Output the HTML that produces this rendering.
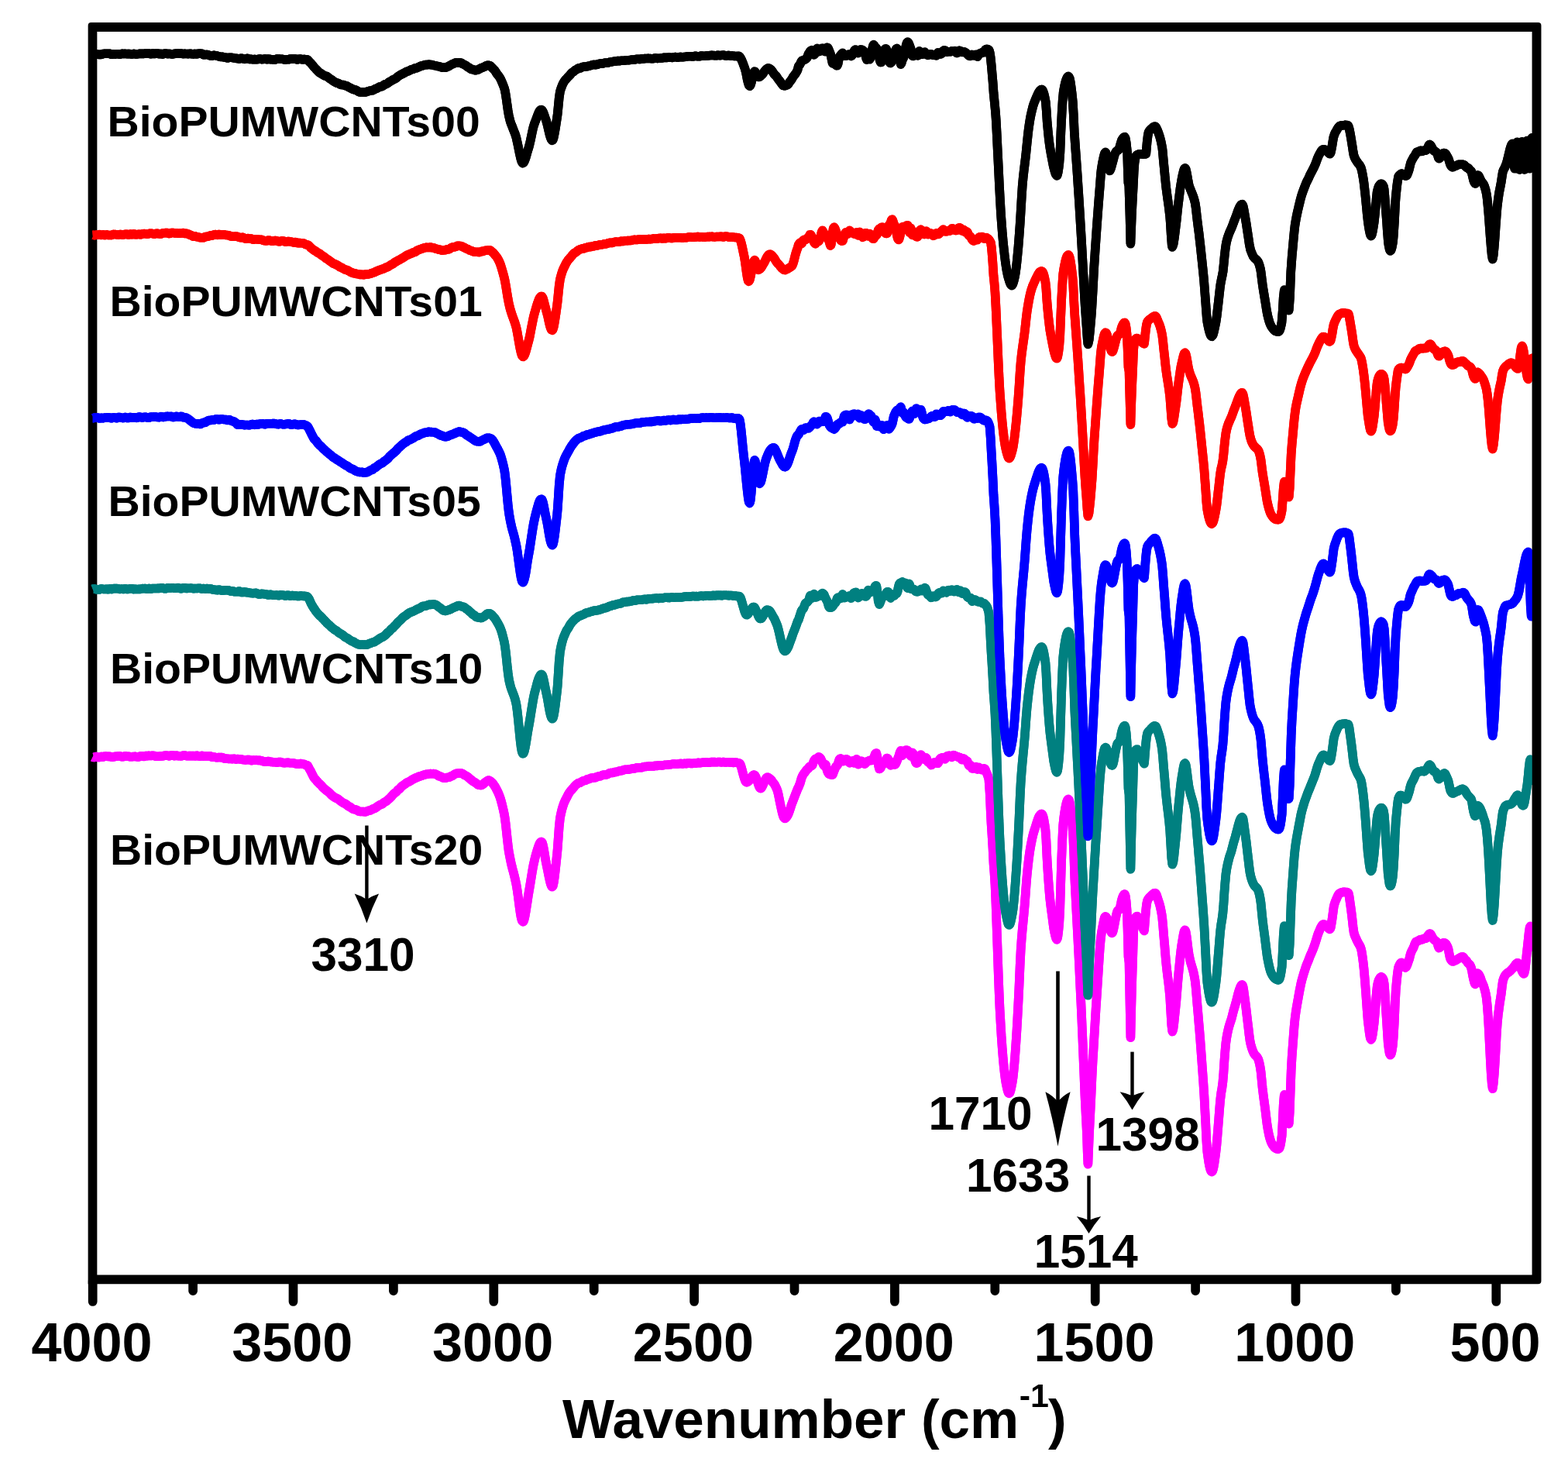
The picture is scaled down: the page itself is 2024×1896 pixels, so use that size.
<!DOCTYPE html>
<html lang="en"><head><meta charset="utf-8"><title>FTIR spectra of BioPU/MWCNTs</title>
<style>html,body{margin:0;padding:0;background:#fff}body{width:2024px;height:1896px;overflow:hidden}svg{display:block}text{font-family:"Liberation Sans",Arial,Helvetica,sans-serif;font-weight:700;fill:#000}</style></head><body>
<svg width="2024" height="1896" viewBox="0 0 2024 1896">
<rect width="2024" height="1896" fill="#fff"/>
<path fill-rule="evenodd" fill="#000" d="M117.65,28.95 H1985.45 Q1989.45,28.95 1989.45,32.95 V1653.25 Q1989.45,1657.25 1985.45,1657.25 H113.65 V32.95 Q113.65,28.95 117.65,28.95 Z M125.35,40.65 V1645.55 H1977.75 V40.65 Z"/>
<path d="M119.7,1652.9 V1680.0M249.1,1652.9 V1666.2M378.5,1652.9 V1680.0M507.9,1652.9 V1666.2M637.3,1652.9 V1680.0M766.7,1652.9 V1666.2M896.1,1652.9 V1680.0M1025.5,1652.9 V1666.2M1154.9,1652.9 V1680.0M1284.3,1652.9 V1666.2M1413.7,1652.9 V1680.0M1543.1,1652.9 V1666.2M1672.5,1652.9 V1680.0M1801.9,1652.9 V1666.2M1931.3,1652.9 V1680.0" fill="none" stroke="#000" stroke-width="11.7" stroke-linecap="round"/>
<clipPath id="plot"><rect x="113" y="30" width="1871" height="1625"/></clipPath>
<defs>
<path id="c-mag" d="M119.7,977.0L120.7,977.5L121.7,977.4L122.7,977.0L123.7,976.6L124.7,976.6L125.7,977.1L126.7,977.5L127.7,977.4L128.7,977.4L129.7,976.9L130.7,976.4L131.7,976.6L132.7,977.0L133.7,976.8L134.7,976.3L135.7,976.1L136.7,976.1L137.7,976.2L138.7,976.3L139.7,976.4L140.7,976.3L141.7,976.2L142.7,976.5L143.7,977.0L144.7,977.1L145.7,977.1L146.7,976.9L147.7,976.6L148.7,976.3L149.7,976.3L150.7,976.2L151.7,976.1L152.7,976.0L153.7,975.9L154.7,975.9L155.7,976.2L156.7,976.6L157.7,976.8L158.7,976.7L159.7,976.6L160.7,976.1L161.7,975.8L162.7,976.0L163.7,976.3L164.7,976.2L165.7,976.2L166.7,976.4L167.7,976.7L168.7,976.8L169.7,976.7L170.7,976.7L171.7,976.6L172.7,976.5L173.7,976.4L174.7,976.4L175.7,976.6L176.7,976.8L177.7,976.9L178.7,976.9L179.7,976.6L180.7,976.2L181.7,975.8L182.7,975.7L183.7,975.7L184.7,976.1L185.7,976.5L186.7,976.1L187.7,975.5L188.7,975.5L189.7,975.6L190.7,975.6L191.7,975.4L192.7,975.4L193.7,975.5L194.7,975.5L195.7,975.4L196.7,975.2L197.7,975.3L198.7,975.4L199.7,975.7L200.7,976.1L201.7,976.3L202.7,976.3L203.7,976.3L204.7,976.2L205.7,976.2L206.7,976.0L207.7,975.8L208.7,975.8L209.7,975.9L210.7,975.7L211.7,975.4L212.7,975.2L213.7,975.1L214.7,975.1L215.7,975.2L216.7,975.4L217.7,975.6L218.7,975.9L219.7,975.4L220.7,974.9L221.7,974.8L222.7,974.7L223.7,975.0L224.7,975.5L225.7,975.7L226.7,975.3L227.7,975.0L228.7,975.3L229.7,975.7L230.7,975.7L231.7,975.7L232.7,975.8L233.7,975.9L234.7,975.7L235.7,975.3L236.7,975.0L237.7,975.0L238.7,975.0L239.7,975.3L240.7,975.7L241.7,975.7L242.7,975.7L243.7,975.6L244.7,975.6L245.7,975.6L246.4,975.6L247.7,975.7L248.7,975.6L249.7,975.6L250.7,975.7L251.7,975.9L252.7,975.6L253.7,975.2L254.7,975.3L255.7,975.7L256.7,976.0L257.7,976.1L258.7,976.1L259.7,975.7L260.7,975.4L261.7,975.7L262.7,976.1L263.7,976.0L264.7,975.8L265.7,975.8L266.7,976.0L267.7,976.0L268.7,975.9L269.7,975.8L270.7,975.8L271.7,976.0L272.7,976.6L273.7,977.2L274.7,977.1L275.7,976.9L276.7,977.1L277.7,977.4L278.7,977.6L279.7,977.8L280.7,977.8L281.7,977.6L282.7,977.5L283.7,977.6L284.7,977.6L285.7,977.6L286.7,977.6L287.7,978.0L288.7,978.6L289.7,978.9L290.7,979.0L291.7,979.1L292.7,979.2L293.7,979.2L294.7,979.4L295.7,979.5L296.7,979.5L297.7,979.5L298.7,979.6L299.7,979.7L300.7,979.6L301.9,979.2L302.7,979.2L303.7,979.7L304.7,980.1L305.7,979.9L306.7,979.6L307.7,979.7L308.7,979.8L309.7,979.9L310.7,979.9L311.7,980.0L312.7,980.3L313.7,980.6L314.7,980.7L315.7,980.8L316.7,980.9L317.7,980.9L318.7,980.7L319.7,980.5L320.7,980.5L321.7,980.5L322.7,980.8L323.7,981.3L324.7,981.6L325.7,981.3L326.7,981.0L327.7,981.1L328.7,981.3L329.7,981.2L330.7,981.1L331.7,981.2L332.7,981.4L333.7,981.4L334.7,981.4L335.7,981.4L336.7,981.6L337.7,981.9L338.7,982.3L339.7,982.6L340.7,982.9L341.7,983.1L342.7,983.1L343.7,983.0L344.7,982.8L345.7,982.6L346.7,982.5L347.7,982.9L348.7,983.3L349.7,983.4L350.7,983.4L351.7,983.6L352.4,983.7L353.7,983.8L354.7,983.7L355.7,983.8L356.7,984.1L357.7,984.2L358.7,983.9L359.7,983.6L360.7,983.5L361.7,983.5L362.7,983.7L363.7,984.0L364.7,984.3L365.7,984.6L366.7,984.7L367.7,984.7L368.7,984.6L369.7,984.4L370.7,984.3L371.7,984.4L372.7,984.4L373.7,984.6L374.7,984.8L375.7,984.8L376.7,984.7L377.7,984.7L378.7,984.9L379.7,985.1L380.7,985.5L381.7,985.8L382.7,985.9L383.7,985.9L384.7,986.0L385.7,986.1L386.7,985.8L387.7,985.5L388.7,985.5L389.7,986.0L390.7,986.3L391.7,986.3L392.7,986.3L393.7,986.9L394.7,987.5L395.3,987.5L396.7,987.7L397.7,989.1L398.7,991.2L399.7,993.0L400.7,994.6L401.7,996.6L402.7,998.7L403.7,1000.7L404.7,1002.7L405.4,1003.8L406.7,1005.4L407.7,1006.4L408.7,1007.6L409.7,1008.9L410.7,1010.0L411.7,1011.0L412.7,1011.9L413.7,1012.8L414.7,1013.7L415.7,1015.0L416.7,1016.2L417.7,1017.1L418.7,1018.0L419.7,1018.9L420.7,1019.8L421.7,1020.6L422.7,1021.3L423.7,1022.0L424.7,1022.9L425.7,1023.7L426.7,1024.9L427.7,1026.0L428.7,1026.8L429.7,1027.6L430.7,1028.3L431.7,1029.0L432.7,1029.6L433.7,1030.0L434.7,1030.4L435.7,1030.9L436.7,1031.5L437.7,1032.4L438.7,1033.3L439.7,1034.0L440.7,1034.8L441.7,1035.4L442.7,1036.1L443.7,1036.6L444.7,1037.0L445.7,1037.4L446.7,1038.1L447.7,1038.9L448.7,1039.7L449.7,1040.6L450.7,1041.0L451.7,1041.2L452.7,1042.0L453.7,1042.9L454.7,1043.6L455.7,1044.2L456.7,1044.6L457.7,1044.7L458.7,1044.8L459.7,1045.2L460.7,1045.5L461.7,1046.2L462.7,1046.9L463.7,1047.2L464.7,1047.4L465.7,1047.5L466.7,1047.5L467.7,1047.5L468.7,1047.6L469.8,1047.6L470.7,1047.8L471.7,1047.9L472.7,1047.5L473.7,1047.1L474.7,1046.7L475.7,1046.3L476.7,1046.0L477.7,1045.9L478.7,1045.6L479.7,1045.0L480.7,1044.4L481.7,1044.1L482.7,1043.7L483.7,1043.3L484.7,1042.8L485.7,1042.1L486.7,1041.3L487.7,1040.6L488.7,1039.9L489.7,1039.3L490.7,1038.7L491.2,1038.4L492.7,1037.9L493.7,1037.7L494.7,1036.7L495.7,1035.7L496.7,1035.1L497.7,1034.7L498.7,1034.1L499.7,1033.2L500.7,1032.3L501.7,1031.5L502.7,1030.6L503.7,1029.7L504.7,1028.7L505.7,1027.5L506.7,1026.3L507.7,1025.2L508.7,1024.2L509.7,1023.4L510.7,1022.8L511.7,1022.0L512.7,1020.7L513.7,1019.5L514.7,1018.8L515.7,1018.2L516.7,1017.0L517.7,1015.8L518.7,1014.9L519.7,1014.1L520.7,1013.4L521.7,1012.8L522.7,1012.1L523.7,1011.2L524.7,1010.3L525.7,1009.9L526.7,1009.5L527.7,1009.0L529.1,1008.4L529.7,1007.9L530.7,1007.2L531.7,1006.5L532.7,1006.0L533.7,1005.5L534.7,1005.0L535.7,1004.4L536.7,1004.1L537.7,1003.7L538.7,1003.2L539.7,1002.6L540.7,1002.3L541.7,1002.1L542.7,1001.8L543.7,1001.5L544.7,1001.1L545.7,1000.7L546.7,1000.3L547.7,1000.0L548.7,999.8L549.7,999.5L550.7,999.3L551.7,999.2L552.7,999.1L553.7,998.9L554.7,998.7L555.7,998.6L556.8,998.7L557.7,998.8L558.7,998.7L559.7,998.6L560.7,998.8L561.7,999.1L562.7,999.4L563.7,999.9L564.7,1000.4L565.7,1001.2L566.7,1001.7L567.7,1001.9L568.7,1002.1L569.7,1002.8L570.7,1003.4L571.7,1003.8L572.7,1004.1L573.7,1004.2L574.7,1004.1L575.2,1004.1L576.7,1003.7L577.7,1003.4L578.7,1003.3L579.7,1003.2L580.7,1002.6L581.7,1002.0L582.7,1001.7L583.7,1001.5L584.7,1000.8L585.7,1000.0L586.7,999.4L587.7,998.9L588.7,998.5L589.7,998.3L590.7,998.1L591.7,998.0L592.9,997.9L593.7,997.8L594.7,997.8L595.7,998.1L596.7,998.5L597.7,999.0L598.7,999.7L599.7,1000.4L600.7,1000.9L601.7,1001.4L602.7,1002.0L603.7,1002.6L604.7,1003.5L605.7,1004.4L606.7,1005.3L607.7,1006.1L608.7,1006.9L609.7,1007.7L610.7,1008.5L611.7,1009.1L612.7,1009.6L613.7,1010.3L614.7,1011.0L615.7,1011.8L616.7,1012.6L617.7,1013.0L618.7,1013.2L619.7,1013.4L620.7,1013.5L621.7,1013.3L622.7,1012.8L623.7,1012.1L624.7,1011.1L625.7,1010.1L626.7,1009.4L627.7,1008.9L628.7,1008.1L629.7,1007.4L630.8,1007.1L631.7,1007.4L632.7,1008.0L633.7,1008.7L634.7,1009.6L635.7,1010.6L636.7,1011.9L637.7,1013.3L638.7,1014.8L639.7,1016.5L640.7,1018.3L642.1,1021.1L642.7,1022.3L643.7,1024.6L644.7,1027.1L645.7,1029.9L646.7,1033.2L647.7,1036.9L648.7,1041.0L649.7,1045.3L651.0,1051.2L651.7,1055.6L652.7,1063.3L653.7,1072.4L654.7,1081.8L655.7,1090.7L656.7,1098.4L657.3,1101.8L658.7,1108.9L659.7,1113.7L660.7,1118.1L661.7,1121.9L662.7,1125.6L663.7,1129.4L664.7,1133.6L666.1,1140.0L666.7,1143.1L667.7,1149.4L668.7,1156.5L669.7,1164.0L670.7,1171.7L671.7,1178.8L672.7,1184.4L673.7,1188.1L674.9,1189.9L675.7,1189.3L676.7,1186.5L677.7,1182.1L678.7,1176.5L679.7,1170.2L680.7,1163.8L681.7,1157.1L682.5,1152.2L683.7,1145.3L684.7,1139.2L685.7,1133.0L686.7,1126.8L687.7,1121.0L688.7,1115.7L690.1,1109.6L690.7,1107.1L691.7,1103.2L692.7,1099.8L693.7,1096.6L694.7,1093.5L695.7,1090.7L696.7,1088.5L697.7,1087.0L698.9,1086.3L699.7,1087.0L700.7,1090.1L701.7,1094.8L702.7,1100.5L703.7,1106.7L704.7,1112.4L705.2,1114.9L706.7,1122.0L707.7,1127.1L708.7,1132.0L709.7,1136.6L710.7,1140.6L711.7,1143.4L712.8,1144.8L713.7,1143.6L714.7,1139.3L715.7,1132.6L716.7,1124.4L717.7,1115.2L719.1,1102.0L719.7,1095.5L720.7,1081.7L721.7,1067.6L722.9,1056.2L723.7,1052.0L724.7,1047.4L725.7,1043.6L726.7,1040.3L727.7,1037.4L728.7,1034.9L729.7,1032.8L730.7,1030.9L731.7,1029.0L732.7,1026.9L733.7,1025.0L734.7,1023.4L735.7,1021.9L736.7,1020.7L737.7,1019.7L738.7,1018.5L739.7,1017.3L740.7,1016.1L741.7,1014.8L742.7,1013.7L743.7,1012.8L744.7,1012.1L745.7,1011.3L746.9,1010.6L747.7,1010.4L748.7,1010.2L749.7,1009.6L750.7,1009.0L751.7,1008.4L752.7,1008.0L753.7,1007.6L754.7,1007.4L755.7,1007.2L756.7,1006.6L757.7,1006.0L758.7,1005.8L759.7,1005.7L760.7,1005.3L761.7,1004.8L762.7,1004.4L763.7,1004.1L764.7,1003.9L765.7,1003.9L766.7,1003.9L767.7,1003.7L768.7,1003.5L769.7,1003.1L770.7,1002.6L771.7,1002.3L772.7,1002.0L773.7,1001.8L774.7,1001.7L775.7,1001.5L777.2,1000.7L777.7,1000.4L778.7,1000.2L779.7,1000.0L780.7,1000.0L781.7,1000.0L782.7,999.8L783.7,999.6L784.7,999.1L785.7,998.5L786.7,997.9L787.7,997.6L788.7,997.4L789.7,997.5L790.7,997.5L791.7,997.2L792.7,996.7L793.7,996.5L794.7,996.5L795.7,996.3L796.7,996.0L797.7,995.7L798.7,995.3L799.7,995.0L800.7,994.9L801.7,994.8L802.7,994.6L803.7,994.3L804.7,993.9L805.7,993.5L806.7,993.2L807.7,993.2L808.7,993.2L809.7,993.2L810.7,993.2L811.7,993.0L812.7,992.8L813.7,992.6L815.0,992.3L815.7,992.2L816.7,992.1L817.7,991.9L818.7,991.9L819.7,991.7L820.7,991.3L821.7,990.9L822.7,990.9L823.7,990.8L824.7,990.8L825.7,990.8L826.7,990.8L827.7,990.7L828.7,990.5L829.7,990.1L830.7,989.8L831.7,989.6L832.7,989.5L833.7,989.4L834.7,989.3L835.7,989.2L836.7,989.2L837.7,989.0L838.7,988.8L839.7,988.7L840.7,988.9L841.7,989.0L842.7,989.0L843.7,988.9L844.7,988.6L845.7,988.2L846.7,988.3L847.7,988.5L848.7,988.3L849.7,988.0L850.7,987.8L851.7,987.8L852.7,987.8L853.7,987.9L854.7,987.9L855.7,987.8L856.7,987.6L857.7,987.4L858.7,987.2L859.7,987.2L860.7,987.2L861.7,987.1L862.7,986.9L863.7,986.8L864.7,986.8L865.7,986.8L866.7,986.5L867.7,986.2L868.7,986.1L869.7,986.0L870.7,986.0L871.7,986.2L872.7,986.3L873.7,986.2L874.7,986.1L875.7,985.9L876.7,985.8L878.1,985.5L878.7,985.4L879.7,985.7L880.7,986.0L881.7,985.8L882.7,985.4L883.7,985.3L884.7,985.6L885.7,985.7L886.7,985.4L887.7,985.0L888.7,985.0L889.7,984.9L890.7,985.1L891.7,985.4L892.7,985.4L893.7,985.4L894.7,985.3L895.7,985.1L896.7,985.0L897.7,985.1L898.7,985.1L899.7,984.7L900.7,984.3L901.7,984.5L902.7,984.7L903.7,984.7L904.7,984.6L905.7,984.4L906.7,984.2L907.7,984.1L908.7,984.2L909.7,984.3L910.7,984.0L911.7,983.8L912.7,984.0L913.7,984.3L914.7,984.3L915.7,984.2L916.7,984.0L917.7,983.7L918.7,983.5L919.7,983.6L920.7,983.6L921.7,983.6L922.7,983.6L923.7,983.7L924.7,983.7L925.7,983.7L926.7,983.6L927.7,983.5L928.6,983.5L929.7,983.6L930.7,983.8L931.7,983.9L932.7,983.7L933.7,983.5L934.7,983.7L935.7,984.0L936.7,984.0L937.7,983.9L938.7,983.8L939.7,983.8L940.7,983.8L941.7,984.0L942.7,984.1L943.7,983.9L944.7,983.7L945.7,984.1L946.7,984.4L947.7,984.3L948.7,984.0L949.7,984.0L950.7,984.3L951.7,984.5L952.7,984.8L953.8,984.9L954.7,985.2L955.7,986.6L956.7,989.5L957.7,993.1L958.7,996.9L959.7,1000.7L960.7,1004.2L961.7,1007.1L962.7,1009.1L963.9,1009.8L964.7,1009.4L965.7,1008.9L966.7,1007.9L967.7,1006.6L968.7,1005.2L969.7,1003.6L970.7,1002.0L971.7,1000.9L972.7,1000.2L973.5,1000.1L974.7,1001.0L975.7,1003.1L976.7,1005.7L977.7,1008.6L978.7,1011.8L979.7,1014.7L980.7,1016.7L981.6,1017.6L982.7,1017.1L983.7,1015.5L984.7,1013.4L985.7,1011.1L986.7,1008.7L987.7,1006.5L988.7,1004.7L989.7,1003.5L990.4,1003.2L991.7,1003.5L992.7,1004.3L993.7,1005.0L994.7,1005.8L995.7,1006.8L996.7,1008.3L997.7,1009.9L998.7,1011.0L999.7,1012.2L1000.7,1014.2L1001.8,1016.4L1002.7,1018.3L1003.7,1021.2L1004.7,1025.2L1005.7,1030.1L1006.7,1035.2L1007.7,1039.9L1008.7,1044.5L1009.7,1048.9L1010.7,1052.6L1011.7,1055.1L1013.1,1056.4L1013.7,1056.2L1014.7,1055.3L1015.7,1054.1L1016.7,1052.6L1017.7,1050.5L1018.7,1047.8L1019.7,1044.9L1020.7,1041.8L1021.7,1038.6L1022.7,1035.9L1023.7,1033.3L1024.5,1031.3L1025.7,1028.1L1026.7,1025.5L1027.7,1023.0L1028.7,1020.5L1029.7,1017.9L1030.7,1016.1L1031.7,1013.6L1032.7,1011.2L1033.7,1007.6L1034.6,1004.4L1035.7,1001.7L1036.7,999.9L1037.7,998.4L1038.7,997.1L1039.7,995.8L1040.7,994.4L1041.7,993.1L1042.9,992.1L1043.7,991.5L1044.7,989.8L1045.7,989.1L1046.7,988.6L1047.7,988.7L1048.7,987.3L1049.7,984.3L1050.7,981.8L1051.7,980.5L1052.7,979.3L1053.7,979.2L1054.7,979.1L1055.7,978.0L1056.7,976.9L1057.7,977.3L1058.7,978.3L1059.3,979.1L1060.7,982.0L1061.7,984.4L1062.7,986.5L1063.7,988.6L1064.7,987.5L1065.7,986.5L1066.7,990.3L1067.7,994.6L1068.7,997.1L1069.7,998.6L1070.7,999.5L1071.9,999.6L1072.7,999.7L1073.7,1000.1L1074.7,1000.0L1075.7,997.5L1076.7,994.8L1077.7,992.4L1078.7,989.9L1079.7,988.6L1080.7,988.0L1081.7,985.8L1082.7,982.3L1083.7,979.7L1084.7,979.0L1085.8,979.2L1086.7,980.9L1087.7,982.8L1088.7,982.4L1089.7,981.6L1090.7,980.8L1091.7,979.9L1092.7,979.8L1093.7,980.6L1094.7,981.7L1095.7,983.4L1096.7,984.9L1097.7,984.3L1098.7,983.6L1099.7,982.7L1100.7,981.8L1101.7,982.9L1102.7,985.0L1103.7,984.3L1104.7,981.0L1105.7,979.8L1106.7,983.5L1107.7,986.7L1108.7,986.0L1109.7,985.2L1110.7,983.7L1111.7,982.0L1112.7,982.7L1113.6,984.1L1114.7,985.4L1115.7,986.1L1116.7,986.0L1117.7,984.6L1118.7,983.3L1119.7,982.8L1120.7,982.3L1121.7,981.9L1122.7,981.4L1123.7,981.4L1124.7,981.5L1125.7,981.3L1126.7,980.8L1127.7,979.4L1128.7,976.2L1129.7,973.2L1130.7,972.2L1131.2,971.7L1132.7,978.2L1133.7,986.4L1135.0,992.4L1135.7,992.4L1136.7,991.3L1137.7,989.1L1138.7,986.9L1139.7,985.5L1140.7,984.2L1141.7,984.5L1142.7,985.4L1143.9,981.3L1144.7,978.6L1145.7,978.6L1146.7,980.2L1147.7,982.7L1148.7,986.1L1149.7,987.9L1150.7,985.7L1151.7,983.7L1152.7,985.2L1154.0,986.6L1154.7,987.1L1155.7,986.6L1156.7,984.8L1157.7,982.4L1158.7,979.7L1159.7,977.2L1160.7,974.5L1161.5,971.5L1162.7,968.7L1163.7,972.0L1164.7,975.2L1165.7,973.4L1166.7,971.0L1167.7,969.5L1168.7,968.5L1169.7,968.0L1170.7,968.3L1171.7,968.8L1172.7,970.2L1173.7,971.6L1174.7,973.8L1175.7,976.0L1176.7,973.5L1177.7,971.2L1178.7,972.7L1179.7,975.7L1180.7,979.5L1181.7,983.3L1182.7,985.1L1183.7,984.9L1184.7,984.1L1185.7,980.4L1186.7,976.6L1187.7,975.2L1188.7,974.0L1189.7,975.3L1190.7,977.8L1191.8,979.3L1192.7,980.0L1193.7,980.1L1194.7,977.7L1195.7,978.2L1196.7,980.8L1197.7,983.4L1198.7,984.0L1199.7,984.2L1200.7,985.6L1201.9,987.5L1202.7,987.2L1203.7,985.7L1204.7,984.6L1205.7,984.2L1206.7,983.8L1207.7,984.4L1208.7,984.8L1209.7,985.0L1210.7,985.2L1211.7,983.3L1212.7,980.6L1213.7,979.0L1214.7,978.5L1215.7,978.1L1217.1,977.7L1217.7,977.7L1218.7,978.9L1219.7,980.0L1220.7,978.5L1221.7,976.6L1222.7,975.8L1223.7,975.5L1224.7,975.4L1225.7,975.4L1226.7,975.8L1227.7,976.7L1228.7,977.5L1229.7,976.0L1230.7,974.6L1231.7,974.9L1232.7,975.5L1233.7,975.9L1234.7,976.2L1235.7,976.5L1236.7,977.0L1237.7,977.4L1238.7,977.6L1239.7,977.9L1240.7,979.4L1241.7,980.8L1242.7,980.0L1243.7,979.0L1244.8,979.8L1245.7,981.0L1246.7,981.7L1247.7,981.7L1248.7,982.6L1249.7,985.5L1250.7,988.0L1251.7,987.9L1252.7,987.6L1253.7,989.5L1254.9,991.9L1255.7,991.9L1256.7,991.6L1257.7,990.9L1258.7,989.9L1259.7,989.7L1260.7,991.6L1261.7,993.2L1262.7,991.8L1263.7,990.4L1264.7,991.3L1265.7,992.6L1266.7,993.3L1267.7,993.8L1268.7,993.5L1270.1,991.9L1270.7,991.8L1271.7,992.8L1272.7,995.8L1273.7,997.8L1274.7,1000.3L1275.7,1003.4L1276.4,1005.9L1277.7,1024.2L1278.7,1046.6L1279.5,1062.5L1280.5,1077.8L1281.5,1094.5L1282.5,1114.3L1283.5,1126.9L1284.5,1142.4L1285.5,1166.3L1286.5,1194.0L1287.5,1222.2L1288.5,1251.2L1289.5,1277.7L1290.5,1301.2L1291.6,1320.4L1292.6,1337.1L1293.6,1351.4L1294.6,1364.0L1295.6,1375.0L1296.6,1384.2L1297.6,1392.1L1298.6,1398.2L1299.6,1403.0L1300.6,1407.4L1301.6,1410.4L1302.6,1411.4L1303.6,1410.1L1304.6,1407.0L1305.6,1402.5L1306.6,1397.3L1307.6,1390.9L1308.6,1381.5L1309.6,1370.7L1310.6,1357.9L1311.6,1343.5L1312.6,1327.8L1313.6,1310.2L1314.6,1291.3L1315.6,1270.6L1316.6,1247.1L1317.6,1227.2L1318.6,1212.9L1319.6,1201.1L1320.6,1190.6L1321.6,1180.4L1322.6,1169.3L1323.6,1156.3L1324.6,1142.3L1325.6,1130.1L1326.6,1120.2L1327.6,1111.3L1328.6,1103.5L1329.6,1096.7L1330.6,1090.9L1331.6,1085.8L1332.6,1081.1L1333.6,1076.9L1334.6,1073.4L1335.6,1070.3L1336.6,1067.2L1337.6,1063.9L1338.6,1060.7L1339.6,1057.8L1340.6,1055.2L1341.6,1053.2L1342.6,1051.8L1343.6,1050.8L1344.5,1050.4L1345.5,1051.3L1346.5,1053.9L1347.5,1058.1L1348.5,1064.1L1349.5,1071.3L1350.4,1083.6L1351.4,1105.7L1352.4,1122.6L1353.4,1137.4L1354.4,1150.2L1355.3,1160.4L1356.3,1168.9L1357.3,1176.4L1358.3,1183.7L1359.3,1191.4L1360.2,1198.2L1361.2,1203.3L1362.2,1207.7L1363.2,1211.3L1364.2,1212.9L1365.2,1210.1L1366.2,1202.8L1367.2,1192.4L1368.2,1175.2L1369.2,1141.4L1370.2,1110.1L1371.2,1085.5L1372.2,1065.3L1373.2,1055.5L1374.2,1048.5L1375.2,1042.7L1376.2,1037.9L1377.2,1034.3L1378.2,1032.0L1379.2,1031.4L1380.2,1033.2L1381.2,1037.8L1382.2,1045.1L1383.2,1054.8L1384.3,1066.6L1385.3,1079.6L1386.3,1104.9L1387.3,1134.0L1388.3,1154.2L1389.3,1172.9L1390.3,1192.0L1391.3,1211.1L1392.3,1230.5L1393.3,1251.0L1394.3,1272.4L1395.4,1294.5L1396.4,1317.1L1397.4,1340.4L1398.4,1364.1L1399.4,1388.0L1400.4,1413.4L1402.0,1445.3L1402.9,1462.4L1403.7,1487.6L1404.4,1502.7L1406.0,1463.4L1406.9,1445.5L1407.7,1429.6L1408.5,1413.3L1409.5,1390.7L1410.5,1371.1L1411.6,1352.9L1412.6,1335.7L1413.6,1318.9L1414.6,1302.2L1415.7,1285.9L1416.7,1270.3L1417.7,1254.9L1418.7,1239.0L1419.8,1222.6L1420.8,1211.9L1421.8,1204.2L1422.8,1198.4L1423.9,1192.9L1424.9,1187.9L1425.9,1184.1L1426.9,1182.7L1427.9,1183.5L1428.9,1185.6L1429.8,1188.4L1430.8,1191.7L1431.8,1195.3L1432.7,1198.8L1433.7,1201.7L1434.6,1203.7L1435.6,1204.4L1436.6,1202.3L1437.6,1197.9L1438.6,1192.9L1439.6,1187.4L1440.7,1182.0L1441.7,1177.7L1442.7,1175.3L1443.7,1174.8L1444.7,1174.3L1445.7,1172.5L1446.7,1167.5L1447.7,1162.4L1448.8,1158.6L1449.8,1156.3L1450.8,1154.6L1451.8,1153.9L1452.7,1156.4L1453.7,1163.6L1454.6,1174.8L1455.6,1201.1L1456.5,1234.8L1457.5,1242.6L1458.4,1289.7L1459.4,1339.3L1460.3,1299.9L1461.3,1264.4L1462.3,1233.6L1463.2,1202.7L1464.2,1190.4L1465.1,1185.3L1466.1,1183.8L1467.0,1182.9L1468.0,1182.5L1469.0,1184.7L1470.0,1186.9L1471.0,1189.1L1472.0,1191.0L1473.0,1193.0L1474.0,1195.1L1475.0,1197.3L1476.0,1199.4L1477.0,1201.5L1478.0,1188.4L1479.0,1176.2L1480.0,1167.3L1481.0,1162.5L1482.0,1160.4L1483.0,1159.2L1484.0,1158.2L1485.0,1157.2L1486.0,1156.1L1487.0,1155.1L1488.0,1154.2L1489.0,1153.4L1490.0,1152.8L1491.0,1152.6L1492.0,1153.3L1493.1,1155.6L1494.1,1158.7L1495.1,1161.8L1496.1,1164.8L1497.1,1168.1L1498.1,1172.3L1499.1,1177.3L1500.1,1183.4L1501.1,1193.4L1502.1,1206.2L1503.2,1218.5L1504.2,1231.1L1505.2,1242.5L1506.2,1251.8L1507.2,1260.0L1508.2,1267.9L1509.2,1276.6L1510.2,1287.0L1511.2,1304.3L1512.3,1323.0L1513.3,1331.6L1514.3,1328.7L1515.3,1321.5L1516.3,1311.6L1517.4,1301.1L1518.4,1291.1L1519.4,1278.9L1520.4,1266.5L1521.4,1255.6L1522.5,1244.8L1523.5,1234.6L1524.5,1225.7L1525.5,1218.6L1526.6,1212.1L1527.6,1206.2L1528.6,1201.9L1529.6,1200.2L1530.6,1202.4L1531.6,1208.3L1532.6,1216.1L1533.6,1224.3L1534.6,1231.3L1535.6,1236.4L1536.5,1240.6L1537.5,1244.1L1538.5,1247.4L1539.5,1250.8L1540.5,1254.6L1541.5,1259.2L1542.5,1264.8L1543.5,1273.0L1544.5,1284.9L1545.5,1297.2L1546.5,1308.4L1547.4,1319.5L1548.4,1331.0L1549.4,1343.5L1550.4,1357.0L1551.4,1370.9L1552.4,1384.7L1553.4,1398.7L1554.4,1414.4L1555.4,1433.4L1556.4,1452.3L1557.3,1471.8L1558.3,1486.1L1559.3,1493.5L1560.3,1500.1L1561.3,1505.4L1562.3,1509.3L1563.3,1511.7L1564.3,1512.6L1565.3,1511.2L1566.3,1507.6L1567.3,1502.3L1568.3,1495.4L1569.3,1488.1L1570.3,1479.6L1571.3,1468.1L1572.3,1455.4L1573.3,1442.9L1574.3,1429.8L1575.3,1418.5L1576.3,1410.5L1577.4,1404.2L1578.4,1396.8L1579.4,1384.9L1580.4,1369.5L1581.4,1356.6L1582.4,1345.8L1583.4,1338.9L1584.4,1333.4L1585.4,1328.9L1586.4,1325.0L1587.4,1321.7L1588.4,1318.7L1589.4,1315.7L1590.4,1312.0L1591.4,1307.9L1592.4,1304.0L1593.5,1300.3L1594.5,1296.9L1595.5,1293.3L1596.5,1289.4L1597.5,1285.4L1598.5,1281.6L1599.5,1278.3L1600.5,1275.5L1601.5,1273.0L1602.5,1271.4L1603.5,1270.8L1604.5,1273.2L1605.5,1279.0L1606.5,1286.5L1607.5,1294.0L1608.5,1302.0L1609.5,1310.7L1610.5,1319.1L1611.5,1327.3L1612.5,1336.0L1613.5,1343.3L1614.5,1348.0L1615.5,1351.6L1616.5,1354.7L1617.5,1357.3L1618.5,1359.4L1619.5,1361.0L1620.5,1362.1L1621.5,1363.0L1622.5,1364.1L1623.5,1365.7L1624.6,1368.2L1625.6,1371.9L1626.6,1376.8L1627.6,1383.4L1628.6,1393.6L1629.6,1404.1L1630.6,1412.3L1631.6,1419.9L1632.6,1427.2L1633.6,1435.1L1634.6,1443.6L1635.6,1451.4L1636.6,1457.5L1637.6,1462.7L1638.6,1467.1L1639.6,1470.7L1640.6,1473.6L1641.6,1475.8L1642.6,1477.6L1643.6,1479.1L1644.6,1480.3L1645.6,1481.3L1646.6,1482.1L1647.6,1482.6L1648.6,1482.9L1649.6,1483.1L1650.6,1483.0L1651.6,1481.7L1652.7,1478.2L1653.7,1472.7L1654.7,1465.6L1655.7,1447.0L1656.8,1424.1L1657.8,1412.9L1658.8,1418.5L1659.8,1429.4L1660.7,1437.2L1661.7,1443.5L1662.7,1448.5L1663.7,1450.6L1664.7,1435.9L1665.7,1407.7L1666.7,1381.0L1667.6,1364.7L1668.6,1351.1L1669.6,1337.6L1670.6,1324.8L1671.6,1314.6L1672.6,1306.9L1673.6,1300.5L1674.6,1294.7L1675.6,1289.2L1676.6,1283.6L1677.6,1278.1L1678.6,1273.2L1679.5,1268.7L1680.5,1264.8L1681.5,1261.2L1682.5,1257.8L1683.5,1254.6L1684.5,1251.5L1685.5,1248.4L1686.5,1245.5L1687.5,1243.1L1688.5,1240.8L1689.5,1238.2L1690.5,1235.4L1691.4,1233.2L1692.4,1231.0L1693.4,1228.7L1694.4,1226.3L1695.4,1223.8L1696.4,1221.1L1697.4,1218.2L1698.4,1215.0L1699.4,1211.7L1700.4,1208.4L1701.4,1205.4L1702.4,1202.8L1703.4,1200.6L1704.3,1198.4L1705.3,1196.4L1706.3,1194.7L1707.3,1193.4L1708.3,1192.9L1709.3,1193.1L1710.2,1193.6L1711.1,1194.3L1712.1,1195.1L1713.0,1195.9L1714.0,1197.0L1714.9,1198.2L1715.9,1199.0L1716.8,1199.4L1717.8,1196.8L1718.8,1191.0L1719.8,1184.5L1721.7,1170.1L1722.7,1166.3L1723.7,1163.4L1724.7,1161.2L1725.6,1159.0L1726.6,1156.7L1727.6,1154.8L1728.6,1153.4L1729.6,1152.7L1730.5,1152.3L1731.5,1151.9L1732.5,1151.6L1733.5,1151.4L1734.5,1151.4L1735.5,1151.4L1736.5,1151.4L1737.5,1151.5L1738.5,1151.6L1739.5,1151.9L1740.5,1152.3L1741.5,1156.5L1742.5,1163.5L1743.5,1170.5L1744.6,1178.8L1745.6,1187.3L1746.6,1196.5L1747.6,1203.6L1748.6,1207.1L1749.6,1209.5L1750.6,1211.6L1751.6,1213.9L1752.6,1215.9L1753.6,1217.7L1754.6,1219.4L1755.7,1221.4L1756.7,1224.0L1757.7,1228.3L1758.7,1234.8L1759.7,1242.6L1760.7,1251.7L1761.7,1263.3L1762.7,1276.1L1763.7,1290.0L1764.7,1304.4L1765.7,1317.4L1766.8,1326.1L1767.8,1333.9L1768.8,1339.7L1769.8,1342.0L1770.8,1340.0L1771.8,1334.9L1772.8,1327.7L1773.8,1319.7L1774.8,1308.1L1775.8,1295.2L1776.8,1281.5L1777.8,1272.4L1778.8,1267.8L1779.8,1264.8L1780.8,1263.0L1781.9,1261.4L1782.9,1260.7L1783.8,1261.2L1784.8,1262.4L1785.8,1264.5L1786.8,1270.3L1787.8,1283.9L1788.7,1298.0L1789.7,1313.7L1790.7,1330.0L1791.7,1345.7L1792.7,1353.8L1793.6,1359.4L1794.6,1361.8L1795.7,1360.5L1796.7,1356.4L1797.7,1350.2L1798.7,1338.9L1799.8,1320.0L1800.8,1295.6L1801.8,1277.7L1802.9,1265.7L1803.9,1256.3L1804.9,1249.4L1805.9,1246.5L1807.0,1244.3L1808.0,1242.9L1809.0,1242.3L1810.1,1243.2L1811.1,1244.8L1812.2,1246.6L1812.7,1247.6L1813.2,1248.3L1814.2,1249.0L1815.3,1247.9L1816.3,1245.7L1817.3,1243.0L1818.3,1240.0L1819.3,1237.2L1820.3,1232.8L1821.3,1229.6L1822.3,1227.3L1823.4,1225.3L1824.4,1223.3L1825.4,1220.8L1826.4,1218.0L1827.4,1215.9L1828.4,1215.1L1829.4,1214.9L1830.4,1214.4L1831.5,1213.9L1832.5,1213.2L1833.5,1212.5L1834.5,1212.7L1835.5,1212.9L1836.5,1212.4L1837.5,1211.6L1838.5,1211.3L1839.6,1211.3L1840.6,1211.2L1841.6,1210.3L1842.6,1208.5L1843.6,1207.0L1844.6,1205.8L1845.6,1204.9L1846.6,1205.4L1847.6,1207.1L1848.6,1209.2L1849.6,1210.9L1850.5,1212.2L1851.5,1213.2L1852.5,1214.0L1853.5,1214.8L1854.5,1215.4L1855.4,1217.0L1856.4,1221.0L1857.4,1223.6L1858.4,1223.2L1859.5,1221.6L1860.5,1219.6L1861.5,1217.9L1862.5,1217.0L1863.6,1216.9L1864.6,1217.0L1865.6,1217.3L1866.6,1218.4L1867.5,1220.0L1868.5,1221.9L1869.5,1224.9L1870.5,1230.1L1871.5,1235.2L1872.4,1238.1L1873.4,1239.6L1874.4,1240.7L1875.4,1240.9L1876.4,1240.6L1877.4,1240.2L1878.3,1239.8L1879.3,1239.3L1880.3,1238.8L1881.3,1238.1L1882.3,1237.4L1883.2,1236.9L1884.2,1236.4L1885.2,1235.7L1886.2,1235.1L1887.2,1234.9L1888.1,1234.8L1889.1,1235.5L1890.1,1237.0L1891.1,1238.4L1892.1,1239.2L1893.1,1240.1L1894.1,1241.8L1895.1,1243.3L1896.1,1244.0L1897.0,1244.8L1898.0,1246.5L1899.0,1249.0L1900.0,1253.0L1901.0,1259.0L1902.0,1263.6L1903.0,1267.5L1904.0,1270.4L1905.0,1269.1L1906.0,1261.6L1906.9,1256.0L1907.9,1256.6L1908.9,1257.9L1909.9,1259.5L1910.9,1261.8L1911.9,1264.9L1912.9,1267.7L1913.9,1269.7L1914.9,1272.0L1915.8,1274.9L1916.8,1278.3L1917.8,1282.5L1918.8,1288.3L1919.8,1298.0L1920.8,1311.5L1921.8,1328.5L1922.8,1348.2L1923.8,1368.2L1924.7,1384.8L1925.7,1398.3L1926.7,1405.3L1927.7,1398.7L1928.8,1386.3L1929.8,1370.7L1930.8,1353.1L1931.8,1334.8L1932.8,1320.2L1933.8,1310.1L1934.9,1301.9L1935.9,1294.5L1936.9,1288.3L1937.9,1282.0L1938.9,1273.0L1939.9,1266.1L1941.0,1262.7L1942.0,1260.5L1943.0,1258.6L1944.7,1256.7L1945.7,1255.8L1946.7,1255.2L1947.7,1254.7L1948.7,1253.8L1949.7,1252.8L1950.7,1251.8L1951.2,1251.4L1952.7,1249.8L1953.7,1248.6L1954.7,1247.2L1955.7,1245.7L1956.7,1244.4L1957.7,1243.4L1958.7,1242.8L1959.3,1242.7L1960.7,1243.8L1961.7,1245.7L1962.7,1248.3L1963.7,1251.1L1964.7,1253.5L1965.7,1255.4L1966.7,1256.7L1967.3,1256.9L1968.7,1250.9L1969.7,1241.6L1970.7,1231.0L1971.4,1225.0L1972.7,1212.6L1973.7,1203.2L1974.7,1196.7L1975.4,1195.4L1976.7,1213.5L1977.5,1222.3L1978.7,1221.7L1979.7,1220.7L1980.7,1218.0"/>
<path id="c-teal" d="M119.7,760.4L120.7,760.0L121.7,760.0L122.7,760.2L123.7,760.5L124.7,760.7L125.7,760.9L126.7,761.0L127.7,761.0L128.7,760.9L129.7,760.3L130.7,759.7L131.7,760.0L132.7,760.3L133.7,760.4L134.7,760.5L135.7,760.4L136.7,760.3L137.7,760.3L138.7,760.5L139.7,760.7L140.7,760.2L141.7,759.8L142.7,760.1L143.7,760.6L144.7,760.3L145.7,759.8L146.7,759.6L147.7,759.6L148.7,759.6L149.7,759.6L150.7,759.6L151.7,759.7L152.7,759.8L153.7,760.1L154.7,760.4L155.7,760.3L156.7,760.1L157.7,760.2L158.7,760.4L159.7,760.5L160.7,760.1L161.7,759.7L162.7,760.1L163.7,760.4L164.7,760.4L165.7,760.4L166.7,760.2L167.7,759.8L168.7,759.7L169.7,759.7L170.7,759.8L171.7,760.3L172.7,760.6L173.7,760.4L174.7,760.2L175.7,760.4L176.7,760.5L177.7,760.5L178.7,760.4L179.7,760.4L180.7,760.4L181.7,760.3L182.7,760.0L183.7,759.6L184.7,759.7L185.7,759.7L186.7,759.6L187.7,759.6L188.7,759.9L189.7,760.3L190.7,760.2L191.7,759.6L192.7,759.4L193.7,759.9L194.7,760.3L195.7,759.9L196.7,759.5L197.7,759.5L198.7,759.5L199.7,759.5L200.7,759.5L201.7,759.5L202.7,759.4L203.7,759.3L204.7,759.4L205.7,759.4L206.7,759.2L207.7,758.9L208.7,758.9L209.7,758.9L210.7,759.2L211.7,759.6L212.7,759.8L213.7,759.8L214.7,759.6L215.7,759.1L216.7,758.7L217.7,758.9L218.7,759.0L219.7,759.0L220.7,758.9L221.7,758.8L222.7,758.7L223.7,758.8L224.7,759.2L225.7,759.3L226.7,759.2L227.7,759.1L228.7,758.8L229.7,758.6L230.7,758.9L231.7,759.3L232.7,759.5L233.7,759.7L234.7,759.5L235.7,759.0L236.7,758.7L237.7,758.7L238.7,758.8L239.7,759.1L240.7,759.5L241.7,759.4L242.7,759.2L243.7,759.2L244.7,759.2L245.7,759.2L246.4,759.1L247.7,759.2L248.7,759.5L249.7,759.8L250.7,759.6L251.7,759.5L252.7,759.5L253.7,759.5L254.7,759.4L255.7,759.3L256.7,759.3L257.7,759.3L258.7,759.5L259.7,759.9L260.7,760.1L261.7,759.7L262.7,759.3L263.7,759.7L264.7,760.3L265.7,760.1L266.7,759.6L267.7,759.6L268.7,760.0L269.7,760.3L270.7,759.9L271.7,759.7L272.7,760.2L273.7,760.8L274.7,760.9L275.7,760.9L276.7,761.1L277.7,761.3L278.7,761.5L279.7,761.6L280.7,761.6L281.7,761.3L282.7,761.1L283.7,761.4L284.7,761.7L285.7,762.0L286.7,762.2L287.7,762.2L288.7,762.1L289.7,762.0L290.7,761.8L291.7,761.7L292.7,761.8L293.7,761.9L294.7,762.0L295.7,762.1L296.7,762.6L297.7,763.1L298.7,763.1L299.7,762.8L300.7,762.9L301.9,763.4L302.7,763.7L303.7,763.7L304.7,763.8L305.7,763.8L306.7,763.8L307.7,763.4L308.7,763.0L309.7,763.4L310.7,764.1L311.7,764.5L312.7,764.6L313.7,764.5L314.7,764.1L315.7,763.7L316.7,764.2L317.7,764.8L318.7,764.7L319.7,764.6L320.7,764.8L321.7,765.1L322.7,765.3L323.7,765.5L324.7,765.6L325.7,765.7L326.7,765.8L327.7,765.6L328.7,765.5L329.7,765.4L330.7,765.4L331.7,765.8L332.7,766.5L333.7,766.9L334.7,767.0L335.7,767.0L336.7,766.6L337.7,766.3L338.7,766.4L339.7,766.5L340.7,766.7L341.7,766.9L342.7,767.0L343.7,767.1L344.7,767.4L345.7,767.8L346.7,768.0L347.7,767.6L348.7,767.3L349.7,767.5L350.7,767.7L351.7,768.0L352.4,768.2L353.7,768.3L354.7,768.3L355.7,768.2L356.7,768.1L357.7,768.1L358.7,768.5L359.7,768.8L360.7,768.4L361.7,767.9L362.7,767.9L363.7,768.0L364.7,768.1L365.7,768.3L366.7,768.5L367.7,768.9L368.7,769.0L369.7,768.6L370.7,768.3L371.7,768.2L372.7,768.2L373.7,768.7L374.7,769.2L375.7,769.1L376.7,768.5L377.7,768.5L378.7,768.9L379.7,769.1L380.7,768.9L381.7,768.7L382.7,769.0L383.7,769.4L384.7,769.5L385.7,769.5L386.7,769.3L387.7,768.9L388.7,768.9L389.7,769.1L390.7,769.3L391.7,769.4L392.7,769.4L393.7,769.4L394.7,769.5L395.3,769.5L396.7,770.1L397.7,771.2L398.7,772.7L399.7,774.7L400.7,777.1L401.7,779.2L402.7,781.0L403.7,782.7L404.7,784.4L405.4,785.4L406.7,787.3L407.7,788.8L408.7,790.1L409.7,791.3L410.7,792.4L411.7,793.6L412.7,794.6L413.7,795.4L414.7,796.2L415.7,797.4L416.7,798.5L417.7,799.5L418.7,800.5L419.7,801.6L420.7,802.7L421.7,803.8L422.7,804.8L423.7,805.7L424.7,806.5L425.7,807.3L426.7,808.4L427.7,809.4L428.7,810.2L429.7,811.0L430.7,811.8L431.7,812.6L432.7,813.2L433.7,813.7L434.7,814.3L435.7,815.2L436.7,816.2L437.7,816.8L438.7,817.5L439.7,818.0L440.7,818.5L441.7,819.1L442.7,819.9L443.7,820.7L444.7,821.7L445.7,822.5L446.7,822.9L447.7,823.3L448.7,823.9L449.7,824.6L450.7,825.4L451.7,826.1L452.7,826.8L453.7,827.4L454.7,827.8L455.7,828.1L456.7,828.4L457.7,829.2L458.7,829.9L459.7,830.4L460.7,830.9L461.7,831.3L462.7,831.7L463.7,831.9L464.7,832.1L465.7,832.1L466.7,832.0L467.7,831.9L468.7,832.0L469.8,832.1L470.7,832.2L471.7,832.1L472.7,832.1L473.7,832.1L474.7,831.7L475.7,831.1L476.7,830.7L477.7,830.4L478.7,830.1L479.7,829.6L480.7,829.1L481.7,828.9L482.7,828.7L483.7,828.2L484.7,827.6L485.7,827.0L486.7,826.4L487.7,825.7L488.7,825.1L489.7,824.4L490.7,823.6L491.2,823.3L492.7,822.7L493.7,822.4L494.7,821.8L495.7,821.0L496.7,820.2L497.7,819.4L498.7,818.4L499.7,817.1L500.7,816.1L501.7,815.5L502.7,814.8L503.7,813.5L504.7,812.2L505.7,811.4L506.7,810.8L507.7,809.8L508.7,808.6L509.7,807.6L510.7,806.7L511.7,805.7L512.7,804.4L513.7,803.1L514.7,802.3L515.7,801.4L516.7,800.5L517.7,799.6L518.7,798.5L519.7,797.3L520.7,796.4L521.7,795.7L522.7,795.1L523.7,794.4L524.7,793.7L525.7,792.9L526.7,792.1L527.7,791.4L529.1,790.6L529.7,790.4L530.7,790.0L531.7,789.6L532.7,789.2L533.7,788.9L534.7,788.4L535.7,787.9L536.7,787.3L537.7,786.7L538.7,786.3L539.7,785.8L540.7,785.4L541.7,785.0L542.7,784.5L543.7,783.7L544.7,783.0L545.7,782.6L546.7,782.2L547.7,782.2L548.7,782.2L549.7,781.9L550.7,781.6L551.7,781.1L552.7,780.6L553.7,780.4L554.7,780.4L555.7,780.4L556.7,780.3L557.7,780.2L558.7,780.0L559.4,779.9L560.7,780.0L561.7,780.3L562.7,780.8L563.7,781.3L564.7,782.0L565.7,783.0L566.7,783.8L567.7,784.3L568.7,784.9L569.7,785.9L570.7,786.8L571.7,787.5L572.7,788.0L573.7,788.3L574.7,788.4L575.2,788.4L576.7,788.0L577.7,787.6L578.7,787.4L579.7,787.1L580.7,786.7L581.7,786.3L582.7,785.7L583.7,785.1L584.7,784.6L585.7,784.2L586.7,783.8L587.7,783.4L588.7,783.0L589.7,782.4L590.7,781.9L591.7,781.7L592.9,781.6L593.7,781.9L594.7,782.3L595.7,782.7L596.7,783.0L597.7,783.3L598.7,783.5L599.7,784.0L600.7,784.9L601.7,785.8L602.7,786.4L603.7,786.9L604.7,787.9L605.7,788.9L606.7,789.8L607.7,790.5L608.7,791.4L609.7,792.5L610.7,793.4L611.7,793.8L612.7,794.3L613.7,795.3L614.7,796.3L615.7,796.6L616.7,796.8L617.7,797.0L618.7,797.2L619.7,797.4L620.7,797.6L621.7,797.5L622.7,796.9L623.7,796.2L624.7,795.7L625.7,795.2L626.7,794.2L627.7,793.2L628.7,792.4L629.7,792.0L630.8,791.7L631.7,791.8L632.7,792.1L633.7,792.7L634.7,793.5L635.7,794.6L636.7,795.8L637.7,796.9L638.7,798.0L639.7,799.5L640.7,801.1L642.1,803.5L642.7,804.5L643.7,806.4L644.7,808.3L645.7,810.4L646.7,813.1L647.7,816.0L648.7,819.7L649.7,823.7L651.0,828.9L651.7,832.9L652.7,840.5L653.7,849.7L654.7,859.3L655.7,868.2L656.7,875.5L657.3,878.8L658.7,884.7L659.7,888.1L660.7,890.9L661.7,893.5L662.7,896.0L663.7,898.7L664.7,901.8L666.1,907.3L666.7,910.5L667.7,917.8L668.7,926.7L669.7,936.7L670.7,947.0L671.7,956.8L672.7,964.7L673.7,970.1L674.9,972.9L675.7,972.3L676.7,969.8L677.7,965.6L678.7,960.4L679.7,954.3L680.7,947.9L681.7,941.9L682.5,937.5L683.7,930.8L684.7,924.6L685.7,918.3L686.7,912.2L687.7,906.2L688.7,900.4L690.1,894.1L690.7,891.9L691.7,888.3L692.7,884.4L693.7,880.6L694.7,877.4L695.7,874.8L696.7,872.7L697.7,871.1L698.9,870.3L699.7,870.8L700.7,873.2L701.7,877.1L702.7,881.9L703.7,887.1L704.7,892.1L705.2,894.4L706.7,901.6L707.7,907.4L708.7,913.2L709.7,918.7L710.7,923.0L711.7,926.0L712.8,927.8L713.7,927.0L714.7,923.6L715.7,918.2L716.7,911.2L717.7,903.1L719.1,891.4L719.7,885.1L720.7,870.0L721.7,854.2L722.9,841.5L723.7,837.1L724.7,832.3L725.7,828.3L726.7,824.9L727.7,822.1L728.7,819.7L729.7,817.4L730.7,815.2L731.7,813.2L732.7,811.8L733.7,810.4L734.7,808.5L735.7,806.6L736.7,805.2L737.7,803.9L738.7,802.7L739.7,801.6L740.7,800.6L741.7,799.5L742.7,798.6L743.7,797.9L744.7,797.2L745.7,796.3L746.9,795.4L747.7,795.2L748.7,794.9L749.7,794.5L750.7,794.0L751.7,793.5L752.7,793.2L753.7,792.8L754.7,792.2L755.7,791.5L756.7,791.1L757.7,790.8L758.7,790.6L759.7,790.5L760.7,790.1L761.7,789.7L762.7,789.3L763.7,789.2L764.7,788.9L765.7,788.5L766.7,788.1L767.7,788.1L768.7,788.1L769.7,787.9L770.7,787.8L771.7,787.6L772.7,787.3L773.7,787.1L774.7,786.8L775.7,786.5L777.2,785.9L777.7,785.6L778.7,785.3L779.7,785.0L780.7,784.8L781.7,784.6L782.7,784.3L783.7,783.9L784.7,783.5L785.7,782.9L786.7,782.4L787.7,782.2L788.7,782.0L789.7,781.6L790.7,781.1L791.7,781.0L792.7,780.9L793.7,780.6L794.7,780.3L795.7,780.0L796.7,779.6L797.7,779.4L798.7,779.3L799.7,779.3L800.7,779.0L801.7,778.7L802.7,778.1L803.7,777.5L804.7,777.3L805.7,777.3L806.7,777.2L807.7,776.9L808.7,776.6L809.7,776.6L810.7,776.6L811.7,776.5L812.7,776.3L813.7,776.2L815.0,775.9L815.7,775.6L816.7,775.1L817.7,775.0L818.7,775.3L819.7,775.3L820.7,774.8L821.7,774.4L822.7,774.4L823.7,774.3L824.7,774.3L825.7,774.2L826.7,774.2L827.7,774.3L828.7,774.2L829.7,773.8L830.7,773.5L831.7,773.4L832.7,773.3L833.7,773.6L834.7,773.9L835.7,773.4L836.7,773.0L837.7,772.8L838.7,772.8L839.7,772.8L840.7,772.8L841.7,772.7L842.7,772.5L843.7,772.4L844.7,772.3L845.7,772.3L846.7,772.1L847.7,772.0L848.7,772.2L849.7,772.4L850.7,772.4L851.7,772.0L852.7,771.8L853.7,772.0L854.7,772.1L855.7,771.8L856.7,771.6L857.7,771.4L858.7,771.2L859.7,771.2L860.7,771.2L861.7,771.3L862.7,771.5L863.7,771.6L864.7,771.3L865.7,771.1L866.7,770.9L867.7,770.7L868.7,771.0L869.7,771.3L870.7,771.3L871.7,771.1L872.7,771.0L873.7,771.0L874.7,771.0L875.7,771.0L876.7,771.0L878.1,771.0L878.7,770.9L879.7,770.9L880.7,770.8L881.7,770.6L882.7,770.3L883.7,770.1L884.7,770.0L885.7,769.9L886.7,769.9L887.7,770.0L888.7,770.1L889.7,770.2L890.7,770.0L891.7,769.9L892.7,769.7L893.7,769.6L894.7,769.5L895.7,769.6L896.7,769.7L897.7,769.7L898.7,769.6L899.7,769.7L900.7,769.8L901.7,769.6L902.7,769.4L903.7,769.3L904.7,769.1L905.7,769.1L906.7,769.3L907.7,769.4L908.7,769.3L909.7,769.2L910.7,769.0L911.7,768.8L912.7,768.7L913.7,768.7L914.7,768.8L915.7,769.1L916.7,769.1L917.7,769.1L918.7,769.0L919.7,768.5L920.7,768.2L921.7,768.5L922.7,768.9L923.7,768.7L924.7,768.4L925.7,768.4L926.7,768.4L927.7,768.4L928.6,768.3L929.7,768.3L930.7,768.5L931.7,768.7L932.7,768.5L933.7,768.2L934.7,768.2L935.7,768.3L936.7,768.3L937.7,768.3L938.7,768.4L939.7,768.6L940.7,768.7L941.7,768.5L942.7,768.4L943.7,768.5L944.7,768.6L945.7,768.8L946.7,769.1L947.7,769.1L948.7,769.0L949.7,769.1L950.7,769.4L951.7,769.5L952.7,769.5L953.8,769.5L954.7,769.8L955.7,771.2L956.7,773.8L957.7,777.1L958.7,780.7L959.7,784.2L960.7,787.6L961.7,790.6L962.7,792.7L963.9,793.7L964.7,793.4L965.7,792.2L966.7,790.5L967.7,789.2L968.7,787.9L969.7,786.3L970.7,784.8L971.7,783.8L972.8,783.3L973.7,783.8L974.7,785.3L975.7,787.4L976.7,789.6L977.7,791.9L978.7,794.5L979.7,796.7L980.7,798.1L981.6,798.6L982.7,798.2L983.7,797.0L984.7,795.4L985.7,793.4L986.7,791.4L987.7,789.6L988.7,788.2L989.7,787.4L990.4,787.2L991.7,787.4L992.7,787.8L993.7,788.7L994.7,790.2L995.7,791.9L996.7,793.6L997.7,795.5L998.7,797.1L999.7,798.8L1000.7,801.1L1001.8,803.6L1002.7,805.7L1003.7,808.5L1004.7,812.2L1005.7,816.3L1006.7,820.7L1007.7,825.3L1008.7,829.6L1009.7,833.5L1010.7,836.8L1011.7,839.1L1013.1,840.4L1013.7,840.2L1014.7,839.4L1015.7,838.1L1016.7,836.5L1017.7,834.4L1018.7,831.7L1019.7,828.8L1020.7,826.2L1021.7,823.6L1022.7,820.6L1023.7,817.7L1024.5,815.7L1025.7,812.6L1026.7,810.0L1027.7,807.4L1028.7,804.5L1029.7,801.5L1030.7,800.2L1031.7,797.0L1032.7,794.1L1033.7,790.9L1034.6,788.2L1035.7,786.6L1036.7,786.0L1037.7,784.1L1038.7,780.9L1039.7,778.5L1040.7,778.0L1041.7,777.5L1042.9,776.1L1043.7,775.1L1044.7,772.6L1045.7,768.6L1046.7,769.4L1047.7,772.0L1048.7,771.6L1049.7,768.2L1050.7,766.5L1051.7,768.9L1052.7,771.1L1053.7,770.7L1054.7,770.3L1055.7,769.5L1056.7,768.9L1058.1,768.8L1058.7,768.9L1059.7,768.2L1060.7,766.4L1061.7,765.5L1062.7,766.4L1063.7,767.5L1064.7,769.9L1065.7,772.3L1066.7,774.1L1067.7,775.7L1068.7,778.8L1069.7,782.5L1070.7,784.3L1071.9,784.2L1072.7,784.0L1073.7,783.6L1074.7,782.8L1075.7,781.3L1076.7,779.6L1077.7,778.6L1078.7,777.7L1079.7,775.2L1080.7,772.1L1081.7,771.0L1082.7,772.1L1083.7,772.8L1084.7,772.5L1085.8,771.9L1086.7,769.5L1087.7,766.9L1088.7,768.9L1089.7,771.3L1090.7,771.6L1091.7,770.9L1092.7,770.5L1093.7,770.2L1094.7,769.9L1095.7,769.3L1096.7,768.9L1097.7,770.6L1098.7,772.3L1099.7,770.0L1100.7,767.3L1101.7,765.9L1102.7,765.1L1103.7,764.6L1104.7,764.4L1105.7,765.2L1106.7,768.7L1107.7,771.6L1108.7,770.5L1109.7,769.4L1110.7,767.8L1111.7,766.1L1112.7,765.9L1113.6,766.2L1114.7,767.3L1115.7,768.9L1116.7,769.9L1117.7,769.7L1118.7,769.1L1119.7,765.3L1120.7,761.5L1121.7,762.7L1122.7,764.6L1123.7,764.5L1124.7,763.7L1125.7,763.3L1126.7,763.4L1127.7,762.5L1128.7,759.2L1129.7,756.3L1130.7,755.9L1131.2,755.8L1132.7,764.9L1133.7,775.6L1135.0,780.1L1135.7,778.5L1136.7,776.0L1137.7,773.3L1138.7,770.8L1139.7,769.7L1140.7,768.7L1141.7,768.7L1142.7,769.2L1143.9,766.2L1144.7,764.3L1145.7,763.8L1146.7,764.0L1147.7,766.1L1148.7,770.0L1149.7,772.1L1150.7,770.0L1151.7,767.9L1152.7,768.7L1154.0,769.1L1154.7,768.4L1155.7,766.3L1156.7,765.8L1157.7,765.9L1158.7,763.0L1159.7,757.7L1160.7,753.9L1161.5,752.8L1162.7,752.2L1163.7,751.6L1164.7,751.0L1165.7,751.8L1166.7,752.7L1167.7,752.8L1168.7,752.5L1169.7,754.1L1170.7,757.7L1171.7,759.2L1172.7,756.0L1173.7,753.4L1174.7,756.8L1175.7,760.2L1176.7,759.9L1177.7,759.9L1178.7,760.2L1179.7,760.5L1180.7,761.8L1181.7,763.2L1182.7,763.6L1183.7,763.7L1184.7,763.7L1185.7,763.1L1186.7,762.4L1187.7,761.5L1188.7,760.5L1189.7,761.2L1190.7,762.8L1191.8,761.9L1192.7,759.8L1193.7,758.5L1194.7,759.4L1195.7,762.6L1196.7,765.0L1197.7,767.5L1198.7,768.2L1199.7,768.5L1200.7,769.7L1201.9,771.4L1202.7,771.1L1203.7,769.8L1204.7,769.1L1205.7,769.9L1206.7,770.5L1207.7,770.4L1208.7,770.3L1209.7,768.5L1210.7,766.6L1211.7,765.5L1212.7,764.7L1213.7,764.8L1214.7,765.6L1215.7,765.7L1217.1,763.1L1217.7,762.2L1218.7,763.0L1219.7,763.7L1220.7,764.3L1221.7,764.9L1222.7,763.8L1223.7,762.0L1224.7,761.6L1225.7,762.7L1226.7,763.1L1227.7,762.0L1228.7,761.1L1229.7,762.2L1230.7,763.4L1231.7,763.5L1232.7,763.4L1233.7,762.3L1234.7,760.8L1235.7,761.1L1236.7,763.3L1237.7,764.5L1238.7,763.0L1239.7,762.0L1240.7,764.0L1241.7,766.1L1242.7,765.5L1243.7,764.6L1244.8,764.2L1245.7,764.1L1246.7,765.4L1247.7,768.2L1248.7,770.5L1249.7,771.1L1250.7,771.7L1251.7,771.7L1252.7,771.6L1253.7,773.7L1254.9,776.2L1255.7,775.5L1256.7,774.3L1257.7,773.8L1258.7,774.2L1259.7,774.7L1260.7,775.6L1261.7,776.4L1262.7,776.7L1263.7,777.0L1264.7,776.7L1265.7,776.4L1266.7,777.2L1267.7,778.4L1268.7,778.9L1270.1,778.7L1270.7,779.0L1271.7,780.3L1272.7,780.9L1273.7,782.6L1274.7,784.9L1275.7,788.2L1276.4,790.8L1277.7,807.0L1278.7,826.6L1279.5,841.2L1280.5,856.9L1281.5,873.9L1282.5,893.9L1283.5,906.7L1284.5,922.0L1285.5,945.8L1286.5,974.0L1287.5,1002.9L1288.5,1032.4L1289.5,1059.1L1290.5,1082.9L1291.6,1102.1L1292.6,1119.0L1293.6,1133.7L1294.6,1146.6L1295.6,1157.5L1296.6,1166.5L1297.6,1174.3L1298.6,1180.4L1299.6,1185.2L1300.6,1189.7L1301.6,1192.9L1302.6,1194.0L1303.6,1192.7L1304.6,1189.6L1305.6,1185.1L1306.6,1180.0L1307.6,1173.6L1308.6,1164.1L1309.6,1153.3L1310.6,1140.6L1311.6,1126.5L1312.6,1111.0L1313.6,1093.4L1314.6,1074.5L1315.6,1054.0L1316.6,1030.7L1317.6,1011.0L1318.6,997.0L1319.6,985.1L1320.6,974.5L1321.6,964.2L1322.6,953.2L1323.6,940.2L1324.6,926.2L1325.6,913.9L1326.6,904.3L1327.6,895.7L1328.6,887.9L1329.6,881.2L1330.6,875.3L1331.6,870.1L1332.6,865.5L1333.6,861.4L1334.6,857.9L1335.6,854.9L1336.6,851.7L1337.6,848.6L1338.6,845.6L1339.6,842.6L1340.6,839.9L1341.6,837.9L1342.6,836.5L1343.6,835.4L1344.5,834.9L1345.5,835.7L1346.5,838.6L1347.5,843.1L1348.5,848.8L1349.5,855.7L1350.4,868.1L1351.4,890.2L1352.4,907.3L1353.4,922.1L1354.4,934.8L1355.3,944.8L1356.3,953.0L1357.3,960.7L1358.3,968.3L1359.3,975.8L1360.2,982.4L1361.2,987.4L1362.2,991.9L1363.2,995.5L1364.2,997.0L1365.2,994.3L1366.2,986.7L1367.2,976.1L1368.2,959.1L1369.2,925.4L1370.2,894.1L1371.2,869.5L1372.2,849.2L1373.2,839.5L1374.2,832.4L1375.2,826.3L1376.2,821.4L1377.2,817.9L1378.2,815.8L1379.2,815.0L1380.2,816.7L1381.2,821.3L1382.2,828.6L1383.2,838.3L1384.3,849.8L1385.3,862.8L1386.3,888.1L1387.3,917.2L1388.3,937.2L1389.3,955.7L1390.3,974.6L1391.3,993.5L1392.3,1013.3L1393.3,1034.1L1394.3,1055.4L1395.4,1077.3L1396.4,1099.6L1397.4,1122.8L1398.4,1146.4L1399.4,1170.4L1400.4,1195.8L1402.0,1228.1L1402.9,1245.2L1403.7,1270.0L1404.4,1284.8L1406.0,1245.8L1406.9,1228.0L1407.7,1212.1L1408.5,1195.8L1409.5,1173.1L1410.5,1153.5L1411.6,1135.3L1412.6,1118.0L1413.6,1101.2L1414.6,1084.4L1415.7,1068.1L1416.7,1052.2L1417.7,1036.5L1418.7,1020.7L1419.8,1004.4L1420.8,993.7L1421.8,985.9L1422.8,980.0L1423.9,974.2L1424.9,969.2L1425.9,965.8L1426.9,964.6L1427.9,965.4L1428.9,967.5L1429.8,970.7L1430.8,974.5L1431.8,978.5L1432.7,982.3L1433.7,985.3L1434.6,987.4L1435.6,988.1L1436.6,986.5L1437.6,982.3L1438.6,977.0L1439.6,971.2L1440.7,965.8L1441.7,961.7L1442.7,959.2L1443.7,958.3L1444.7,957.7L1445.7,956.0L1446.7,950.9L1447.7,945.4L1448.8,941.3L1449.8,939.0L1450.8,937.4L1451.8,936.5L1452.7,938.9L1453.7,946.2L1454.6,957.6L1455.6,984.1L1456.5,1017.7L1457.5,1025.4L1458.4,1072.4L1459.4,1122.0L1460.3,1082.9L1461.3,1047.7L1462.3,1017.2L1463.2,986.3L1464.2,974.1L1465.1,969.4L1466.1,968.1L1467.0,967.4L1468.0,967.1L1469.0,969.2L1470.0,971.1L1471.0,973.0L1472.0,975.1L1473.0,977.1L1474.0,979.3L1475.0,981.4L1476.0,983.6L1477.0,985.8L1478.0,972.7L1479.0,960.5L1480.0,951.6L1481.0,946.7L1482.0,944.7L1483.0,943.5L1484.0,942.5L1485.0,941.5L1486.0,940.3L1487.0,939.3L1488.0,938.4L1489.0,937.5L1490.0,936.9L1491.0,936.7L1492.0,937.6L1493.1,939.8L1494.1,942.8L1495.1,945.8L1496.1,948.9L1497.1,952.4L1498.1,956.4L1499.1,961.3L1500.1,967.4L1501.1,977.6L1502.1,990.5L1503.2,1002.8L1504.2,1015.2L1505.2,1026.4L1506.2,1035.7L1507.2,1044.0L1508.2,1052.1L1509.2,1061.0L1510.2,1071.6L1511.2,1088.7L1512.3,1107.3L1513.3,1115.8L1514.3,1112.9L1515.3,1105.8L1516.3,1096.2L1517.4,1085.7L1518.4,1075.3L1519.4,1062.9L1520.4,1050.4L1521.4,1039.4L1522.5,1028.8L1523.5,1018.8L1524.5,1010.1L1525.5,1003.3L1526.6,996.6L1527.6,990.6L1528.6,986.4L1529.6,984.8L1530.6,987.1L1531.6,992.8L1532.6,1000.6L1533.6,1008.7L1534.6,1015.6L1535.6,1020.2L1536.5,1023.9L1537.5,1027.4L1538.5,1030.7L1539.5,1034.1L1540.5,1037.8L1541.5,1042.4L1542.5,1048.2L1543.5,1056.6L1544.5,1068.4L1545.5,1080.8L1546.5,1091.9L1547.4,1102.9L1548.4,1114.3L1549.4,1126.6L1550.4,1139.9L1551.4,1153.5L1552.4,1167.0L1553.4,1180.6L1554.4,1196.0L1555.4,1215.0L1556.4,1233.9L1557.3,1253.2L1558.3,1267.4L1559.3,1274.7L1560.3,1281.1L1561.3,1286.4L1562.3,1290.5L1563.3,1293.1L1564.3,1293.7L1565.3,1292.1L1566.3,1288.4L1567.3,1283.1L1568.3,1276.6L1569.3,1269.7L1570.3,1261.2L1571.3,1249.5L1572.3,1236.8L1573.3,1224.7L1574.3,1212.0L1575.3,1200.8L1576.3,1193.0L1577.4,1186.6L1578.4,1179.1L1579.4,1167.5L1580.4,1152.3L1581.4,1139.3L1582.4,1128.2L1583.4,1121.5L1584.4,1116.4L1585.4,1112.2L1586.4,1108.1L1587.4,1104.7L1588.4,1101.8L1589.4,1098.8L1590.4,1095.1L1591.4,1091.1L1592.4,1087.2L1593.5,1083.7L1594.5,1080.3L1595.5,1076.6L1596.5,1072.7L1597.5,1068.9L1598.5,1065.1L1599.5,1061.6L1600.5,1058.5L1601.5,1056.5L1602.5,1055.3L1603.5,1054.5L1604.5,1056.6L1605.5,1062.4L1606.5,1070.0L1607.5,1077.3L1608.5,1085.0L1609.5,1093.6L1610.5,1102.3L1611.5,1110.8L1612.5,1119.3L1613.5,1126.5L1614.5,1131.1L1615.5,1134.7L1616.5,1137.6L1617.5,1140.0L1618.5,1141.9L1619.5,1143.3L1620.5,1144.4L1621.5,1145.3L1622.5,1146.4L1623.5,1148.0L1624.6,1150.5L1625.6,1154.2L1626.6,1159.1L1627.6,1165.7L1628.6,1176.0L1629.6,1186.3L1630.6,1194.4L1631.6,1202.0L1632.6,1209.5L1633.6,1217.4L1634.6,1225.8L1635.6,1233.4L1636.6,1239.2L1637.6,1244.1L1638.6,1248.6L1639.6,1252.3L1640.6,1255.2L1641.6,1257.3L1642.6,1259.1L1643.6,1260.6L1644.6,1261.8L1645.6,1262.8L1646.6,1263.5L1647.6,1264.1L1648.6,1264.6L1649.6,1264.8L1650.6,1264.9L1651.6,1263.5L1652.7,1259.8L1653.7,1254.5L1654.7,1247.6L1655.7,1229.3L1656.8,1206.3L1657.8,1195.0L1658.8,1200.9L1659.8,1211.9L1660.7,1219.7L1661.7,1225.9L1662.7,1231.1L1663.7,1233.3L1664.7,1218.7L1665.7,1190.4L1666.7,1163.5L1667.6,1147.2L1668.6,1133.7L1669.6,1119.9L1670.6,1106.8L1671.6,1096.6L1672.6,1088.8L1673.6,1082.3L1674.6,1076.7L1675.6,1071.4L1676.6,1065.9L1677.6,1060.6L1678.6,1055.4L1679.5,1050.7L1680.5,1046.6L1681.5,1042.9L1682.5,1039.5L1683.5,1036.2L1684.5,1033.2L1685.5,1030.5L1686.5,1027.8L1687.5,1024.9L1688.5,1022.3L1689.5,1019.9L1690.5,1017.6L1691.4,1015.2L1692.4,1012.8L1693.4,1010.3L1694.4,1007.8L1695.4,1005.3L1696.4,1002.9L1697.4,1000.1L1698.4,996.8L1699.4,993.3L1700.4,990.1L1701.4,987.1L1702.4,984.7L1703.4,982.6L1704.3,980.3L1705.3,978.2L1706.3,976.3L1707.3,974.9L1708.3,974.4L1709.3,974.7L1710.2,975.4L1711.1,976.4L1712.1,977.5L1713.0,978.5L1714.0,979.5L1714.9,980.6L1715.9,981.6L1716.8,982.2L1717.8,979.6L1718.8,973.9L1719.8,967.5L1721.7,952.9L1722.7,949.2L1723.7,946.2L1724.7,943.9L1725.6,941.7L1726.6,939.5L1727.6,937.7L1728.6,936.3L1729.6,935.4L1730.5,934.9L1731.5,934.7L1732.5,934.5L1733.5,934.3L1734.5,934.2L1735.5,934.1L1736.5,934.0L1737.5,934.2L1738.5,934.5L1739.5,934.8L1740.5,935.0L1741.5,939.1L1742.5,946.4L1743.5,953.5L1744.6,961.8L1745.6,970.2L1746.6,979.2L1747.6,986.2L1748.6,989.8L1749.6,992.4L1750.6,994.6L1751.6,996.8L1752.6,998.9L1753.6,1000.7L1754.6,1002.5L1755.7,1004.3L1756.7,1006.9L1757.7,1011.3L1758.7,1017.8L1759.7,1025.8L1760.7,1035.0L1761.7,1046.4L1762.7,1059.0L1763.7,1072.8L1764.7,1087.3L1765.7,1100.3L1766.8,1109.1L1767.8,1117.0L1768.8,1122.4L1769.8,1124.4L1770.8,1122.5L1771.8,1117.5L1772.8,1110.2L1773.8,1102.1L1774.8,1090.3L1775.8,1077.1L1776.8,1063.1L1777.8,1053.9L1778.8,1049.3L1779.8,1046.3L1780.8,1044.5L1781.9,1043.1L1782.9,1042.5L1783.8,1042.9L1784.8,1044.1L1785.8,1046.2L1786.8,1051.9L1787.8,1065.5L1788.7,1079.5L1789.7,1095.2L1790.7,1111.6L1791.7,1127.4L1792.7,1135.5L1793.6,1141.3L1794.6,1143.7L1795.7,1142.2L1796.7,1138.1L1797.7,1132.2L1798.7,1121.0L1799.8,1102.0L1800.8,1077.1L1801.8,1059.9L1802.9,1048.5L1803.9,1038.6L1804.9,1031.1L1805.9,1028.6L1807.0,1026.7L1808.0,1026.3L1809.0,1026.7L1810.1,1027.2L1811.1,1027.7L1812.2,1029.0L1812.7,1030.0L1813.2,1030.8L1814.2,1031.9L1815.3,1031.5L1816.3,1029.8L1817.3,1027.0L1818.3,1023.9L1819.3,1020.8L1820.3,1016.0L1821.3,1012.7L1822.3,1010.2L1823.4,1008.2L1824.4,1006.4L1825.4,1004.3L1826.4,1001.9L1827.4,999.7L1828.4,997.9L1829.4,996.9L1830.4,996.2L1831.5,995.7L1832.5,995.7L1833.5,995.7L1834.5,995.3L1835.5,994.9L1836.5,995.2L1837.5,995.8L1838.5,995.6L1839.6,994.6L1840.6,993.9L1841.6,992.9L1842.6,991.1L1843.6,989.1L1844.6,987.5L1845.6,987.0L1846.6,988.0L1847.6,989.8L1848.6,991.9L1849.6,993.7L1850.5,995.1L1851.5,996.0L1852.5,996.3L1853.5,996.8L1854.5,998.6L1855.4,1001.3L1856.4,1004.4L1857.4,1005.7L1858.4,1004.7L1859.5,1003.0L1860.5,1001.4L1861.5,1000.8L1862.5,1000.0L1863.6,998.6L1864.6,997.8L1865.6,999.1L1866.6,1001.2L1867.5,1003.1L1868.5,1005.3L1869.5,1007.9L1870.5,1012.4L1871.5,1017.4L1872.4,1020.7L1873.4,1022.4L1874.4,1023.7L1875.4,1024.0L1876.4,1023.6L1877.4,1023.2L1878.3,1022.6L1879.3,1022.0L1880.3,1021.6L1881.3,1021.3L1882.3,1021.0L1883.2,1020.4L1884.2,1019.8L1885.2,1019.2L1886.2,1018.6L1887.2,1018.4L1888.1,1018.4L1889.1,1018.7L1890.1,1019.5L1891.1,1020.7L1892.1,1022.4L1893.1,1024.2L1894.1,1025.7L1895.1,1027.0L1896.1,1028.0L1897.0,1029.1L1898.0,1030.1L1899.0,1031.3L1900.0,1034.9L1901.0,1041.7L1902.0,1047.0L1903.0,1050.7L1904.0,1053.3L1905.0,1052.6L1906.0,1045.5L1906.9,1039.8L1907.9,1040.0L1908.9,1040.9L1909.9,1042.1L1910.9,1044.0L1911.9,1046.6L1912.9,1049.0L1913.9,1051.9L1914.9,1055.1L1915.8,1057.7L1916.8,1060.5L1917.8,1065.0L1918.8,1071.4L1919.8,1081.2L1920.8,1094.0L1921.8,1110.5L1922.8,1129.7L1923.8,1149.2L1924.7,1166.8L1925.7,1180.8L1926.7,1188.1L1927.7,1181.5L1928.8,1168.6L1929.8,1152.0L1930.8,1134.0L1931.8,1116.0L1932.8,1101.5L1933.8,1091.3L1934.9,1083.1L1935.9,1075.9L1936.9,1070.0L1937.9,1063.7L1938.9,1054.5L1939.9,1047.6L1941.0,1044.5L1942.0,1042.3L1943.0,1040.2L1944.7,1039.2L1945.7,1038.8L1946.7,1038.6L1947.7,1038.5L1948.7,1038.3L1949.7,1038.0L1950.7,1037.6L1951.2,1037.3L1952.7,1035.7L1953.7,1033.8L1954.7,1031.7L1955.7,1030.1L1956.7,1028.6L1957.7,1027.1L1958.7,1026.2L1959.3,1026.1L1960.7,1027.8L1961.7,1030.4L1962.7,1033.5L1963.7,1036.5L1964.7,1038.7L1966.0,1040.0L1966.7,1039.3L1967.7,1036.0L1968.7,1030.5L1969.7,1023.8L1970.7,1017.0L1971.4,1012.8L1972.7,1000.9L1973.7,990.1L1974.7,982.1L1975.4,980.1L1976.7,997.8L1977.5,1007.2L1978.7,1007.4L1979.7,1006.0L1980.7,1002.7"/>
<path id="c-blue" d="M119.7,539.6L120.7,539.6L121.7,539.1L122.7,539.0L123.7,539.1L124.7,539.1L125.7,539.0L126.7,539.0L127.7,539.6L128.7,540.0L129.7,539.6L130.7,539.2L131.7,539.4L132.7,539.7L133.7,539.5L134.7,539.2L135.7,539.0L136.7,539.1L137.7,539.0L138.7,538.8L139.7,538.7L140.7,538.9L141.7,539.0L142.7,539.4L143.7,539.8L144.7,539.6L145.7,539.1L146.7,538.8L147.7,538.9L148.7,539.0L149.7,539.4L150.7,539.8L151.7,539.2L152.7,538.6L153.7,538.5L154.7,538.5L155.7,538.8L156.7,539.2L157.7,539.4L158.7,539.6L159.7,539.5L160.7,538.9L161.7,538.4L162.7,538.9L163.7,539.4L164.7,539.5L165.7,539.5L166.7,539.1L167.7,538.6L168.7,538.5L169.7,538.9L170.7,539.2L171.7,539.1L172.7,538.9L173.7,538.9L174.7,538.8L175.7,539.1L176.7,539.4L177.7,539.0L178.7,538.4L179.7,538.1L180.7,538.2L181.7,538.4L182.7,538.8L183.7,539.1L184.7,538.7L185.7,538.4L186.7,538.3L187.7,538.2L188.7,538.4L189.7,538.8L190.7,539.0L191.7,539.1L192.7,539.0L193.7,538.5L194.7,538.0L195.7,538.2L196.7,538.3L197.7,538.1L198.7,538.0L199.7,538.0L200.7,538.0L201.7,538.2L202.7,538.4L203.7,538.5L204.7,538.6L205.7,538.6L206.7,538.1L207.7,537.6L208.7,537.9L209.7,538.3L210.7,538.4L211.7,538.3L212.7,538.0L213.7,537.7L214.7,537.5L215.7,537.4L216.7,537.4L217.7,537.5L218.7,537.5L219.7,537.5L220.7,537.4L221.7,537.7L222.7,538.3L223.7,538.5L224.7,538.3L225.7,538.1L226.7,537.7L227.7,537.4L228.7,537.7L229.7,538.0L230.7,538.0L231.7,538.0L232.7,537.7L233.8,537.4L234.7,537.5L235.7,538.2L236.7,538.7L237.7,538.7L238.7,538.7L239.7,539.0L240.7,539.4L241.7,539.9L242.7,540.5L243.7,541.3L244.7,542.1L245.7,542.9L246.7,543.7L247.7,544.5L248.7,545.2L249.7,545.9L250.7,546.3L251.7,546.7L252.7,546.8L253.7,546.9L254.7,546.8L255.7,546.7L256.5,546.7L257.7,547.3L258.7,547.5L259.7,546.9L260.7,546.2L261.7,545.8L262.7,545.4L263.7,545.4L264.7,545.5L265.7,544.9L266.7,543.9L267.7,543.3L268.7,542.9L269.7,542.6L270.7,542.5L271.7,542.5L272.7,542.1L273.7,541.9L274.7,541.9L275.7,542.0L276.7,541.8L277.7,541.4L278.7,541.1L279.7,541.0L280.7,541.0L281.7,541.4L282.7,541.8L283.7,541.4L284.7,541.0L285.7,541.0L286.7,541.0L287.7,541.2L288.7,541.4L289.7,541.5L290.7,541.5L291.7,541.6L292.7,542.1L293.7,542.5L294.7,542.0L295.7,541.5L296.9,542.1L297.7,542.6L298.7,543.1L299.7,543.4L300.7,543.8L301.7,544.0L302.7,544.5L303.7,545.2L304.7,545.9L305.7,547.2L306.7,548.3L307.7,548.3L308.7,548.0L309.5,547.9L310.7,547.8L311.7,547.9L312.7,547.9L313.7,548.1L314.7,548.4L315.7,548.7L316.7,548.6L317.7,548.5L318.7,548.5L319.7,548.6L320.7,548.7L321.7,548.8L322.7,548.6L323.7,548.1L324.7,547.7L325.7,547.6L326.7,547.6L327.7,548.0L328.7,548.4L329.7,548.0L330.7,547.5L331.7,547.6L332.7,547.9L333.7,547.8L334.7,547.4L335.7,547.1L336.7,547.0L337.7,547.0L338.7,546.9L339.7,546.8L340.7,547.2L341.7,547.7L342.7,547.5L343.7,547.0L344.7,546.8L345.7,546.7L346.7,546.7L347.7,546.7L348.7,546.7L349.7,546.8L350.7,546.8L351.7,546.7L352.4,546.6L353.7,546.6L354.7,546.7L355.7,546.9L356.7,547.3L357.7,547.5L358.7,547.6L359.7,547.6L360.7,547.2L361.7,546.8L362.7,547.1L363.7,547.4L364.7,547.6L365.7,547.8L366.7,547.8L367.7,547.6L368.7,547.4L369.7,547.3L370.7,547.1L371.7,547.0L372.7,546.8L373.7,547.3L374.7,547.9L375.7,548.1L376.7,548.1L377.7,547.9L378.7,547.5L379.7,547.2L380.7,547.3L381.7,547.4L382.7,547.9L383.7,548.5L384.7,548.5L385.7,548.4L386.7,548.2L387.7,548.1L388.7,548.0L389.7,548.0L390.7,548.0L391.7,548.0L392.7,548.1L393.7,548.6L394.7,549.0L395.3,549.2L396.7,550.1L397.7,551.4L398.7,553.2L399.7,555.3L400.7,557.2L401.7,559.3L402.7,561.3L403.7,563.2L404.7,565.2L405.4,566.3L406.7,567.7L407.7,568.6L408.7,569.9L409.7,571.3L410.7,572.6L411.7,573.7L412.7,574.8L413.7,575.5L414.7,576.3L415.7,577.4L416.7,578.6L417.7,579.5L418.7,580.4L419.7,581.3L420.7,582.2L421.7,583.1L422.7,584.0L423.7,584.8L424.7,585.7L425.7,586.5L426.7,587.3L427.7,588.0L428.7,589.0L429.7,590.0L430.7,590.6L431.7,591.0L432.7,591.6L433.7,592.5L434.7,593.3L435.7,593.7L436.7,594.2L437.7,595.0L438.7,595.8L439.7,596.3L440.7,596.9L441.7,597.5L442.7,598.2L443.7,598.9L444.7,599.6L445.7,600.2L446.7,600.7L447.7,601.2L448.7,601.8L449.7,602.4L450.7,603.3L451.7,604.2L452.7,604.6L453.7,604.9L454.7,605.3L455.7,605.7L456.7,606.2L457.7,607.0L458.7,607.7L459.7,608.1L460.7,608.5L461.7,608.8L462.7,609.1L463.7,609.3L464.7,609.5L465.7,609.5L466.7,609.4L467.7,609.4L468.7,609.8L469.8,610.1L470.7,610.0L471.7,609.8L472.7,609.7L473.7,609.5L474.7,609.1L475.7,608.6L476.7,608.0L477.7,607.3L478.7,606.7L479.7,606.5L480.7,606.3L481.7,605.3L482.7,604.3L483.7,603.8L484.7,603.4L485.7,602.7L486.7,601.8L487.7,601.0L488.7,600.2L489.7,599.5L490.7,598.9L491.2,598.6L492.7,597.9L493.7,597.5L494.7,596.6L495.7,595.6L496.7,594.9L497.7,594.2L498.7,593.5L499.7,592.8L500.7,591.9L501.7,590.6L502.7,589.4L503.7,588.5L504.7,587.5L505.7,586.6L506.7,585.7L507.7,584.9L508.7,584.1L509.7,583.3L510.7,582.4L511.7,581.4L512.7,580.1L513.7,578.8L514.7,578.0L515.7,577.2L516.7,576.2L517.7,575.3L518.7,574.3L519.7,573.5L520.7,572.7L521.7,571.9L522.7,571.2L523.7,570.7L524.7,570.2L525.7,569.3L526.7,568.3L527.7,568.0L529.1,567.7L529.7,567.4L530.7,566.9L531.7,566.4L532.7,565.8L533.7,565.2L534.7,564.5L535.7,563.8L536.7,563.2L537.7,562.7L538.7,562.5L539.7,562.3L540.7,561.7L541.7,560.9L542.7,560.4L543.7,560.1L544.7,559.8L545.7,559.4L546.7,559.0L547.7,558.6L548.7,558.2L549.7,558.2L550.7,558.3L551.7,558.0L552.7,557.5L553.7,557.3L554.7,557.4L555.7,557.6L556.8,557.6L557.7,557.7L558.7,557.7L559.7,557.9L560.7,558.0L561.7,558.1L562.7,558.6L563.7,559.4L564.7,559.9L565.7,560.1L566.7,560.6L567.7,561.4L568.7,562.1L569.7,562.2L570.7,562.3L571.7,562.8L572.7,563.4L573.7,563.6L574.7,563.7L575.2,563.7L576.7,563.5L577.7,563.2L578.7,562.7L579.7,562.2L580.7,561.8L581.7,561.4L582.7,561.1L583.7,560.8L584.7,560.4L585.7,559.9L586.7,559.5L587.7,559.0L588.7,558.6L589.7,558.1L590.7,557.8L591.7,557.3L592.9,557.0L593.7,557.3L594.7,557.7L595.7,557.8L596.7,557.9L597.7,558.2L598.7,558.7L599.7,559.3L600.7,560.2L601.7,561.1L602.7,561.8L603.7,562.4L604.7,563.0L605.7,563.5L606.7,564.2L607.7,564.9L608.7,565.6L609.7,566.2L610.7,566.9L611.7,567.7L612.7,568.4L613.7,569.0L614.7,569.6L615.7,569.7L616.7,569.6L618.1,569.9L618.7,569.9L619.7,569.7L620.7,569.2L621.7,568.6L622.7,568.1L623.7,567.6L624.7,567.2L625.7,566.8L626.7,566.2L627.7,565.6L628.7,565.3L629.7,565.2L630.8,565.2L631.7,565.3L632.7,565.7L633.7,566.1L634.7,566.8L635.7,567.9L636.7,569.2L637.7,570.9L638.7,572.8L639.7,574.6L640.7,576.5L642.1,579.1L642.7,580.1L643.7,582.1L644.7,584.1L645.7,586.4L646.7,589.4L647.7,592.7L648.7,596.4L649.7,600.4L651.0,606.2L651.7,610.8L652.7,619.4L653.7,629.8L654.7,640.9L655.7,651.4L656.7,660.2L657.3,664.2L658.7,672.1L659.7,676.9L660.7,681.3L661.7,684.9L662.7,688.3L663.7,692.0L664.7,696.2L666.1,702.5L666.7,705.4L667.7,711.4L668.7,718.5L669.7,725.9L670.7,733.3L671.7,740.1L672.7,745.9L673.7,750.0L674.9,751.8L675.7,750.9L676.7,748.1L677.7,744.1L678.7,738.9L679.7,732.3L680.7,725.5L681.7,719.5L682.5,715.2L683.7,708.4L684.7,701.8L685.7,695.1L686.7,688.6L687.7,682.2L688.7,676.2L690.1,669.5L690.7,666.9L691.7,662.8L692.7,659.0L693.7,655.4L694.7,651.8L695.7,648.6L696.7,646.1L697.7,644.7L698.9,644.1L699.7,644.9L700.7,647.7L701.7,651.9L702.7,657.0L703.7,662.3L704.7,667.3L705.2,669.6L706.7,676.8L707.7,682.8L708.7,689.0L709.7,694.6L710.7,698.9L711.7,701.9L712.8,703.7L713.7,702.8L714.7,698.9L715.7,692.9L716.7,685.2L717.7,676.6L719.1,664.3L719.7,657.8L720.7,642.8L721.7,626.8L722.9,614.0L723.7,609.7L724.7,605.0L725.7,601.3L726.7,598.1L727.7,595.1L728.7,592.3L729.7,589.9L730.7,588.0L731.7,586.1L732.7,584.3L733.7,582.6L734.7,580.7L735.7,578.8L736.7,577.2L737.7,575.6L738.7,574.2L739.7,572.9L740.7,571.6L741.7,570.3L742.7,569.1L743.7,568.1L744.7,567.3L745.7,566.5L746.9,565.7L747.7,565.5L748.7,565.3L749.7,564.8L750.7,564.2L751.7,563.6L752.7,563.0L753.7,562.6L754.7,562.5L755.7,562.3L756.7,561.6L757.7,561.0L758.7,560.9L759.7,560.9L760.7,560.5L761.7,560.1L762.7,559.7L763.7,559.5L764.7,559.3L765.7,558.8L766.7,558.4L767.7,558.2L768.7,557.9L769.7,557.7L770.7,557.4L771.7,557.2L772.7,557.0L773.7,556.8L774.7,556.7L775.7,556.4L777.2,555.7L777.7,555.4L778.7,555.3L779.7,555.1L780.7,554.8L781.7,554.6L782.7,554.4L783.7,554.3L784.7,554.1L785.7,554.0L786.7,553.7L787.7,553.4L788.7,553.1L789.7,552.9L790.7,552.7L791.7,552.3L792.7,551.7L793.7,551.3L794.7,551.0L795.7,550.9L796.7,551.0L797.7,550.9L798.7,550.7L799.7,550.4L800.7,550.2L801.7,550.0L802.7,549.5L803.7,549.0L804.7,548.7L805.7,548.6L806.7,548.5L807.7,548.2L808.7,548.0L809.7,547.9L810.7,547.8L811.7,547.8L812.7,547.8L813.7,547.6L815.0,547.4L815.7,547.3L816.7,547.1L817.7,546.9L818.7,546.6L819.7,546.3L820.7,546.2L821.7,546.0L822.7,546.0L823.7,546.0L824.7,546.0L825.7,546.0L826.7,545.8L827.7,545.4L828.7,545.1L829.7,545.0L830.7,544.8L831.7,544.7L832.7,544.7L833.7,544.6L834.7,544.5L835.7,544.5L836.7,544.5L837.7,544.4L838.7,544.3L839.7,544.3L840.7,544.4L841.7,544.4L842.7,544.0L843.7,543.7L844.7,543.6L845.7,543.6L846.7,543.4L847.7,543.2L848.7,543.1L849.7,543.0L850.7,543.1L851.7,543.4L852.7,543.5L853.7,543.4L854.7,543.2L855.7,542.9L856.7,542.5L857.7,542.7L858.7,542.9L859.7,542.8L860.7,542.5L861.7,542.3L862.7,542.1L863.7,542.1L864.7,542.4L865.7,542.6L866.7,542.2L867.7,541.7L868.7,541.6L869.7,541.6L870.7,541.7L871.7,542.0L872.7,542.1L873.7,541.9L874.7,541.8L875.7,541.4L876.7,541.1L878.1,541.4L878.7,541.5L879.7,541.3L880.7,541.1L881.7,541.2L882.7,541.3L883.7,541.3L884.7,541.2L885.7,541.0L886.7,541.0L887.7,540.9L888.7,540.7L889.7,540.5L890.7,540.3L891.7,540.1L892.7,540.0L893.7,540.1L894.7,540.1L895.7,540.0L896.7,539.9L897.7,540.0L898.7,540.1L899.7,539.9L900.7,539.8L901.7,539.9L902.7,540.1L903.7,539.8L904.7,539.4L905.7,539.2L906.7,539.1L907.7,539.1L908.7,539.2L909.7,539.3L910.7,539.1L911.7,538.9L912.7,539.1L913.7,539.3L914.7,539.2L915.7,538.9L916.7,538.8L917.7,538.7L918.7,538.8L919.7,538.9L920.7,539.1L921.7,539.2L922.7,539.2L923.7,539.2L924.7,539.1L925.7,539.0L926.7,539.0L927.7,538.9L928.6,538.8L929.7,538.8L930.7,539.1L931.7,539.3L932.7,539.2L933.7,539.1L934.7,539.2L935.7,539.3L936.7,539.1L937.7,538.8L938.7,538.8L939.7,539.2L940.7,539.4L941.7,539.4L942.7,539.5L943.7,539.2L944.7,539.0L945.7,539.4L946.7,539.8L947.7,540.0L948.7,540.1L949.7,540.1L950.7,539.9L951.7,539.8L952.7,539.9L953.8,540.0L954.7,541.8L955.7,547.2L956.7,555.5L957.7,565.4L958.7,575.7L960.1,589.1L960.7,593.8L961.7,603.3L962.7,613.7L963.7,624.0L964.7,633.5L965.7,641.9L966.7,647.7L967.7,649.6L968.7,645.7L969.7,636.3L970.7,623.8L971.7,610.9L972.7,600.1L974.0,593.8L974.7,594.8L975.7,599.2L976.7,605.6L977.7,612.8L978.7,619.2L979.7,623.5L980.3,624.4L981.7,622.8L982.7,619.8L983.7,615.7L984.7,610.9L985.7,605.7L986.7,600.8L987.7,596.4L989.2,591.6L989.7,590.3L990.7,587.8L991.7,585.5L992.7,583.4L993.7,581.7L994.7,580.3L995.7,579.2L996.7,578.3L998.0,577.8L998.7,577.8L999.7,578.5L1000.7,580.0L1001.7,582.0L1002.7,584.3L1003.7,586.8L1004.7,589.3L1005.7,591.8L1006.8,594.1L1007.7,595.6L1008.7,597.4L1009.7,599.3L1010.7,600.9L1011.7,602.1L1013.1,602.7L1013.7,602.6L1014.7,601.9L1015.7,600.4L1016.7,598.4L1017.7,595.9L1018.7,592.9L1019.7,589.7L1020.7,586.8L1022.0,583.4L1022.7,581.7L1023.7,578.8L1024.7,575.2L1025.7,571.4L1026.7,567.9L1027.7,565.2L1028.7,562.9L1029.6,561.4L1030.7,561.2L1031.7,559.1L1032.7,557.2L1033.7,555.5L1034.7,553.9L1035.7,554.2L1036.7,555.3L1037.7,555.0L1038.7,553.2L1039.7,552.0L1040.7,552.2L1041.7,552.4L1042.9,552.7L1043.7,552.9L1044.7,551.6L1045.7,551.0L1046.7,549.6L1047.7,548.6L1048.7,547.1L1049.7,545.2L1050.7,544.1L1051.7,545.2L1052.7,546.3L1053.7,547.0L1054.7,547.7L1055.7,545.9L1056.7,543.7L1057.7,543.6L1058.7,544.3L1059.7,544.5L1060.7,544.2L1061.7,544.0L1062.7,544.1L1063.7,543.9L1064.7,540.6L1065.6,537.7L1066.7,537.7L1067.7,539.4L1068.7,542.5L1069.7,546.2L1070.7,549.1L1071.7,550.6L1073.2,552.1L1073.7,552.3L1074.7,552.5L1075.7,553.4L1076.7,554.1L1077.7,553.0L1078.7,551.7L1079.7,550.0L1080.7,548.3L1081.7,547.2L1082.7,546.9L1083.3,546.9L1084.7,545.6L1085.7,544.6L1086.7,544.6L1087.7,544.6L1088.7,541.0L1089.7,536.9L1090.7,535.7L1091.7,535.6L1092.7,535.5L1093.7,535.5L1094.7,536.3L1095.7,539.3L1096.7,541.7L1097.7,538.7L1098.7,535.8L1099.7,535.1L1101.0,534.8L1101.7,534.5L1102.7,534.0L1103.7,534.7L1104.7,536.3L1105.7,537.0L1106.7,535.5L1107.7,534.4L1108.7,537.0L1109.7,539.6L1110.7,538.0L1111.7,535.9L1112.7,536.8L1113.7,538.8L1114.7,540.2L1115.7,540.9L1116.7,541.2L1117.7,540.3L1118.7,539.2L1119.7,536.6L1121.2,534.0L1121.7,534.4L1122.7,535.3L1123.7,536.2L1124.7,537.2L1125.7,539.5L1126.7,543.1L1127.7,545.0L1128.7,542.9L1129.7,541.5L1130.7,545.8L1131.7,550.1L1132.7,549.4L1133.8,547.9L1134.7,548.8L1135.7,550.7L1136.7,550.8L1137.7,549.2L1138.7,548.9L1139.7,551.8L1140.7,554.3L1141.7,553.0L1142.7,551.8L1143.7,550.4L1144.7,548.9L1145.7,550.4L1146.4,552.4L1147.7,553.9L1148.7,552.4L1149.7,550.7L1150.7,549.0L1151.7,546.8L1152.7,542.2L1153.7,537.5L1154.7,535.0L1155.7,532.7L1156.7,531.0L1157.7,529.6L1158.7,529.0L1159.7,529.3L1160.7,529.0L1161.5,526.9L1162.7,525.1L1163.7,528.9L1164.7,532.9L1165.7,532.8L1166.7,532.2L1167.7,534.2L1168.7,537.2L1169.7,538.9L1170.7,539.3L1171.6,539.5L1172.7,540.6L1173.7,540.9L1174.7,537.6L1175.7,534.1L1176.7,532.2L1177.7,530.4L1178.7,531.7L1179.7,534.4L1180.7,533.7L1181.7,529.6L1182.7,527.0L1183.7,527.8L1184.7,528.6L1185.5,528.6L1186.7,529.1L1187.7,528.9L1188.7,528.8L1189.7,532.1L1190.7,536.8L1191.7,539.7L1192.7,540.7L1193.7,541.4L1194.7,541.5L1195.7,540.4L1196.9,540.7L1197.7,540.7L1198.7,540.3L1199.7,539.8L1200.7,538.9L1201.7,537.8L1202.7,537.1L1203.7,536.7L1204.7,536.7L1205.7,537.6L1206.7,538.2L1207.7,536.2L1208.7,534.2L1209.7,534.6L1210.7,535.2L1211.7,535.7L1212.7,536.2L1213.7,536.2L1214.7,535.7L1215.7,534.7L1217.1,531.9L1217.7,530.8L1218.7,531.0L1219.7,531.1L1220.7,531.1L1221.7,531.1L1222.7,530.6L1223.7,529.9L1224.7,530.1L1225.7,531.3L1226.7,531.7L1227.7,530.3L1228.7,529.1L1229.7,529.0L1230.7,529.0L1231.7,529.1L1232.7,529.3L1233.7,530.2L1234.7,531.5L1235.7,532.2L1236.7,532.3L1237.7,532.4L1238.7,532.3L1239.7,532.5L1240.7,533.9L1241.7,535.4L1242.7,534.5L1243.7,533.5L1244.7,533.5L1245.7,534.1L1246.7,535.5L1247.7,537.7L1248.7,539.0L1249.7,537.9L1250.7,536.9L1251.7,536.9L1252.4,536.9L1253.7,537.0L1254.7,537.2L1255.7,538.6L1256.7,540.4L1257.7,540.8L1258.7,539.8L1259.7,539.2L1260.7,539.7L1261.7,540.1L1262.7,539.2L1263.7,538.4L1264.7,538.5L1265.7,538.7L1266.7,539.6L1267.7,540.9L1268.7,541.9L1269.7,542.5L1270.7,542.9L1271.7,542.7L1272.6,542.2L1273.7,542.7L1274.7,543.6L1275.7,545.4L1276.7,547.9L1277.6,550.9L1278.7,565.0L1279.5,580.1L1280.5,597.5L1281.5,616.3L1282.5,638.5L1283.5,652.7L1284.5,669.8L1285.5,696.2L1286.5,727.3L1287.5,759.0L1288.5,791.7L1289.5,821.5L1290.5,848.0L1291.6,869.6L1292.6,888.4L1293.6,904.3L1294.6,918.3L1295.6,930.7L1296.6,941.0L1297.6,949.8L1298.6,956.5L1299.6,961.8L1300.6,966.7L1301.6,970.2L1302.6,971.4L1303.6,970.0L1304.6,966.9L1305.6,962.3L1306.6,956.9L1307.6,950.2L1308.6,940.7L1309.6,929.9L1310.6,917.0L1311.6,902.5L1312.6,886.5L1313.6,868.7L1314.6,849.5L1315.6,828.2L1316.6,804.0L1317.6,783.7L1318.6,769.2L1319.6,757.3L1320.6,746.6L1321.6,736.1L1322.6,724.5L1323.6,711.2L1324.6,697.1L1325.6,684.9L1326.6,674.8L1327.6,665.6L1328.6,657.7L1329.6,650.9L1330.6,644.9L1331.6,639.6L1332.6,634.9L1333.6,630.6L1334.6,627.0L1335.6,623.9L1336.6,620.7L1337.6,617.5L1338.6,614.5L1339.6,611.5L1340.6,608.8L1341.6,606.6L1342.6,604.9L1343.6,603.8L1344.5,603.6L1345.5,604.6L1346.5,607.4L1347.5,611.8L1348.5,617.6L1349.5,624.7L1350.4,636.9L1351.4,658.7L1352.4,675.6L1353.4,690.4L1354.4,703.2L1355.3,713.3L1356.3,721.7L1357.3,729.2L1358.3,736.6L1359.3,744.1L1360.2,750.6L1361.2,755.6L1362.2,760.1L1363.2,763.8L1364.2,765.5L1365.2,762.8L1366.2,755.3L1367.2,744.7L1368.2,727.3L1369.2,693.0L1370.2,661.6L1371.2,636.9L1372.2,616.5L1373.2,606.7L1374.2,599.5L1375.2,593.3L1376.2,588.2L1377.2,584.6L1378.2,582.2L1379.2,581.5L1380.2,583.3L1381.2,588.5L1382.2,596.6L1383.2,607.0L1384.3,619.3L1385.3,633.2L1386.3,660.4L1387.3,691.6L1388.3,713.2L1389.3,733.2L1390.3,753.5L1391.3,773.9L1392.3,794.7L1393.3,816.5L1394.3,839.4L1395.4,862.9L1396.4,887.1L1397.4,912.0L1398.4,937.4L1399.4,962.9L1400.4,990.0L1402.0,1022.4L1402.9,1039.6L1403.7,1064.6L1404.4,1079.5L1406.0,1040.1L1406.9,1022.1L1407.7,1006.5L1408.5,990.0L1409.5,964.5L1410.5,942.4L1411.6,921.9L1412.6,902.4L1413.6,883.4L1414.6,864.5L1415.7,846.1L1416.7,828.1L1417.7,810.2L1418.7,792.7L1419.8,774.5L1420.8,762.3L1421.8,753.4L1422.8,746.6L1423.9,740.1L1424.9,734.4L1425.9,730.5L1426.9,729.0L1427.9,729.8L1428.9,732.0L1429.8,735.1L1430.8,738.7L1431.8,742.6L1432.7,746.4L1433.7,749.6L1434.6,751.8L1435.6,752.7L1436.6,750.9L1437.6,746.6L1438.6,741.5L1439.6,735.9L1440.7,730.4L1441.7,726.2L1442.7,723.6L1443.7,722.8L1444.7,722.2L1445.7,720.2L1446.7,715.0L1447.7,709.8L1448.8,705.9L1449.8,703.5L1450.8,701.8L1451.8,701.0L1452.7,703.6L1453.7,711.3L1454.6,723.3L1455.6,751.4L1456.5,787.3L1457.5,795.6L1458.4,846.1L1459.4,899.3L1460.3,857.6L1461.3,820.0L1462.3,787.5L1463.2,754.9L1464.2,742.1L1465.1,736.8L1466.1,735.4L1467.0,734.4L1468.0,734.0L1469.0,735.5L1470.0,736.9L1471.0,738.3L1472.0,739.6L1473.0,740.8L1474.0,742.2L1475.0,743.5L1476.0,745.0L1477.0,746.4L1478.0,732.7L1479.0,719.8L1480.0,710.5L1481.0,705.5L1482.0,703.5L1483.0,702.3L1484.0,701.3L1485.0,700.1L1486.0,698.7L1487.0,697.7L1488.0,696.7L1489.0,695.7L1490.0,694.9L1491.0,694.6L1492.0,695.6L1493.1,698.2L1494.1,701.5L1495.1,705.0L1496.1,708.6L1497.1,712.7L1498.1,717.3L1499.1,722.9L1500.1,729.7L1501.1,741.0L1502.1,755.5L1503.2,769.4L1504.2,783.3L1505.2,795.6L1506.2,805.9L1507.2,815.2L1508.2,824.2L1509.2,834.0L1510.2,845.7L1511.2,864.9L1512.3,885.6L1513.3,895.4L1514.3,892.5L1515.3,884.7L1516.3,873.9L1517.4,862.5L1518.4,851.5L1519.4,838.2L1520.4,824.8L1521.4,812.9L1522.5,801.2L1523.5,790.1L1524.5,780.4L1525.5,772.7L1526.6,765.6L1527.6,759.2L1528.6,754.7L1529.6,753.1L1530.6,755.6L1531.6,761.7L1532.6,770.0L1533.6,778.8L1534.6,786.3L1535.6,791.4L1536.5,795.6L1537.5,799.3L1538.5,802.7L1539.5,806.2L1540.5,810.2L1541.5,815.1L1542.5,821.2L1543.5,830.0L1544.5,842.7L1545.5,856.0L1546.5,868.2L1547.4,880.2L1548.4,892.3L1549.4,905.4L1550.4,919.7L1551.4,934.6L1552.4,949.2L1553.4,963.9L1554.4,980.4L1555.4,1000.8L1556.4,1021.1L1557.3,1041.7L1558.3,1056.8L1559.3,1064.7L1560.3,1071.5L1561.3,1077.2L1562.3,1081.5L1563.3,1084.3L1564.3,1085.5L1565.3,1084.2L1566.3,1080.0L1567.3,1073.8L1568.3,1066.7L1569.3,1059.0L1570.3,1049.9L1571.3,1037.5L1572.3,1023.9L1573.3,1010.7L1574.3,996.8L1575.3,984.8L1576.3,976.5L1577.4,969.5L1578.4,961.5L1579.4,948.7L1580.4,932.0L1581.4,918.1L1582.4,906.3L1583.4,899.0L1584.4,893.4L1585.4,888.7L1586.4,884.5L1587.4,880.9L1588.4,877.7L1589.4,874.3L1590.4,870.4L1591.4,866.1L1592.4,862.0L1593.5,858.1L1594.5,854.5L1595.5,850.5L1596.5,846.2L1597.5,841.9L1598.5,837.8L1599.5,834.3L1600.5,831.3L1601.5,828.9L1602.5,827.4L1603.5,826.6L1604.5,829.1L1605.5,835.8L1606.5,844.4L1607.5,853.0L1608.5,862.0L1609.5,871.9L1610.5,881.7L1611.5,891.4L1612.5,901.4L1613.5,909.8L1614.5,915.1L1615.5,919.3L1616.5,922.9L1617.5,925.8L1618.5,928.1L1619.5,929.7L1620.5,930.9L1621.5,932.2L1622.5,933.6L1623.5,935.5L1624.6,938.4L1625.6,942.6L1626.6,948.1L1627.6,955.5L1628.6,967.1L1629.6,979.2L1630.6,989.0L1631.6,997.9L1632.6,1006.4L1633.6,1015.4L1634.6,1025.0L1635.6,1033.9L1636.6,1040.6L1637.6,1046.4L1638.6,1051.6L1639.6,1055.9L1640.6,1059.2L1641.6,1061.7L1642.6,1063.8L1643.6,1065.6L1644.6,1067.1L1645.6,1068.3L1646.6,1069.1L1647.6,1069.7L1648.6,1070.2L1649.6,1070.5L1650.6,1070.6L1651.6,1069.1L1652.7,1065.0L1653.7,1058.8L1654.7,1051.0L1655.7,1030.7L1656.8,1005.7L1657.8,993.4L1658.8,998.9L1659.8,1009.6L1660.7,1017.6L1661.7,1024.2L1662.7,1029.3L1663.7,1031.2L1664.7,1014.0L1665.7,981.0L1666.7,949.6L1667.6,930.4L1668.6,914.4L1669.6,898.5L1670.6,883.4L1671.6,871.4L1672.6,862.3L1673.6,854.5L1674.6,847.5L1675.6,841.0L1676.6,834.6L1677.6,828.3L1678.6,822.5L1679.5,817.3L1680.5,812.4L1681.5,807.9L1682.5,804.0L1683.5,800.4L1684.5,796.9L1685.5,793.3L1686.5,790.0L1687.5,787.1L1688.5,784.3L1689.5,781.1L1690.5,777.9L1691.4,775.0L1692.4,772.2L1693.4,769.6L1694.4,766.9L1695.4,764.0L1696.4,760.8L1697.4,757.3L1698.4,753.7L1699.4,750.0L1700.4,746.1L1701.4,742.6L1702.4,739.6L1703.4,736.9L1704.3,734.2L1705.3,731.7L1706.3,729.6L1707.3,728.0L1708.3,727.4L1709.3,728.2L1710.2,729.4L1711.1,730.8L1712.1,732.3L1713.0,733.7L1714.0,735.2L1714.9,736.8L1715.9,738.1L1716.8,738.8L1717.8,736.1L1718.8,729.9L1719.8,723.0L1721.7,707.7L1722.7,703.9L1723.7,700.9L1724.7,698.2L1725.6,695.6L1726.6,693.2L1727.6,691.1L1728.6,689.5L1729.6,688.8L1730.5,688.2L1731.5,687.8L1732.5,687.5L1733.5,687.4L1734.5,687.4L1735.5,687.3L1736.5,687.2L1737.5,687.4L1738.5,687.8L1739.5,688.2L1740.5,688.6L1741.5,693.3L1742.5,701.0L1743.5,708.8L1744.6,718.0L1745.6,727.4L1746.6,737.1L1747.6,744.5L1748.6,748.6L1749.6,751.7L1750.6,754.2L1751.6,756.6L1752.6,758.7L1753.6,760.3L1754.6,762.1L1755.7,764.5L1756.7,767.6L1757.7,772.3L1758.7,779.4L1759.7,787.9L1760.7,798.0L1761.7,810.5L1762.7,824.4L1763.7,839.7L1764.7,855.8L1765.7,870.2L1766.8,879.7L1767.8,888.3L1768.8,894.3L1769.8,896.5L1770.8,894.4L1771.8,888.6L1772.8,880.3L1773.8,871.0L1774.8,857.4L1775.8,842.1L1776.8,825.9L1777.8,815.2L1778.8,809.9L1779.8,806.5L1780.8,804.5L1781.9,802.9L1782.9,802.2L1783.8,802.7L1784.8,804.0L1785.8,806.1L1786.8,812.0L1787.8,826.8L1788.7,842.4L1789.7,859.8L1790.7,878.0L1791.7,895.5L1792.7,904.4L1793.6,910.7L1794.6,913.3L1795.7,911.6L1796.7,907.0L1797.7,900.3L1798.7,887.6L1799.8,866.2L1800.8,837.8L1801.8,818.6L1802.9,805.9L1803.9,795.3L1804.9,787.4L1805.9,784.3L1807.0,782.1L1808.0,781.1L1809.0,781.1L1810.1,781.2L1811.1,781.4L1812.2,782.2L1812.7,782.7L1813.2,783.1L1814.2,783.2L1815.3,782.4L1816.3,780.7L1817.3,779.0L1818.3,776.8L1819.3,773.5L1820.3,768.7L1821.3,765.7L1822.3,763.5L1823.4,761.1L1824.4,758.7L1825.4,756.7L1826.4,755.2L1827.4,753.3L1828.4,751.3L1829.4,750.2L1830.4,749.8L1831.5,749.5L1832.5,749.5L1833.5,749.6L1834.5,749.8L1835.5,750.1L1836.5,750.1L1837.5,750.0L1838.5,749.9L1839.6,749.7L1840.6,749.4L1841.6,748.4L1842.6,746.4L1843.6,743.6L1844.6,741.3L1845.6,741.0L1846.6,741.8L1847.6,742.7L1848.6,743.7L1849.6,745.0L1850.5,746.4L1851.5,747.4L1852.5,747.8L1853.5,748.2L1854.5,748.8L1855.4,749.9L1856.4,752.0L1857.4,753.1L1858.4,752.6L1859.5,750.9L1860.5,749.5L1861.5,749.1L1862.5,748.8L1863.6,748.4L1864.6,748.3L1865.6,748.6L1866.6,749.8L1867.5,751.2L1868.5,752.8L1869.5,755.2L1870.5,759.5L1871.5,764.3L1872.4,767.6L1873.4,769.4L1874.4,770.1L1875.4,769.9L1876.4,769.2L1877.4,768.2L1878.4,768.1L1879.4,768.3L1880.4,767.8L1881.5,766.8L1882.5,766.1L1883.5,766.0L1884.5,765.8L1885.5,765.7L1886.5,765.7L1887.5,765.1L1888.5,764.6L1889.5,765.0L1890.5,765.9L1891.5,767.7L1892.5,769.9L1893.5,771.8L1894.5,773.0L1895.5,774.1L1896.5,775.3L1897.5,776.6L1898.6,778.5L1899.6,781.3L1900.6,787.4L1901.6,793.8L1902.6,798.0L1903.6,801.5L1904.6,802.8L1905.6,796.9L1906.6,788.7L1907.6,786.8L1908.6,787.6L1909.6,789.5L1910.6,791.9L1911.6,794.7L1912.6,797.3L1913.6,800.1L1914.7,803.3L1915.7,807.0L1916.7,811.2L1917.7,815.7L1918.7,821.0L1919.7,830.7L1920.7,846.2L1921.7,865.2L1922.7,885.7L1923.7,906.3L1924.7,926.2L1925.7,941.9L1926.7,949.7L1927.7,941.7L1928.8,927.3L1929.8,909.1L1930.8,888.9L1931.8,868.4L1932.8,851.9L1933.8,840.2L1934.9,830.7L1935.9,822.8L1936.9,816.3L1937.9,808.8L1938.9,798.0L1939.9,790.3L1941.0,787.1L1942.0,784.6L1943.0,782.1L1943.7,781.6L1944.7,781.2L1945.7,781.1L1946.7,780.8L1947.7,780.5L1948.7,780.2L1949.7,780.0L1950.7,779.7L1951.2,779.5L1952.7,778.6L1953.7,777.3L1954.7,775.9L1955.7,774.9L1956.7,773.7L1957.7,771.9L1958.7,770.0L1959.3,768.6L1960.7,763.1L1961.7,757.6L1962.7,751.7L1963.7,746.0L1964.7,741.6L1965.7,737.1L1966.7,732.0L1967.7,726.8L1968.7,722.3L1969.7,718.2L1970.7,715.2L1971.7,713.3L1972.7,712.4L1973.7,724.8L1974.7,752.9L1975.7,781.8L1976.7,795.8L1977.7,795.3L1978.7,793.7L1979.7,790.7L1980.7,784.7"/>
<path id="c-red" d="M119.7,303.4L120.7,303.3L121.7,303.7L122.7,303.6L123.7,303.2L124.7,303.1L125.7,303.3L126.7,303.3L127.7,302.9L128.7,302.6L129.7,303.1L130.7,303.5L131.7,303.2L132.7,302.8L133.7,303.0L134.7,303.5L135.7,303.6L136.7,303.1L137.7,302.9L138.7,303.2L139.7,303.5L140.7,303.5L141.7,303.5L142.7,303.5L143.7,303.6L144.7,303.2L145.7,302.6L146.7,302.4L147.7,302.5L148.7,302.6L149.7,302.7L150.7,302.8L151.7,303.0L152.7,303.1L153.7,302.8L154.7,302.5L155.7,302.6L156.7,302.9L157.7,303.1L158.7,303.1L159.7,302.9L160.7,302.5L161.7,302.2L162.7,302.2L163.7,302.3L164.7,302.6L165.7,303.0L166.7,302.8L167.7,302.2L168.7,302.1L169.7,302.6L170.7,302.8L171.7,302.3L172.7,301.8L173.7,302.3L174.7,302.8L175.7,302.8L176.7,302.8L177.7,302.5L178.7,302.2L179.7,302.3L180.7,302.7L181.7,302.8L182.7,302.4L183.7,302.0L184.7,301.8L185.7,301.6L186.7,301.7L187.7,301.7L188.7,301.9L189.7,302.2L190.7,302.2L191.7,301.8L192.7,301.5L193.7,301.3L194.7,301.2L195.7,301.3L196.7,301.4L197.7,301.8L198.7,302.2L199.7,302.0L200.7,301.5L201.7,301.2L202.7,301.3L203.7,301.5L204.7,301.7L205.7,301.9L206.7,301.9L207.7,302.0L208.7,301.5L209.7,300.9L210.7,300.8L211.7,300.8L212.7,300.7L213.7,300.6L214.7,300.6L215.7,300.6L216.7,300.7L217.7,301.2L218.7,301.7L219.7,301.3L220.7,300.7L221.7,300.5L222.7,300.4L223.7,300.5L224.7,300.8L225.7,300.9L226.7,300.8L227.7,300.8L228.7,301.0L229.7,301.3L230.7,301.2L231.7,301.1L232.7,301.1L233.8,301.1L234.7,301.0L235.7,300.7L236.7,300.6L237.7,301.1L238.7,301.5L239.7,301.4L240.7,301.4L241.7,301.7L242.7,302.0L243.7,302.4L244.7,303.0L245.7,303.4L246.7,303.7L247.7,304.1L248.7,304.7L249.7,305.2L250.7,305.1L251.7,304.9L252.7,305.2L253.7,305.6L254.7,305.8L255.7,305.9L256.7,306.1L257.7,306.5L259.0,306.7L259.7,306.8L260.7,306.8L261.7,306.8L262.7,306.7L263.7,306.2L264.7,305.7L265.7,305.5L266.7,305.4L267.7,305.2L268.7,305.0L269.7,304.8L270.7,304.3L271.7,303.9L272.7,304.0L273.7,304.1L274.7,303.7L275.7,303.2L276.7,302.8L277.7,302.6L278.7,302.7L279.7,303.2L280.7,303.4L281.7,302.8L282.7,302.3L283.7,302.8L284.7,303.3L285.7,303.2L286.7,303.1L287.7,302.9L288.7,302.7L289.7,302.8L290.7,303.2L291.7,303.5L292.7,303.5L293.7,303.5L294.7,303.8L295.7,304.0L296.7,304.4L297.7,304.8L298.7,305.0L299.7,305.2L300.7,305.3L301.7,305.3L302.7,305.2L303.7,305.1L304.7,305.0L305.7,305.3L306.7,305.5L307.7,305.9L308.7,306.4L309.7,306.6L310.7,306.7L311.7,306.6L312.7,306.4L313.7,306.4L314.7,307.0L315.7,307.6L316.7,307.9L317.7,308.3L318.7,308.0L319.7,307.6L320.7,307.7L321.7,307.9L322.7,308.0L323.7,308.0L324.7,308.2L325.7,308.8L327.2,309.2L327.7,309.1L328.7,308.8L329.7,308.8L330.7,308.8L331.7,308.9L332.7,309.0L333.7,309.1L334.7,309.2L335.7,309.3L336.7,309.2L337.7,309.2L338.7,309.8L339.7,310.4L340.7,310.6L341.7,310.7L342.7,310.8L343.7,310.9L344.7,310.7L345.7,310.3L346.7,310.1L347.7,310.3L348.7,310.5L349.7,310.8L350.7,311.1L351.7,311.1L352.7,311.1L353.7,310.9L354.7,310.6L355.7,310.6L356.7,310.7L357.7,310.9L358.7,311.4L359.7,311.7L360.7,311.7L361.7,311.7L362.7,311.3L363.7,310.9L364.7,310.9L365.7,311.0L366.7,311.3L367.7,311.9L368.7,312.2L369.7,311.9L370.7,311.7L371.7,311.6L372.7,311.6L373.7,311.7L374.7,311.9L375.7,312.1L376.7,312.2L377.7,312.5L378.7,312.9L379.7,313.1L380.7,312.7L381.7,312.5L382.7,313.1L383.7,313.8L384.7,313.6L385.7,313.4L386.7,313.5L387.7,313.7L388.7,313.8L389.7,313.8L390.7,313.8L391.7,314.1L392.7,314.4L393.7,315.0L394.7,315.7L395.3,315.7L396.7,315.9L397.7,316.3L398.7,317.0L399.7,318.0L400.7,319.3L401.6,320.1L402.7,321.0L403.7,321.7L404.7,322.5L405.7,323.2L406.7,323.7L407.7,324.2L408.7,325.0L409.7,325.9L410.4,326.4L411.7,326.9L412.7,327.4L413.7,328.2L414.7,329.1L415.7,329.7L416.7,330.4L417.7,331.0L418.7,331.7L419.7,332.5L420.7,333.4L421.7,334.1L422.7,334.6L423.7,335.2L424.7,336.0L425.7,336.9L426.7,337.5L427.7,338.2L428.7,338.9L429.7,339.7L430.7,340.2L431.7,340.5L432.7,341.0L433.7,341.5L434.7,342.0L435.7,342.4L436.7,343.0L437.7,343.8L438.7,344.6L439.7,344.9L440.7,345.2L441.7,345.8L442.7,346.5L443.7,347.1L444.7,347.6L445.7,348.0L446.7,348.3L447.7,348.5L448.7,349.0L449.7,349.4L450.7,350.0L451.7,350.6L452.7,351.2L453.7,351.7L454.7,352.1L455.7,352.4L456.7,352.7L457.7,352.8L458.7,353.0L459.7,353.3L460.7,353.6L461.7,353.7L462.7,353.8L463.7,354.1L464.7,354.4L465.7,354.5L466.7,354.3L467.7,354.3L468.5,354.5L469.7,354.7L470.7,354.4L471.7,354.0L472.7,354.1L473.7,354.1L474.7,354.0L475.7,353.8L476.7,353.6L477.7,353.4L478.7,353.1L479.7,352.7L480.7,352.3L481.7,352.0L482.7,351.7L483.7,351.3L484.7,350.8L485.7,350.3L486.7,349.8L487.7,349.4L488.7,349.0L489.7,348.6L490.7,348.3L491.2,348.2L492.7,347.6L493.7,347.2L494.7,346.9L495.7,346.6L496.7,346.0L497.7,345.5L498.7,345.0L499.7,344.8L500.7,344.4L501.7,343.7L502.7,343.0L503.7,342.4L504.7,341.7L505.7,341.3L506.7,341.0L507.7,340.2L508.7,339.2L509.7,338.5L510.7,338.0L511.7,337.5L512.7,336.9L513.7,336.3L514.7,335.8L515.7,335.4L516.7,334.8L517.7,334.1L518.7,333.5L519.7,333.0L520.7,332.4L521.7,331.7L522.7,331.0L523.7,330.4L524.7,329.8L525.7,329.3L526.7,328.8L527.7,328.4L529.1,327.8L529.7,327.6L530.7,327.2L531.7,326.8L532.7,326.2L533.7,325.7L534.7,325.6L535.7,325.4L536.7,324.6L537.7,323.8L538.7,323.3L539.7,322.8L540.7,322.4L541.7,322.0L542.7,321.7L543.7,321.3L544.7,320.9L545.7,320.6L546.7,320.3L547.7,319.9L548.7,319.6L549.7,319.4L550.7,319.4L551.7,319.4L552.7,319.5L553.7,319.4L554.3,319.2L555.7,319.0L556.7,319.4L557.7,319.8L558.7,319.7L559.7,319.7L560.7,320.3L561.7,320.9L562.7,321.1L563.7,321.2L564.7,321.5L565.7,321.9L566.7,322.2L567.7,322.3L568.7,322.5L569.7,322.9L570.7,323.2L571.7,323.1L572.7,322.9L573.7,322.8L574.7,322.7L575.7,322.4L576.7,322.1L577.7,321.8L578.7,321.8L579.7,321.7L580.7,320.9L581.7,320.2L582.7,319.7L583.7,319.2L584.7,319.0L585.7,318.9L586.7,318.7L587.7,318.5L588.7,318.2L589.7,317.6L590.7,317.2L591.6,317.2L592.7,317.3L593.7,317.4L594.7,317.5L595.7,317.8L596.7,318.2L597.7,318.7L598.7,319.2L599.7,319.8L600.7,320.3L601.7,320.9L602.7,321.2L603.7,321.5L604.7,322.1L605.7,322.8L606.7,323.2L607.7,323.5L608.7,323.8L609.7,324.3L610.7,324.6L611.7,324.9L612.7,325.2L613.7,325.3L614.7,325.3L615.6,325.3L616.7,325.3L617.7,325.5L618.7,325.6L619.7,325.4L620.7,324.8L621.7,324.4L622.7,324.4L623.7,324.4L624.7,323.9L625.7,323.4L626.7,323.3L627.7,323.3L628.7,323.1L629.7,322.9L630.8,322.7L631.7,322.8L632.7,323.1L633.7,323.8L634.7,324.7L635.7,325.4L636.7,326.3L637.7,327.5L638.7,328.8L639.7,330.0L640.7,331.0L642.1,333.2L642.7,334.2L643.7,336.2L644.7,338.2L645.7,340.6L646.7,343.6L647.7,346.9L648.7,350.3L649.7,353.9L651.0,358.7L651.7,362.0L652.7,367.5L653.7,373.5L654.7,379.8L655.7,385.7L656.7,390.9L657.3,393.6L658.7,399.3L659.7,402.6L660.7,405.6L661.7,408.5L662.7,411.2L663.7,414.0L664.7,416.8L666.1,421.5L666.7,424.0L667.7,429.0L668.7,434.7L669.7,440.6L670.7,446.2L671.7,451.3L672.7,455.7L673.7,458.8L674.9,460.5L675.7,460.3L676.7,459.0L677.7,456.6L678.7,453.6L679.7,450.1L680.7,446.3L681.7,442.5L682.5,439.6L683.7,434.6L684.7,429.5L685.7,424.2L686.7,419.1L687.7,414.1L688.7,409.2L690.1,403.8L690.7,401.8L691.7,398.4L692.7,395.0L693.7,391.7L694.7,388.8L695.7,386.3L696.7,384.4L697.7,383.0L698.9,382.3L699.7,382.7L700.7,384.5L701.7,387.7L702.7,391.6L703.7,395.5L704.7,399.3L705.2,401.1L706.7,406.6L707.7,411.1L708.7,415.8L709.7,420.0L710.7,423.3L711.7,425.6L712.8,426.4L713.7,425.2L714.7,421.8L715.7,416.6L716.7,410.5L717.7,403.8L719.1,393.8L719.7,389.0L720.7,379.0L721.7,369.1L722.9,360.8L723.7,357.5L724.7,354.0L725.7,350.8L726.7,348.1L727.7,345.8L728.7,343.8L729.7,341.8L730.7,339.9L731.7,338.1L732.7,336.6L733.7,335.2L734.7,334.1L735.7,333.0L736.7,331.9L737.7,330.7L738.7,329.4L739.7,328.0L740.7,327.0L741.7,326.6L742.7,326.0L743.7,325.2L744.7,324.4L745.7,323.6L746.9,322.7L747.7,322.4L748.7,321.9L749.7,321.5L750.7,321.2L751.7,320.9L752.7,320.9L753.7,320.7L754.7,320.2L755.7,319.7L756.7,319.6L757.7,319.5L758.7,319.0L759.7,318.6L760.7,318.6L761.7,318.7L762.7,318.6L763.7,318.2L764.7,317.9L765.7,317.9L766.7,317.7L767.7,317.3L768.7,316.8L769.7,316.9L770.7,317.0L771.7,316.7L772.7,316.3L773.7,316.0L774.7,315.8L775.7,315.7L777.2,315.7L777.7,315.7L778.7,315.3L779.7,314.9L780.7,314.9L781.7,315.0L782.7,314.7L783.7,314.3L784.7,313.9L785.7,313.6L786.7,313.4L787.7,313.4L788.7,313.4L789.7,313.4L790.7,313.4L791.7,312.9L792.7,312.5L793.7,312.2L794.7,312.1L795.7,312.1L796.7,312.2L797.7,312.2L798.7,312.2L799.7,312.1L800.7,311.6L801.7,311.1L802.7,311.3L803.7,311.5L804.7,311.3L805.7,310.9L806.7,310.8L807.7,310.8L808.7,310.8L809.7,310.7L810.7,310.5L811.7,310.5L812.7,310.6L813.7,310.5L815.0,310.3L815.7,310.1L816.7,309.8L817.7,309.5L818.7,309.4L819.7,309.4L820.7,309.5L821.7,309.5L822.7,309.4L823.7,309.2L824.7,309.0L825.7,308.9L826.7,308.9L827.7,309.0L828.7,309.0L829.7,308.9L830.7,308.8L831.7,308.9L832.7,308.9L833.7,309.0L834.7,309.0L835.7,308.8L836.7,308.6L837.7,308.6L838.7,308.7L839.7,308.7L840.7,308.6L841.7,308.5L842.7,308.2L843.7,307.9L844.7,308.0L845.7,308.1L846.7,308.1L847.7,308.2L848.7,308.0L849.7,307.7L850.7,307.5L851.7,307.4L852.7,307.4L853.7,307.7L854.7,308.0L855.7,307.6L856.7,307.2L857.7,307.4L858.7,307.7L859.7,307.5L860.7,307.1L861.7,306.9L862.7,306.9L863.7,306.9L864.7,307.2L865.7,307.4L866.7,307.4L867.7,307.4L868.7,307.1L869.7,306.8L870.7,306.7L871.7,306.7L872.7,306.7L873.7,306.8L874.7,306.8L875.7,306.7L876.7,306.7L878.1,306.8L878.7,306.8L879.7,306.9L880.7,307.0L881.7,306.9L882.7,306.8L883.7,306.7L884.7,306.8L885.7,306.8L886.7,306.6L887.7,306.4L888.7,306.1L889.7,305.9L890.7,306.0L891.7,306.1L892.7,306.2L893.7,306.3L894.7,306.3L895.7,306.2L896.7,306.1L897.7,306.0L898.7,305.9L899.7,305.7L900.7,305.5L901.7,305.7L902.7,306.0L903.7,305.9L904.7,305.7L905.7,305.7L906.7,305.9L907.7,306.0L908.7,306.0L909.7,306.1L910.7,305.9L911.7,305.8L912.7,305.7L913.7,305.5L914.7,305.5L915.7,305.7L916.7,305.6L917.7,305.4L918.7,305.3L919.7,305.5L920.7,305.7L921.7,305.8L922.7,305.9L923.7,305.7L924.7,305.6L925.7,305.5L926.7,305.6L927.7,305.5L928.6,305.5L929.7,305.4L930.7,305.4L931.7,305.4L932.7,305.6L933.7,305.9L934.7,305.6L935.7,305.2L936.7,305.1L937.7,305.2L938.7,305.3L939.7,305.6L940.7,305.9L941.7,306.0L942.7,306.1L943.7,305.9L944.7,305.7L945.7,306.0L946.7,306.2L947.7,306.3L948.7,306.4L949.7,306.5L950.7,306.6L951.7,306.7L952.7,306.9L953.8,307.0L954.7,307.7L955.7,309.9L956.7,313.1L957.7,317.1L958.7,321.7L960.1,328.5L960.7,331.1L961.7,337.2L962.7,344.4L963.7,351.8L964.7,358.2L965.7,362.3L966.5,363.4L967.7,361.3L968.7,357.3L969.7,352.4L970.7,347.3L971.7,342.2L972.7,337.8L974.0,335.5L974.7,336.3L975.7,339.2L976.7,342.9L977.7,346.3L979.1,348.2L979.7,347.9L980.7,347.4L981.7,346.5L982.7,345.2L983.7,343.6L984.7,341.8L985.7,340.2L986.7,338.5L987.7,336.4L988.7,334.4L989.7,332.4L990.7,330.6L991.7,329.4L992.7,328.6L993.7,328.2L994.2,328.3L995.7,329.0L996.7,330.0L997.7,331.2L998.7,332.4L999.7,333.7L1000.7,335.4L1001.7,337.1L1002.7,338.6L1003.7,339.8L1004.3,340.4L1005.7,341.9L1006.7,343.1L1007.7,344.4L1008.7,345.6L1009.7,346.6L1010.7,347.3L1011.7,348.1L1013.1,348.7L1013.7,348.4L1014.7,347.9L1015.7,347.4L1016.7,347.0L1017.7,346.4L1018.7,345.8L1019.7,345.1L1020.7,344.5L1022.0,343.6L1022.7,342.6L1023.7,340.2L1024.7,336.8L1025.7,332.8L1026.7,328.9L1027.7,325.5L1028.7,322.4L1029.6,320.2L1030.7,316.0L1031.7,314.5L1032.8,313.1L1033.7,313.8L1034.7,314.6L1035.7,313.0L1036.7,310.4L1037.7,309.3L1038.7,309.5L1039.7,309.5L1040.7,308.8L1041.7,308.0L1042.7,306.8L1043.7,305.8L1044.7,304.7L1045.4,302.7L1046.7,303.0L1047.7,305.0L1048.7,307.4L1049.7,310.1L1050.7,312.5L1051.7,314.0L1052.7,314.9L1053.7,312.1L1054.3,310.4L1055.7,310.4L1056.7,311.7L1057.7,309.9L1058.7,307.1L1059.7,303.2L1060.6,299.5L1061.7,297.3L1062.7,299.7L1063.7,302.2L1064.7,302.3L1065.7,302.6L1066.9,305.0L1067.7,307.0L1068.7,308.8L1069.7,310.1L1070.7,312.9L1071.9,317.1L1072.7,316.0L1073.7,308.9L1074.7,300.9L1075.7,294.6L1076.7,293.1L1077.7,294.7L1078.7,297.4L1079.7,300.4L1080.7,303.2L1081.7,305.4L1082.7,306.4L1083.3,306.3L1084.7,309.1L1085.7,310.8L1086.7,311.0L1087.7,311.0L1088.7,307.7L1089.7,304.0L1090.7,301.6L1091.7,299.8L1092.7,299.8L1093.7,301.5L1094.7,302.0L1095.9,298.8L1096.7,297.3L1097.7,298.6L1098.7,299.8L1099.7,300.2L1100.7,300.5L1101.7,301.2L1102.7,302.2L1103.7,301.9L1104.7,300.3L1105.7,299.9L1106.7,302.2L1107.7,304.0L1108.7,301.7L1109.7,299.4L1110.7,301.1L1111.7,303.3L1112.7,305.0L1113.6,306.2L1114.7,305.6L1115.7,302.8L1116.7,300.8L1117.7,300.8L1118.7,301.0L1119.7,302.9L1120.7,304.9L1121.7,303.4L1122.7,301.6L1123.7,302.7L1124.7,305.1L1126.2,307.6L1126.7,308.1L1127.7,308.2L1128.7,306.3L1129.7,304.3L1130.7,304.0L1131.7,303.6L1132.7,300.4L1133.7,296.9L1134.7,295.5L1135.7,295.1L1136.7,294.4L1137.7,293.5L1138.8,293.1L1139.7,293.5L1140.7,294.4L1141.7,297.6L1142.7,300.8L1143.7,301.5L1145.1,301.3L1145.7,299.3L1146.7,294.1L1147.7,290.4L1148.7,289.1L1149.7,287.2L1150.9,283.5L1151.7,283.1L1152.7,285.5L1153.7,288.9L1154.7,290.5L1155.7,292.1L1156.7,297.2L1157.7,303.3L1158.7,307.5L1159.7,309.2L1160.3,309.5L1161.7,304.4L1162.7,299.5L1163.7,296.4L1164.7,293.2L1165.7,292.5L1166.7,292.9L1167.8,293.0L1168.7,293.6L1169.7,292.8L1170.7,290.7L1171.7,290.7L1172.7,295.7L1173.7,300.0L1174.7,297.2L1175.7,294.3L1176.7,298.6L1177.7,303.5L1178.7,302.9L1179.7,299.9L1180.7,300.0L1181.7,303.3L1182.7,305.4L1183.7,305.7L1184.7,305.5L1185.7,301.8L1186.7,298.1L1187.7,297.0L1188.7,296.3L1189.7,297.3L1190.7,299.2L1191.8,301.1L1192.7,302.4L1193.7,302.4L1194.7,299.1L1195.7,298.1L1196.7,300.4L1197.7,302.7L1198.7,302.1L1199.7,301.2L1200.7,301.0L1201.7,301.2L1202.7,301.9L1203.7,303.4L1204.4,304.3L1205.7,303.8L1206.7,303.2L1207.7,302.1L1208.7,300.8L1209.7,301.5L1210.7,302.4L1211.7,302.1L1212.7,301.2L1213.7,300.2L1214.7,299.1L1215.7,298.0L1216.7,297.0L1217.7,296.1L1218.7,297.4L1219.7,298.7L1220.7,298.8L1222.1,298.7L1222.7,298.3L1223.7,297.7L1224.7,297.6L1225.7,298.1L1226.7,297.9L1227.7,296.2L1228.7,294.8L1229.7,295.0L1230.7,295.3L1231.7,296.1L1232.7,297.1L1233.7,297.4L1234.7,297.5L1235.7,296.8L1236.7,295.1L1237.3,294.2L1238.7,293.9L1239.7,294.1L1240.7,296.1L1241.7,298.1L1242.7,297.3L1243.7,296.3L1244.7,297.2L1246.1,299.8L1246.7,299.6L1247.7,299.0L1248.7,299.4L1249.7,301.8L1250.7,304.0L1251.7,304.6L1252.7,305.2L1253.7,307.1L1254.7,309.1L1255.7,310.3L1256.7,311.0L1257.4,311.0L1258.7,309.7L1259.7,309.1L1260.7,309.5L1261.7,309.7L1262.7,307.9L1263.7,306.2L1264.7,306.0L1265.7,306.1L1266.7,305.9L1267.7,305.5L1268.7,306.1L1269.7,307.7L1270.7,308.1L1271.3,306.9L1272.7,306.5L1273.7,307.0L1274.7,307.6L1275.7,308.4L1276.7,309.4L1277.7,310.9L1278.9,313.2L1279.7,318.3L1280.5,326.8L1281.5,339.9L1282.5,355.6L1283.5,365.4L1284.5,377.6L1285.5,396.5L1286.5,418.5L1287.5,440.8L1288.5,464.0L1289.5,485.2L1290.5,504.0L1291.6,519.1L1292.6,532.3L1293.6,543.8L1294.6,553.8L1295.6,562.5L1296.6,569.7L1297.6,575.8L1298.6,580.6L1299.6,584.5L1300.6,588.0L1301.6,590.6L1302.6,591.6L1303.6,590.8L1304.6,588.5L1305.6,585.2L1306.6,581.8L1307.6,577.5L1308.6,571.2L1309.6,564.0L1310.6,555.5L1311.6,546.1L1312.6,535.7L1313.6,524.0L1314.6,511.4L1315.6,497.2L1316.6,481.1L1317.6,468.0L1318.6,458.7L1319.6,450.8L1320.6,443.6L1321.6,436.6L1322.6,429.2L1323.6,420.5L1324.6,411.1L1325.6,402.9L1326.6,396.4L1327.6,390.5L1328.6,385.1L1329.6,380.4L1330.6,376.4L1331.6,373.0L1332.6,370.0L1333.6,367.5L1334.6,365.3L1335.6,363.0L1336.6,360.8L1337.6,358.8L1338.6,356.9L1339.6,354.9L1340.6,353.1L1341.6,351.7L1342.6,350.7L1343.6,350.1L1344.5,349.9L1345.5,350.5L1346.5,352.2L1347.5,355.1L1348.5,359.3L1349.5,364.3L1350.4,372.9L1351.4,388.3L1352.4,400.0L1353.4,410.1L1354.4,418.9L1355.3,426.0L1356.3,431.9L1357.3,437.1L1358.3,442.3L1359.3,447.5L1360.2,452.1L1361.2,455.8L1362.2,459.2L1363.2,461.8L1364.2,462.8L1365.2,460.6L1366.2,455.0L1367.2,447.2L1368.2,434.6L1369.2,409.7L1370.2,386.8L1371.2,368.8L1372.2,354.1L1373.2,347.0L1374.2,341.9L1375.2,337.3L1376.2,333.5L1377.2,330.9L1378.2,329.3L1379.2,328.9L1380.2,330.5L1381.2,334.1L1382.2,339.7L1383.2,347.1L1384.3,355.8L1385.3,367.4L1386.3,389.4L1387.3,407.0L1388.3,420.5L1389.3,434.3L1390.3,448.3L1391.3,462.6L1392.3,477.7L1393.3,493.5L1394.4,509.5L1395.4,525.8L1396.4,542.7L1397.4,559.9L1398.4,577.6L1399.4,596.6L1400.4,614.5L1401.4,629.2L1402.4,641.8L1403.4,656.2L1404.4,666.4L1405.5,662.7L1406.5,654.1L1407.5,644.3L1408.5,632.6L1409.6,618.7L1410.6,601.5L1411.6,582.6L1412.6,565.8L1413.7,550.7L1414.7,536.4L1415.7,522.4L1416.7,509.1L1417.7,496.1L1418.8,483.1L1419.8,470.0L1420.8,456.7L1421.8,448.4L1422.9,442.6L1423.9,437.9L1424.9,433.6L1425.9,430.5L1426.9,429.2L1427.9,429.8L1428.9,431.9L1429.8,435.3L1430.8,439.2L1431.8,443.3L1432.7,447.3L1433.7,450.7L1434.6,453.2L1435.6,454.3L1436.6,452.9L1437.6,449.6L1438.6,446.0L1439.6,441.9L1440.7,437.8L1441.7,434.5L1442.7,432.6L1443.7,432.1L1444.7,431.8L1445.7,430.6L1446.7,426.9L1447.7,423.1L1448.8,420.1L1449.8,418.2L1450.8,416.8L1451.8,416.3L1452.7,418.1L1453.7,423.4L1454.6,431.5L1455.6,450.2L1456.5,474.0L1457.5,479.4L1458.4,512.9L1459.4,548.2L1460.3,520.2L1461.3,495.0L1462.3,473.0L1463.2,450.8L1464.2,441.9L1465.1,438.3L1466.1,437.3L1467.0,436.7L1468.0,436.5L1469.0,437.3L1470.0,438.1L1471.0,439.0L1472.0,440.0L1473.0,441.0L1474.0,441.8L1475.0,442.6L1476.0,443.3L1477.0,443.9L1478.0,434.3L1479.0,425.4L1480.0,418.9L1481.0,415.5L1482.0,414.0L1483.0,413.0L1484.0,412.3L1485.0,411.5L1486.0,410.7L1487.0,410.0L1488.0,409.3L1489.0,408.6L1490.0,408.1L1491.0,407.8L1492.0,408.4L1493.1,410.3L1494.1,412.8L1495.1,415.4L1496.1,417.6L1497.1,420.3L1498.1,423.5L1499.1,427.4L1500.1,432.1L1501.1,439.7L1502.1,449.8L1503.2,459.6L1504.2,469.3L1505.2,477.8L1506.2,484.9L1507.2,491.2L1508.2,497.4L1509.2,504.2L1510.2,512.4L1511.2,525.8L1512.3,540.4L1513.3,547.1L1514.3,545.1L1515.3,540.0L1516.3,533.1L1517.4,525.8L1518.4,518.8L1519.4,510.3L1520.4,501.3L1521.4,493.5L1522.5,485.9L1523.5,478.8L1524.5,472.8L1525.5,468.2L1526.6,463.5L1527.6,459.4L1528.6,456.3L1529.6,455.1L1530.6,456.8L1531.6,460.9L1532.6,466.5L1533.6,472.3L1534.6,477.3L1535.6,480.8L1536.5,483.6L1537.5,486.0L1538.5,488.2L1539.5,490.5L1540.5,493.1L1541.5,496.4L1542.5,500.5L1543.5,506.5L1544.5,515.0L1545.5,523.9L1546.5,531.7L1547.4,539.5L1548.4,547.8L1549.4,556.8L1550.4,566.5L1551.4,576.4L1552.4,585.9L1553.4,595.5L1554.4,606.3L1555.4,620.0L1556.4,633.5L1557.3,647.4L1558.3,657.7L1559.3,662.9L1560.3,667.4L1561.3,671.1L1562.3,673.9L1563.3,675.6L1564.3,676.2L1565.3,675.1L1566.3,672.7L1567.3,669.0L1568.3,664.4L1569.3,659.4L1570.3,653.4L1571.3,645.2L1572.3,636.2L1573.3,627.6L1574.3,618.5L1575.3,610.3L1576.3,604.6L1577.4,600.1L1578.4,594.9L1579.4,586.7L1580.4,575.9L1581.4,566.7L1582.4,559.0L1583.4,554.1L1584.4,550.5L1585.4,547.5L1586.4,545.0L1587.4,542.8L1588.4,540.5L1589.4,538.3L1590.4,535.8L1591.4,533.1L1592.4,530.2L1593.5,527.4L1594.5,524.9L1595.5,522.1L1596.5,519.4L1597.5,516.6L1598.5,514.1L1599.5,511.8L1600.5,509.9L1601.5,508.1L1602.5,507.0L1603.5,506.8L1604.5,508.8L1605.5,513.3L1606.5,519.0L1607.5,524.7L1608.5,530.9L1609.5,537.7L1610.5,544.3L1611.5,550.7L1612.5,557.3L1613.5,562.7L1614.5,566.5L1615.5,569.6L1616.5,571.9L1617.5,573.8L1618.5,575.3L1619.5,576.5L1620.5,577.4L1621.5,578.2L1622.5,579.1L1623.5,580.1L1624.6,581.8L1625.6,584.8L1626.6,588.6L1627.6,593.7L1628.6,601.7L1629.6,609.7L1630.6,615.9L1631.6,621.8L1632.6,627.8L1633.6,634.1L1634.6,640.7L1635.6,646.8L1636.6,651.4L1637.6,655.3L1638.6,658.7L1639.6,661.6L1640.6,663.8L1641.6,665.4L1642.6,666.9L1643.6,668.1L1644.6,669.0L1645.6,669.8L1646.6,670.3L1647.6,670.5L1648.6,670.6L1649.6,670.7L1650.6,670.8L1651.6,669.9L1652.7,667.5L1653.7,663.7L1654.7,658.6L1655.7,645.5L1656.8,629.3L1657.8,621.5L1658.8,624.6L1659.8,630.7L1660.7,634.7L1661.7,638.0L1662.7,640.7L1663.7,641.8L1664.7,630.1L1665.7,607.4L1666.7,586.1L1667.7,573.1L1668.7,562.3L1669.7,551.1L1670.7,540.6L1671.7,532.4L1672.6,526.2L1673.6,521.0L1674.6,516.6L1675.6,512.3L1676.6,507.9L1677.6,503.5L1678.6,499.4L1679.6,495.7L1680.6,492.5L1681.6,489.5L1682.6,486.8L1683.6,484.3L1684.6,481.9L1685.6,479.6L1686.6,477.4L1687.6,475.2L1688.6,473.2L1689.6,471.0L1690.6,468.8L1691.6,467.0L1692.6,465.1L1693.6,463.3L1694.6,461.4L1695.6,459.4L1696.6,457.3L1697.6,454.9L1698.6,452.2L1699.6,449.4L1700.6,447.0L1701.6,444.8L1702.6,442.7L1703.6,440.7L1704.6,438.9L1705.6,437.2L1706.5,435.8L1707.5,434.8L1708.5,434.6L1709.5,435.0L1710.5,435.8L1711.5,436.5L1712.5,437.3L1713.5,438.2L1714.5,439.4L1715.5,440.5L1716.5,441.0L1717.5,440.0L1718.5,435.9L1719.5,430.9L1720.5,424.5L1721.5,419.3L1722.5,416.3L1723.5,414.1L1724.5,412.1L1725.5,410.1L1726.5,408.3L1727.5,406.8L1728.5,405.7L1729.5,405.2L1730.5,404.9L1731.5,404.3L1732.5,403.9L1733.5,403.8L1734.5,403.7L1735.5,404.0L1736.5,404.2L1737.5,404.4L1738.5,404.5L1739.5,404.6L1740.5,404.7L1741.5,408.1L1742.5,414.0L1743.5,419.9L1744.6,426.5L1745.6,433.2L1746.6,440.5L1747.6,446.1L1748.6,448.9L1749.6,451.0L1750.6,452.7L1751.6,454.2L1752.6,455.7L1753.6,457.2L1754.6,458.6L1755.7,460.1L1756.7,462.1L1757.7,465.8L1758.7,471.1L1759.7,477.4L1760.7,484.9L1761.7,494.0L1762.7,504.1L1763.7,515.1L1764.7,526.6L1765.7,536.9L1766.8,543.8L1767.8,550.0L1768.8,554.8L1769.8,556.8L1770.8,554.9L1771.8,550.2L1772.8,543.7L1773.8,536.6L1774.8,526.0L1775.8,514.0L1776.8,501.4L1777.8,493.3L1778.8,489.2L1779.8,486.4L1780.8,484.6L1781.9,483.3L1782.9,482.8L1783.8,483.0L1784.8,483.9L1785.8,485.4L1786.8,489.5L1787.8,499.4L1788.7,509.7L1789.7,521.2L1790.7,533.3L1791.7,545.0L1792.7,550.8L1793.6,554.8L1794.6,556.5L1795.6,555.5L1796.6,552.7L1797.6,548.6L1798.6,541.5L1799.6,529.1L1800.6,513.7L1801.6,500.5L1802.6,492.3L1803.6,485.0L1804.6,478.4L1805.6,476.2L1806.6,475.4L1807.6,474.9L1808.6,474.6L1809.6,474.7L1810.6,474.8L1811.6,475.2L1812.6,476.0L1813.6,476.6L1814.6,476.5L1815.6,475.4L1816.6,473.9L1817.6,472.0L1818.6,470.1L1819.6,467.8L1820.6,464.7L1821.6,462.5L1822.6,460.6L1823.6,458.8L1824.6,457.0L1825.6,455.2L1826.6,453.4L1827.6,452.5L1828.6,452.3L1829.6,452.0L1830.6,451.0L1831.6,450.2L1832.6,449.8L1833.6,449.5L1834.6,449.6L1835.6,449.8L1836.6,449.7L1837.6,449.5L1838.6,449.4L1839.6,449.4L1840.6,449.5L1841.6,449.2L1842.6,448.2L1843.6,446.5L1844.6,445.0L1845.6,444.1L1846.6,444.3L1847.6,445.6L1848.6,447.1L1849.6,448.8L1850.6,450.2L1851.6,451.2L1852.6,451.6L1853.6,452.3L1854.6,454.1L1855.6,456.9L1856.6,459.2L1857.6,459.7L1858.7,458.9L1859.7,457.7L1860.7,456.1L1861.7,454.9L1862.7,454.1L1863.7,453.6L1864.7,453.4L1865.7,453.4L1866.7,454.0L1867.7,455.5L1868.7,457.2L1869.7,459.6L1870.7,463.5L1871.7,467.2L1872.7,469.4L1873.7,470.7L1874.7,471.1L1875.7,470.9L1876.7,470.5L1877.7,470.0L1878.7,469.0L1879.7,468.0L1880.7,467.6L1881.7,467.1L1882.7,467.1L1883.7,467.4L1884.7,467.2L1885.7,466.5L1886.7,466.0L1887.7,466.0L1888.7,466.1L1889.7,467.0L1890.7,468.2L1891.7,469.0L1892.7,469.8L1893.7,470.9L1894.7,472.0L1895.7,472.6L1896.7,473.0L1897.7,473.5L1898.7,474.7L1899.7,476.5L1900.7,480.6L1901.7,484.6L1902.7,486.9L1903.7,488.7L1904.7,488.9L1905.7,484.6L1906.7,480.2L1907.7,480.4L1908.7,481.6L1909.7,482.4L1910.7,483.5L1911.7,485.0L1912.7,486.4L1913.7,487.9L1914.7,489.7L1915.7,492.2L1916.7,495.3L1917.7,498.5L1918.7,502.2L1919.7,508.2L1920.7,516.6L1921.7,527.3L1922.7,540.7L1923.7,554.2L1924.7,566.1L1925.7,575.1L1926.7,579.7L1927.7,574.7L1928.8,565.4L1929.8,553.7L1930.8,540.9L1931.8,528.4L1932.8,518.3L1933.8,510.8L1934.9,504.7L1935.9,499.6L1936.9,495.4L1937.9,490.7L1938.9,483.8L1939.9,478.8L1941.0,476.4L1942.0,474.8L1943.0,473.5L1943.7,472.8L1944.7,472.0L1945.7,471.2L1946.7,470.4L1947.7,469.6L1948.7,468.9L1949.7,468.4L1950.7,468.2L1951.2,468.2L1952.7,469.1L1953.7,470.1L1954.7,471.5L1955.7,472.8L1956.7,474.1L1957.7,475.1L1958.7,475.7L1959.3,475.8L1960.7,471.0L1961.7,463.5L1962.7,455.3L1963.7,448.7L1964.7,446.4L1965.7,448.4L1966.7,453.2L1967.7,459.9L1968.7,467.9L1969.7,475.9L1970.7,482.8L1971.7,487.6L1972.7,489.5L1973.7,486.8L1974.7,479.9L1975.7,471.6L1976.7,465.0L1977.5,462.5L1978.7,462.3L1979.7,463.3L1980.7,465.4"/>
<path id="c-black" d="M119.7,69.9L120.7,69.9L121.7,70.4L122.7,70.2L123.7,69.7L124.7,69.7L125.7,70.0L126.7,70.3L127.7,70.4L128.7,70.4L129.7,70.4L130.7,70.4L131.7,70.0L132.7,69.5L133.7,69.4L134.7,69.3L135.7,69.3L136.7,69.2L137.7,69.2L138.7,69.2L139.7,69.2L140.7,69.2L141.7,69.3L142.7,69.8L143.7,70.3L144.7,70.2L145.7,69.7L146.7,69.7L147.7,70.0L148.7,70.1L149.7,69.9L150.7,69.7L151.7,69.7L152.7,69.8L153.7,70.0L154.7,70.3L155.7,70.0L156.7,69.4L157.7,69.3L158.7,69.5L159.7,69.6L160.7,69.4L161.7,69.2L162.7,69.5L163.7,69.8L164.7,69.6L165.7,69.4L166.7,69.5L167.7,69.7L168.7,69.9L169.7,69.9L170.7,69.9L171.7,69.6L172.7,69.4L173.7,69.7L174.7,69.9L175.7,69.9L176.7,69.9L177.7,69.8L178.7,69.6L179.7,69.4L180.7,69.4L181.7,69.4L182.7,69.4L183.7,69.4L184.7,69.4L185.7,69.4L186.7,69.2L187.7,69.0L188.7,69.0L189.7,69.0L190.7,69.0L191.7,69.0L192.7,69.1L193.7,69.5L194.7,69.9L195.7,69.4L196.7,68.9L197.7,69.2L198.7,69.5L199.7,69.4L200.7,69.1L201.7,69.0L202.7,68.9L203.7,69.0L204.7,69.4L205.7,69.8L206.7,69.6L207.7,69.4L208.7,69.7L209.7,70.1L210.7,69.9L211.7,69.4L212.7,69.1L213.7,69.1L214.7,69.1L215.7,69.5L216.7,69.8L217.7,69.5L218.7,69.2L219.7,69.5L220.7,69.8L221.7,69.9L222.7,69.9L223.7,69.8L224.7,69.5L225.7,69.3L226.7,69.1L227.7,69.0L228.7,68.9L229.7,68.8L230.7,68.9L231.7,69.1L232.7,69.1L233.7,68.9L234.7,69.1L235.7,69.5L236.7,69.8L237.7,69.5L238.7,69.3L239.7,69.4L240.7,69.5L241.7,69.6L242.7,69.7L243.7,69.6L244.7,69.3L245.7,69.3L246.7,69.5L247.7,69.7L248.7,69.8L249.7,69.9L250.7,69.6L251.4,69.4L252.7,69.6L253.7,69.9L254.7,69.7L255.7,69.3L256.7,69.1L257.7,69.1L258.7,69.1L259.7,69.2L260.7,69.3L261.7,70.0L262.7,70.7L263.7,70.8L264.7,70.7L265.7,70.6L266.7,70.4L267.7,70.5L268.7,70.9L269.7,71.2L270.7,71.6L271.7,71.9L272.7,72.0L273.7,72.1L274.7,71.8L275.7,71.4L276.7,71.4L277.7,71.6L278.7,71.8L279.7,71.9L280.7,72.2L281.7,72.5L282.7,72.9L283.7,73.2L284.7,73.5L285.7,73.3L286.7,73.2L287.7,73.4L288.7,73.8L289.7,74.0L290.7,74.1L291.7,74.3L292.7,74.7L293.7,75.0L294.7,74.6L295.7,74.2L296.7,74.2L297.7,74.2L298.7,74.3L299.7,74.4L300.7,74.6L301.9,74.9L302.7,75.1L303.7,75.2L304.7,75.3L305.7,75.5L306.7,75.6L307.7,75.8L308.7,76.0L309.7,75.8L310.7,75.3L311.7,75.2L312.7,75.4L313.7,75.6L314.7,76.0L315.7,76.4L316.7,76.0L317.7,75.6L318.7,75.4L319.7,75.3L320.7,75.7L321.7,76.3L322.7,76.5L323.7,76.4L324.7,76.4L325.7,76.6L326.7,76.8L327.7,76.6L328.7,76.4L329.7,76.6L330.7,76.8L331.7,76.7L332.7,76.6L333.7,76.3L334.7,76.0L335.7,75.9L336.7,76.3L337.7,76.7L338.7,76.6L339.7,76.5L340.7,76.2L341.7,75.8L342.7,76.1L343.7,76.6L344.7,76.7L345.7,76.2L346.7,76.0L347.7,76.3L348.7,76.5L349.7,76.7L350.7,76.8L351.7,76.8L352.4,76.9L353.7,77.0L354.7,77.1L355.7,76.8L356.7,76.3L357.7,75.9L358.7,76.0L359.7,76.0L360.7,76.1L361.7,76.2L362.7,76.2L363.7,76.2L364.7,76.4L365.7,76.6L366.7,76.8L367.7,77.0L368.7,77.1L369.7,76.9L370.7,76.7L371.7,76.8L372.7,76.8L373.7,76.4L374.7,76.0L375.7,76.0L376.7,76.2L377.7,76.2L378.7,76.0L379.7,75.9L380.7,76.0L381.7,76.1L382.7,76.5L383.7,77.0L384.7,76.7L385.7,76.3L386.7,76.1L387.7,76.1L388.7,76.2L389.7,76.7L390.7,76.9L391.7,76.6L392.7,76.4L393.7,76.6L394.7,76.8L395.3,76.7L396.7,76.8L397.7,77.7L398.7,79.0L399.7,80.1L400.7,81.0L401.6,81.9L402.7,83.2L403.7,84.4L404.7,85.7L405.7,87.0L406.7,88.0L407.7,89.0L408.7,90.1L409.7,91.1L410.4,91.9L411.7,93.2L412.7,94.0L413.7,94.5L414.7,95.0L415.7,95.7L416.7,96.4L417.7,97.0L418.7,97.6L419.7,97.9L420.7,98.1L421.7,98.5L423.1,99.4L423.7,99.9L424.7,100.7L425.7,101.5L426.7,102.1L427.7,102.6L428.7,103.4L429.7,104.2L430.7,104.9L431.7,105.5L432.7,106.1L433.7,106.6L434.7,107.0L435.7,107.2L436.7,107.4L437.7,108.1L438.7,108.8L439.7,109.2L440.7,109.5L441.7,109.6L442.7,109.5L443.7,109.7L444.7,110.1L445.7,110.5L446.7,110.7L447.7,110.9L448.3,111.3L449.7,112.2L450.7,112.7L451.7,113.3L452.7,113.8L453.7,114.3L454.7,114.8L455.7,115.3L456.7,115.7L457.7,115.8L458.7,116.0L459.7,116.5L460.7,116.9L461.7,117.6L462.7,118.3L463.7,118.7L464.7,118.9L465.7,119.0L466.7,118.9L467.7,118.8L468.5,118.9L469.7,119.0L470.7,119.0L471.7,118.9L472.7,118.6L473.7,118.3L474.7,118.0L475.7,117.6L476.7,117.4L477.7,117.1L478.7,116.9L479.7,116.8L480.7,116.7L481.7,116.2L482.7,115.8L483.7,115.2L484.7,114.5L485.7,114.2L486.7,114.0L487.7,113.4L488.7,112.7L489.7,112.1L490.7,112.0L491.2,112.0L492.7,111.6L493.7,111.2L494.7,110.4L495.7,109.5L496.7,109.0L497.7,108.8L498.7,108.4L499.7,107.9L500.7,107.3L501.7,106.4L502.7,105.6L503.7,105.1L504.7,104.6L505.7,103.9L506.7,103.2L507.7,102.7L508.7,102.4L509.7,101.9L510.7,101.3L511.7,100.6L512.7,99.7L513.7,98.7L514.7,98.1L515.7,97.4L516.7,96.8L517.7,96.2L518.7,95.7L519.7,95.2L520.7,94.7L521.7,94.2L522.7,93.7L523.7,93.0L524.7,92.4L525.7,92.2L526.7,92.1L527.7,91.5L529.1,90.7L529.7,90.4L530.7,89.9L531.7,89.6L532.7,89.4L533.7,89.1L534.7,88.5L535.7,88.0L536.7,87.9L537.7,87.8L538.7,87.4L539.7,86.9L540.7,86.5L541.7,86.0L542.7,85.5L543.7,85.0L544.7,84.7L545.7,84.6L546.7,84.6L547.7,84.0L548.7,83.5L549.7,83.6L550.7,83.8L551.7,83.6L552.7,83.2L553.7,83.1L554.3,83.3L555.7,83.6L556.7,83.6L557.7,83.6L558.7,84.0L559.7,84.4L560.7,84.6L561.7,84.7L562.7,84.9L563.7,85.2L564.7,85.5L565.7,85.6L566.7,85.8L567.7,86.1L568.7,86.4L569.7,86.8L570.7,87.1L571.7,87.1L572.7,87.0L573.7,87.1L574.7,87.2L575.7,87.0L576.7,86.5L577.7,86.1L578.7,85.8L579.7,85.3L580.7,84.6L581.7,83.9L582.7,83.4L583.7,82.9L584.7,82.5L585.7,82.1L586.7,81.6L587.7,81.1L588.7,80.8L589.7,80.9L590.7,81.0L591.6,80.8L592.7,80.7L593.7,80.8L594.7,80.9L595.7,81.4L596.7,82.2L597.7,82.8L598.7,83.1L599.7,83.6L600.7,84.2L601.7,84.8L602.7,85.6L603.7,86.5L604.7,87.0L605.7,87.4L606.7,88.2L607.7,89.1L608.7,89.5L609.7,89.5L610.7,89.7L611.7,90.2L613.1,90.6L613.7,90.6L614.7,90.6L615.7,90.4L616.7,90.1L617.7,89.7L618.7,89.1L619.7,88.5L620.7,88.0L621.7,87.5L622.7,87.2L623.7,86.9L624.7,86.4L625.7,86.0L626.7,85.4L627.7,84.8L628.7,84.5L629.7,84.3L630.8,84.3L631.7,84.4L632.7,84.9L633.7,85.8L634.7,86.9L635.7,87.9L636.7,89.0L637.7,90.0L638.7,90.9L639.7,92.4L640.7,94.2L642.1,96.2L642.7,96.8L643.7,98.1L644.7,99.5L645.7,101.1L646.7,103.2L647.7,105.4L648.7,107.8L649.7,110.3L651.0,113.7L651.7,116.4L652.7,121.8L653.7,128.5L654.7,135.7L655.7,142.6L656.7,148.5L657.3,151.2L658.7,156.8L659.7,159.7L660.7,162.1L661.7,164.7L662.7,167.4L663.7,169.9L664.7,172.3L666.1,176.6L666.7,178.9L667.7,183.4L668.7,188.1L669.7,193.1L670.7,198.0L671.7,202.5L672.7,206.5L673.7,209.4L674.9,210.7L675.7,210.2L676.7,208.6L677.7,206.2L678.7,203.3L679.7,199.8L680.7,196.2L682.0,192.0L682.7,189.7L683.7,185.8L684.7,181.5L685.7,176.7L686.7,171.9L687.7,167.2L688.7,163.2L690.1,158.9L690.7,157.4L691.7,154.9L692.7,152.1L693.7,149.4L694.7,146.8L695.7,144.5L696.7,142.9L697.7,141.9L698.9,141.6L699.7,142.1L700.7,143.7L701.7,146.1L702.7,149.0L703.7,151.9L704.7,154.7L705.2,156.2L706.7,161.8L707.7,166.2L708.7,170.5L709.7,174.6L710.7,177.8L711.7,180.1L712.8,181.4L713.7,180.6L714.7,177.4L715.7,172.6L716.7,167.0L717.7,160.7L719.1,151.7L719.7,147.2L720.7,137.2L721.7,126.6L722.9,118.3L723.7,115.6L724.7,112.8L725.7,110.2L726.7,108.0L727.7,106.1L728.7,104.5L729.7,103.2L730.7,102.2L731.7,101.1L732.7,99.9L733.7,98.8L734.7,97.8L735.7,96.9L736.7,95.6L737.7,94.3L738.7,93.5L739.7,92.9L740.7,92.2L741.7,91.2L742.7,90.4L743.7,89.9L744.7,89.5L745.7,88.7L746.9,87.9L747.7,88.0L748.7,88.0L749.7,87.6L750.7,87.0L751.7,86.5L752.7,86.2L753.7,86.1L754.7,86.1L755.7,86.1L756.7,85.9L757.7,85.7L758.7,85.5L759.7,85.3L760.7,85.1L761.7,84.8L762.7,84.5L763.7,84.1L764.7,83.8L765.7,83.5L766.7,83.2L767.7,83.5L768.7,83.7L769.7,83.6L770.7,83.4L771.7,83.0L772.7,82.5L773.7,82.2L774.7,82.1L775.7,82.1L777.2,82.2L777.7,82.2L778.7,81.8L779.7,81.4L780.7,81.2L781.7,81.0L782.7,81.0L783.7,81.2L784.7,81.1L785.7,80.7L786.7,80.3L787.7,80.1L788.7,80.0L789.7,79.8L790.7,79.6L791.7,79.4L792.7,79.2L793.7,79.1L794.7,79.1L795.7,79.0L796.7,78.7L797.7,78.5L798.7,78.7L799.7,78.8L800.7,78.5L801.7,78.2L802.7,78.2L803.7,78.2L804.7,78.2L805.7,78.2L806.7,78.1L807.7,77.8L808.7,77.7L809.7,77.7L810.7,77.8L811.7,77.7L812.7,77.6L813.7,77.4L815.0,77.1L815.7,77.1L816.7,77.1L817.7,77.0L818.7,77.0L819.7,76.9L820.7,76.5L821.7,76.2L822.7,76.2L823.7,76.2L824.7,76.4L825.7,76.5L826.7,76.3L827.7,75.9L828.7,75.7L829.7,75.9L830.7,76.0L831.7,75.7L832.7,75.5L833.7,75.5L834.7,75.5L835.7,75.4L836.7,75.3L837.7,75.4L838.7,75.5L839.7,75.6L840.7,75.7L841.7,75.7L842.7,75.7L843.7,75.6L844.7,75.2L845.7,74.8L846.7,75.1L847.7,75.3L848.7,75.4L849.7,75.3L850.7,75.2L851.7,75.2L852.7,75.1L853.7,75.1L854.7,75.0L855.7,74.7L856.7,74.4L857.7,74.4L858.7,74.3L859.7,74.3L860.7,74.4L861.7,74.3L862.7,74.1L863.7,74.0L864.7,74.2L865.7,74.3L866.7,74.3L867.7,74.4L868.7,74.1L869.7,73.8L870.7,73.7L871.7,73.6L872.7,73.7L873.7,74.0L874.7,74.2L875.7,74.0L876.7,73.8L878.1,73.5L878.7,73.4L879.7,73.6L880.7,73.8L881.7,73.7L882.7,73.6L883.7,73.4L884.7,73.3L885.7,73.2L886.7,73.0L887.7,72.8L888.7,72.8L889.7,72.8L890.7,72.7L891.7,72.7L892.7,72.8L893.7,73.0L894.7,72.9L895.7,72.6L896.7,72.4L897.7,72.4L898.7,72.4L899.7,72.6L900.7,72.8L901.7,72.8L902.7,72.7L903.7,72.5L904.7,72.1L905.7,72.0L906.7,72.2L907.7,72.3L908.7,72.3L909.7,72.3L910.7,72.1L911.7,71.9L912.7,71.9L913.7,71.9L914.7,71.8L915.7,71.7L916.7,71.6L917.7,71.4L918.7,71.3L919.7,71.4L920.7,71.5L921.7,71.6L922.7,71.8L923.7,71.8L924.7,71.7L925.7,71.5L926.7,71.3L927.7,71.3L928.6,71.5L929.7,71.6L930.7,71.4L931.7,71.3L932.7,71.2L933.7,71.1L934.7,71.4L935.7,71.7L936.7,71.9L937.7,71.9L938.7,71.8L939.7,71.5L940.7,71.4L941.7,71.8L942.7,72.2L943.7,72.0L944.7,71.7L945.7,72.0L946.7,72.3L947.7,72.4L948.7,72.4L949.7,72.5L950.7,72.6L951.7,72.7L952.7,72.5L953.8,72.4L954.7,73.0L955.7,74.5L956.7,76.2L957.7,78.3L958.7,80.8L959.7,83.5L960.7,86.2L961.4,88.1L962.7,92.7L963.7,97.7L964.7,102.8L965.7,107.0L966.7,110.0L967.7,111.3L968.7,110.1L969.7,106.9L970.7,102.6L971.7,98.1L972.7,94.1L974.0,92.0L974.7,92.6L975.7,94.5L976.7,96.4L977.7,98.2L979.1,99.5L979.7,99.4L980.7,99.0L981.7,98.2L982.7,97.3L983.7,96.4L984.7,95.2L985.7,93.6L986.7,92.1L987.7,90.9L988.7,89.9L989.7,88.9L990.7,88.2L991.7,87.9L992.7,88.1L993.7,88.7L994.7,89.4L995.7,90.4L996.7,91.7L997.7,93.1L998.7,94.7L999.7,96.2L1000.7,97.2L1001.8,98.1L1002.7,99.3L1003.7,100.9L1004.7,102.4L1005.7,103.5L1006.7,104.8L1007.7,106.3L1008.7,107.6L1009.7,109.1L1010.7,110.3L1011.7,110.7L1013.1,110.6L1013.7,110.6L1014.7,110.2L1015.7,109.8L1016.7,109.3L1017.7,108.3L1018.7,106.8L1019.7,105.3L1020.7,104.0L1021.7,102.8L1022.7,101.0L1023.7,99.2L1024.5,98.1L1025.7,96.7L1026.7,95.3L1027.8,93.6L1028.7,92.0L1029.7,89.8L1030.7,85.5L1031.7,84.2L1032.7,82.9L1033.7,80.8L1034.7,78.7L1035.7,77.9L1036.7,77.8L1037.9,77.4L1038.7,77.0L1039.7,76.4L1040.7,75.6L1041.7,74.7L1042.7,71.9L1043.7,69.1L1044.7,68.3L1045.7,66.0L1046.7,65.4L1047.7,64.8L1048.7,66.0L1049.7,69.1L1050.7,70.9L1051.7,69.8L1053.0,67.6L1053.7,65.5L1054.7,62.3L1055.7,64.2L1056.7,66.6L1057.7,66.5L1058.7,65.4L1059.7,64.0L1060.7,62.5L1061.7,62.0L1062.7,64.0L1063.7,65.9L1064.7,66.3L1065.6,66.7L1066.7,63.8L1067.7,61.1L1068.7,61.7L1069.7,63.8L1070.7,66.3L1071.7,68.9L1072.7,72.4L1073.7,77.5L1074.7,81.9L1075.7,81.3L1076.7,80.3L1077.7,82.2L1078.2,83.1L1079.7,84.5L1080.7,84.7L1081.7,82.1L1082.7,77.0L1083.7,72.9L1084.7,71.7L1085.7,70.6L1086.7,69.3L1087.7,68.4L1088.3,69.2L1089.7,71.5L1090.7,72.0L1091.7,72.0L1092.7,71.8L1093.7,71.4L1094.7,70.9L1095.7,70.2L1096.7,69.8L1097.7,71.2L1098.7,72.6L1099.7,71.6L1100.7,70.4L1101.7,68.2L1102.7,65.6L1103.7,64.3L1104.7,64.1L1105.7,64.6L1106.7,66.8L1107.7,68.6L1108.7,66.6L1109.7,64.5L1110.7,64.1L1111.7,64.0L1112.7,64.3L1113.6,64.8L1114.7,65.7L1115.7,66.8L1116.7,69.1L1117.7,73.4L1118.7,77.1L1119.7,74.8L1121.2,73.0L1121.7,74.8L1122.7,76.8L1123.7,74.1L1124.7,69.5L1125.7,64.5L1126.7,59.9L1127.5,57.6L1128.7,59.0L1129.7,60.8L1130.7,61.5L1131.7,62.7L1132.7,65.9L1133.7,69.3L1134.7,73.6L1135.7,78.0L1136.7,80.4L1137.6,80.5L1138.7,78.3L1139.7,72.6L1140.7,66.7L1141.7,64.4L1142.7,62.8L1143.9,63.0L1144.7,65.3L1145.7,69.5L1146.7,74.3L1147.7,78.8L1148.9,81.5L1149.7,81.4L1150.7,80.2L1151.7,78.0L1152.7,74.6L1153.7,71.1L1154.7,67.8L1155.7,65.3L1156.5,63.5L1157.7,62.4L1158.7,64.2L1159.7,67.7L1160.7,72.3L1161.7,78.9L1162.8,83.2L1163.7,81.2L1164.7,77.7L1165.7,75.7L1166.7,73.4L1167.7,68.5L1168.7,62.7L1169.7,58.2L1170.7,55.2L1171.6,54.0L1172.7,55.3L1173.7,57.7L1174.7,60.3L1175.7,63.2L1176.7,67.8L1177.7,72.1L1178.7,72.4L1179.2,71.4L1180.7,69.3L1181.7,69.8L1182.7,70.3L1183.7,71.3L1184.7,71.9L1185.7,68.8L1186.7,65.8L1187.7,67.3L1188.7,69.4L1189.3,70.1L1190.7,70.3L1191.7,69.5L1192.7,67.7L1193.7,67.0L1194.7,68.8L1195.7,70.0L1196.7,70.7L1197.7,71.3L1198.7,70.9L1199.7,70.2L1200.7,70.0L1201.9,69.9L1202.7,70.2L1203.7,71.0L1204.7,71.3L1205.7,70.8L1206.7,70.4L1207.7,71.2L1208.7,72.0L1209.7,70.1L1210.7,67.9L1211.7,68.2L1212.7,69.6L1213.7,70.0L1214.7,69.7L1215.7,68.9L1216.7,66.9L1217.7,65.2L1218.7,64.9L1219.6,64.7L1220.7,65.8L1221.7,67.1L1222.7,67.2L1223.7,66.8L1224.7,66.7L1225.7,66.8L1226.7,66.7L1227.7,66.2L1228.7,65.9L1229.7,66.0L1230.7,66.1L1231.7,65.8L1232.7,65.5L1233.7,66.6L1234.7,68.4L1235.7,68.4L1236.7,66.6L1237.7,65.4L1238.7,65.4L1239.8,65.6L1240.7,66.5L1241.7,67.5L1242.7,67.1L1243.7,66.7L1244.7,66.9L1245.7,67.4L1246.7,68.1L1247.7,69.0L1248.7,69.9L1249.7,71.0L1250.7,71.9L1251.7,72.3L1252.4,72.5L1253.7,71.5L1254.7,70.3L1255.7,70.7L1256.7,71.8L1257.7,71.8L1258.7,70.7L1259.7,70.4L1260.7,72.0L1261.7,73.3L1262.7,71.3L1263.7,69.3L1265.0,69.0L1265.7,68.9L1266.7,68.5L1267.7,67.8L1268.7,67.6L1269.7,68.0L1270.7,67.3L1271.7,64.3L1272.7,63.7L1273.9,63.4L1274.7,63.5L1275.7,64.0L1276.8,64.8L1277.7,67.8L1278.6,73.7L1279.7,84.2L1280.2,89.9L1281.6,106.1L1282.6,120.1L1283.7,131.3L1285.0,144.7L1285.7,154.5L1286.7,172.9L1287.9,197.2L1288.7,213.2L1290.0,240.2L1290.7,253.3L1291.7,271.0L1292.2,279.2L1293.7,298.9L1294.7,310.5L1295.5,318.5L1296.7,329.2L1297.7,337.3L1298.8,344.8L1299.7,350.2L1300.7,355.2L1301.4,357.8L1302.7,362.2L1303.7,365.2L1304.7,367.4L1306.0,368.5L1306.7,368.0L1307.7,365.7L1308.7,362.3L1309.9,357.4L1310.7,353.0L1311.9,344.4L1312.7,337.0L1313.7,326.8L1314.5,318.2L1315.7,302.7L1316.7,288.6L1317.3,279.0L1318.7,255.4L1319.7,240.0L1320.7,229.3L1321.7,220.3L1322.7,212.2L1323.7,204.1L1324.5,196.8L1325.7,184.7L1327.2,170.7L1327.7,166.6L1328.7,159.6L1329.7,153.4L1330.7,148.2L1331.5,144.7L1332.7,139.8L1333.7,136.1L1334.7,133.1L1335.4,131.4L1336.7,128.2L1337.7,125.8L1338.7,123.5L1339.7,121.3L1340.7,119.3L1341.7,117.7L1342.7,116.6L1343.7,115.7L1344.5,115.4L1345.7,116.2L1346.7,118.4L1347.7,121.6L1348.7,125.9L1349.8,131.5L1350.7,142.2L1351.7,157.8L1352.7,168.4L1353.7,178.3L1354.4,184.0L1355.3,190.5L1356.7,198.7L1357.6,203.5L1358.7,209.2L1359.7,214.3L1360.9,219.1L1361.7,221.8L1362.7,224.8L1364.2,227.0L1364.7,226.4L1365.7,222.5L1366.7,216.0L1367.4,210.1L1368.4,196.9L1369.4,170.6L1370.7,144.7L1371.7,129.0L1372.7,118.5L1373.7,113.0L1374.7,108.3L1375.7,104.5L1376.7,101.6L1377.7,99.7L1378.7,98.6L1379.2,98.3L1380.7,101.0L1381.7,105.8L1382.7,112.6L1383.7,120.7L1384.8,131.3L1385.7,146.7L1386.8,170.6L1387.7,184.0L1388.6,196.7L1389.7,211.9L1390.7,226.2L1391.6,240.0L1392.7,256.5L1393.7,272.5L1394.9,292.2L1395.7,305.6L1396.7,323.0L1397.9,344.5L1398.7,359.1L1399.7,378.1L1400.8,396.8L1401.7,409.7L1402.7,423.2L1403.7,438.1L1404.4,444.4L1405.7,438.8L1406.7,429.5L1407.3,423.2L1408.7,407.2L1409.4,397.1L1410.7,374.6L1411.7,355.1L1412.3,344.5L1413.7,322.6L1414.7,308.2L1415.8,292.3L1416.7,280.1L1417.7,266.6L1418.7,253.7L1419.8,240.2L1421.1,223.3L1421.7,218.1L1423.0,210.2L1423.7,206.9L1424.7,202.2L1425.7,198.4L1426.9,196.3L1427.7,197.8L1428.7,202.8L1429.7,209.5L1430.7,215.9L1432.2,220.5L1432.7,220.2L1433.7,218.1L1434.7,214.8L1436.1,209.8L1436.7,207.5L1438.1,202.0L1438.7,200.0L1439.7,197.3L1440.7,195.5L1441.7,194.7L1442.7,194.3L1443.9,193.6L1444.7,191.9L1445.9,187.7L1446.7,184.8L1447.9,181.1L1448.7,179.6L1449.7,178.1L1450.7,177.1L1451.8,176.7L1452.7,178.4L1453.7,184.0L1455.1,196.8L1455.7,216.4L1456.4,236.0L1457.3,239.7L1458.5,279.0L1459.4,314.8L1460.8,279.0L1461.7,260.4L1462.8,239.9L1463.7,221.3L1464.5,210.2L1465.7,203.0L1466.4,201.1L1467.7,200.0L1468.7,199.4L1470.1,198.9L1470.7,198.8L1471.7,198.8L1472.7,198.8L1473.7,199.0L1474.7,199.1L1475.7,199.2L1476.7,199.1L1477.7,199.0L1478.7,198.9L1479.3,198.8L1480.6,183.9L1481.7,174.9L1482.5,170.9L1483.7,168.7L1484.7,167.6L1485.8,166.6L1486.7,165.7L1487.7,164.8L1488.7,163.9L1489.7,163.4L1491.0,163.1L1491.7,163.5L1492.7,165.1L1493.7,167.3L1495.0,170.5L1495.7,172.5L1496.7,175.4L1497.7,178.8L1498.7,182.8L1500.2,190.5L1500.7,194.5L1502.1,210.3L1502.7,216.1L1503.7,226.9L1505.0,240.0L1505.7,245.6L1506.7,253.1L1507.7,260.1L1508.7,267.2L1510.1,279.1L1510.7,286.5L1511.7,303.1L1512.7,316.6L1513.3,319.0L1514.7,314.7L1515.7,308.4L1516.7,300.7L1517.8,291.5L1518.7,284.2L1519.7,274.5L1520.7,265.2L1521.7,257.2L1522.7,249.1L1523.7,241.5L1525.2,232.5L1525.7,229.8L1526.7,225.0L1527.7,220.9L1528.7,217.8L1529.6,216.7L1530.7,218.4L1531.7,222.5L1532.7,228.1L1533.7,233.9L1534.8,239.3L1535.7,241.9L1536.7,244.6L1537.7,247.0L1538.7,249.4L1539.7,251.9L1540.7,254.8L1541.7,258.1L1542.7,262.1L1543.7,268.6L1544.7,277.6L1545.6,285.2L1546.7,293.9L1547.7,301.6L1548.8,311.3L1549.7,319.2L1550.7,328.6L1551.6,337.2L1552.7,347.7L1553.7,357.6L1554.2,363.2L1556.2,389.6L1556.7,396.7L1557.7,409.8L1558.4,415.7L1559.7,422.3L1560.7,426.6L1561.7,430.1L1562.7,432.7L1563.7,434.1L1564.3,434.3L1565.7,432.2L1566.7,428.9L1567.7,424.5L1568.7,419.8L1569.5,415.9L1570.7,407.8L1571.7,399.0L1572.8,389.7L1573.7,381.6L1574.7,372.6L1575.4,367.3L1576.7,360.3L1577.7,355.8L1578.7,350.2L1579.7,340.5L1580.6,331.0L1581.7,321.3L1582.6,315.1L1583.7,310.1L1584.7,306.5L1585.9,303.1L1586.7,300.9L1587.7,298.6L1588.7,296.4L1589.8,294.0L1590.7,291.7L1591.7,289.0L1592.7,286.2L1593.7,283.6L1594.7,281.1L1595.7,278.4L1596.7,275.6L1597.7,272.8L1598.7,270.2L1599.7,267.9L1600.7,266.0L1601.7,264.6L1602.7,263.8L1603.5,263.6L1604.7,266.1L1605.7,270.9L1606.7,276.7L1607.4,280.9L1608.7,288.5L1609.7,295.3L1610.7,301.9L1611.7,308.5L1612.7,315.3L1614.0,321.8L1614.7,323.9L1615.7,326.4L1616.7,328.8L1617.7,330.9L1618.6,332.2L1619.7,333.4L1620.7,334.3L1621.7,335.1L1622.7,336.1L1623.8,337.5L1624.7,339.4L1625.7,342.3L1627.1,347.6L1627.7,351.4L1628.7,359.5L1629.7,367.3L1630.7,374.0L1631.7,380.0L1632.9,387.3L1633.7,392.1L1634.7,398.6L1635.7,404.5L1636.2,406.9L1637.7,412.7L1638.7,416.0L1639.7,418.7L1640.8,420.9L1641.7,422.3L1642.7,423.7L1643.7,425.0L1644.7,426.1L1646.0,427.1L1646.7,427.5L1647.7,427.8L1648.7,428.0L1649.7,428.1L1650.6,428.1L1651.7,426.9L1652.7,424.1L1653.7,420.0L1654.5,416.0L1655.7,401.2L1656.7,383.8L1657.8,374.1L1658.7,377.4L1659.7,385.0L1660.4,389.5L1661.7,395.6L1662.7,399.4L1663.7,400.8L1665.0,383.2L1665.7,364.9L1666.3,350.3L1667.7,330.9L1668.9,317.7L1669.7,308.7L1670.7,298.2L1671.5,291.3L1672.7,284.0L1673.7,278.7L1674.7,274.0L1676.1,268.0L1676.7,265.4L1677.7,261.3L1678.7,257.2L1680.0,252.5L1680.7,250.4L1681.7,247.5L1682.7,244.8L1683.7,242.2L1684.7,239.6L1685.9,236.5L1686.7,234.7L1687.7,232.8L1688.7,230.9L1690.0,228.0L1690.7,226.4L1691.7,224.4L1692.7,222.5L1693.7,220.6L1694.7,218.6L1695.7,216.7L1696.5,215.0L1697.7,212.4L1698.7,209.8L1699.7,207.1L1700.7,204.3L1701.7,201.9L1702.4,200.4L1703.7,198.0L1704.7,196.2L1705.7,194.6L1706.7,193.4L1707.7,192.9L1708.3,192.8L1709.7,193.0L1710.7,193.5L1711.7,194.3L1712.9,195.3L1713.7,196.0L1714.7,197.1L1715.7,198.2L1716.8,198.7L1717.7,197.0L1718.7,192.4L1719.4,188.8L1720.7,180.6L1721.4,176.9L1722.7,173.0L1723.7,170.8L1724.7,169.2L1725.7,167.5L1726.7,165.8L1727.7,164.3L1728.7,163.1L1729.2,162.7L1730.7,162.1L1731.7,162.0L1732.7,161.9L1733.7,161.8L1734.5,161.7L1735.7,161.5L1736.7,161.3L1737.7,161.4L1738.7,161.5L1739.7,161.9L1740.4,162.2L1741.7,166.5L1743.0,173.0L1743.7,176.9L1744.7,183.2L1745.6,188.7L1746.7,196.2L1747.5,200.4L1748.7,203.6L1749.7,205.6L1750.7,207.2L1751.5,208.5L1752.7,210.3L1753.7,211.4L1754.7,212.6L1755.7,214.2L1756.7,216.3L1757.7,219.6L1758.7,224.4L1760.0,231.8L1760.7,237.0L1761.9,247.7L1762.7,255.2L1763.9,267.5L1764.7,276.1L1765.9,286.8L1766.7,292.2L1767.7,298.0L1768.7,302.6L1769.8,304.7L1770.7,303.2L1771.7,299.1L1772.7,293.4L1773.7,287.0L1774.7,278.0L1775.7,267.5L1776.7,255.8L1777.6,247.7L1778.7,243.3L1779.7,240.6L1780.2,239.6L1781.7,237.8L1782.9,237.1L1783.7,237.4L1784.7,238.4L1786.1,241.2L1786.7,244.6L1788.1,261.0L1788.7,268.6L1790.1,287.1L1790.7,296.6L1792.0,313.0L1792.7,317.3L1793.7,322.1L1794.6,324.0L1795.7,322.7L1796.7,319.3L1797.9,313.2L1798.7,305.2L1799.9,287.1L1801.2,261.0L1801.7,254.2L1803.1,240.7L1803.7,236.0L1805.1,227.7L1805.7,226.9L1806.7,225.9L1807.7,225.0L1809.0,224.1L1809.7,224.2L1810.7,224.9L1811.7,226.0L1812.7,226.5L1813.7,226.8L1814.2,227.1L1815.7,226.7L1816.7,225.0L1817.7,222.4L1818.8,219.2L1819.7,215.4L1820.8,210.7L1821.7,208.5L1822.7,206.5L1823.7,204.7L1824.7,202.9L1825.7,201.5L1826.7,200.1L1827.7,198.1L1828.6,196.5L1829.7,195.8L1830.7,195.9L1831.7,195.7L1832.7,194.8L1833.9,194.2L1834.7,194.7L1835.7,195.3L1836.7,194.9L1837.7,194.3L1838.7,194.2L1839.7,194.2L1840.4,194.2L1841.7,193.2L1842.7,191.3L1843.7,188.9L1844.7,186.9L1845.6,186.5L1846.7,187.5L1847.7,189.1L1848.7,191.0L1849.6,192.7L1850.7,194.5L1851.7,195.3L1852.7,195.5L1853.7,196.1L1854.8,197.5L1855.7,200.0L1856.7,203.5L1857.4,204.8L1858.7,203.9L1859.7,202.1L1860.7,200.2L1861.3,199.3L1862.7,198.0L1863.7,197.6L1864.6,197.5L1865.7,198.1L1866.7,199.4L1867.7,201.1L1869.2,203.8L1869.7,204.8L1870.7,207.9L1871.7,211.4L1872.4,213.2L1873.7,215.0L1874.4,215.7L1875.7,215.8L1876.7,215.0L1877.7,214.2L1878.7,214.1L1879.6,214.0L1880.7,213.4L1881.7,212.7L1882.7,212.4L1883.7,212.2L1884.7,212.2L1885.7,212.3L1886.7,212.3L1888.1,212.3L1888.7,212.4L1889.7,212.8L1890.7,213.6L1891.7,214.7L1892.7,215.9L1894.0,216.6L1894.7,216.6L1895.7,217.3L1896.7,218.6L1897.7,219.8L1898.7,220.5L1899.3,221.1L1900.7,227.0L1901.9,232.3L1902.7,234.5L1903.7,236.6L1904.5,237.1L1905.7,232.3L1907.1,226.1L1907.7,226.0L1908.7,226.8L1909.7,228.8L1910.7,231.1L1911.7,233.0L1912.3,234.2L1913.7,235.9L1914.7,237.1L1915.7,239.2L1916.3,240.7L1917.7,245.3L1918.9,250.7L1919.7,256.7L1920.8,268.1L1921.7,278.8L1922.8,293.8L1923.7,306.2L1924.8,319.7L1925.7,329.2L1926.7,334.6L1927.7,329.3L1928.7,319.3L1929.7,306.6L1930.6,293.1L1931.7,278.4L1932.6,267.4L1933.7,258.2L1934.7,251.4L1935.2,248.1L1936.7,240.6L1937.8,234.9L1938.7,228.7L1939.8,221.9L1940.7,219.5L1941.7,217.6L1942.7,215.6L1943.7,213.2L1944.7,210.4L1945.7,206.7L1946.7,202.7L1947.7,198.5L1948.7,194.3L1949.7,190.6L1950.7,187.7L1951.7,185.8L1952.3,185.4L1953.7,202.5L1955.0,217.7L1955.7,213.4L1956.7,198.9L1957.7,185.7L1958.2,183.3L1959.7,199.2L1960.7,214.4L1961.4,219.2L1962.7,207.0L1963.7,190.7L1964.7,182.7L1965.7,191.3L1966.7,207.8L1967.9,219.1L1968.7,212.9L1969.7,196.5L1971.1,181.5L1971.7,184.8L1972.7,199.4L1973.7,214.3L1974.3,217.8L1975.7,199.9L1976.7,181.9L1977.3,177.8L1978.7,195.4L1979.7,212.2L1980.2,215.5"/>
</defs>
<g clip-path="url(#plot)" fill="none" stroke-width="11.6" stroke-linecap="butt">
<use href="#c-mag" stroke="#ff00ff" stroke-linejoin="round"/><use href="#c-mag" stroke="#ff00ff" stroke-linejoin="bevel"/>
<use href="#c-teal" stroke="#008080" stroke-linejoin="round"/><use href="#c-teal" stroke="#008080" stroke-linejoin="bevel"/>
<use href="#c-blue" stroke="#0000ff" stroke-linejoin="round"/><use href="#c-blue" stroke="#0000ff" stroke-linejoin="bevel"/>
<use href="#c-red" stroke="#ff0000" stroke-linejoin="round"/><use href="#c-red" stroke="#ff0000" stroke-linejoin="bevel"/>
<use href="#c-black" stroke="#000000" stroke-linejoin="round"/><use href="#c-black" stroke="#000000" stroke-linejoin="bevel"/>
</g>
<rect x="125.35" y="29.65" width="1854.40" height="11.00" fill="#000"/>
<rect x="1977.75" y="38.65" width="11.00" height="1608.90" fill="#000"/>
<text transform="translate(118.5,1757.3) scale(1,1.0)" font-size="70.2" text-anchor="middle" >4000</text>
<text transform="translate(377.3,1757.3) scale(1,1.0)" font-size="70.2" text-anchor="middle" >3500</text>
<text transform="translate(636.1,1757.3) scale(1,1.0)" font-size="70.2" text-anchor="middle" >3000</text>
<text transform="translate(894.9,1757.3) scale(1,1.0)" font-size="70.2" text-anchor="middle" >2500</text>
<text transform="translate(1153.7,1757.3) scale(1,1.0)" font-size="70.2" text-anchor="middle" >2000</text>
<text transform="translate(1412.5,1757.3) scale(1,1.0)" font-size="70.2" text-anchor="middle" >1500</text>
<text transform="translate(1671.3,1757.3) scale(1,1.0)" font-size="70.2" text-anchor="middle" >1000</text>
<text transform="translate(1930.1,1757.3) scale(1,1.0)" font-size="70.2" text-anchor="middle" >500</text>
<text x="726.0" y="1856.1" font-size="71.0">Wavenumber (cm<tspan font-size="43.0" dx="0.5" dy="-40.2">-1</tspan><tspan dx="-1.0" dy="40.2">)</tspan></text>
<text transform="translate(138.5,175.9) scale(1,0.97)" font-size="57.1" text-anchor="start" >BioPUMWCNTs00</text>
<text transform="translate(141.5,408.4) scale(1,0.97)" font-size="57.1" text-anchor="start" >BioPUMWCNTs01</text>
<text transform="translate(139.5,665.8) scale(1,0.97)" font-size="57.1" text-anchor="start" >BioPUMWCNTs05</text>
<text transform="translate(142.0,882.1) scale(1,0.97)" font-size="57.1" text-anchor="start" >BioPUMWCNTs10</text>
<text transform="translate(142.0,1115.8) scale(1,0.97)" font-size="57.1" text-anchor="start" >BioPUMWCNTs20</text>
<text transform="translate(468.5,1253.3) scale(1,1.0)" font-size="60.3" text-anchor="middle" >3310</text>
<text transform="translate(1265.5,1457.8) scale(1,1.0)" font-size="60.3" text-anchor="middle" >1710</text>
<text transform="translate(1481.6,1485.4) scale(1,1.0)" font-size="60.3" text-anchor="middle" >1398</text>
<text transform="translate(1314.1,1537.5) scale(1,1.0)" font-size="60.3" text-anchor="middle" >1633</text>
<text transform="translate(1401.8,1636.3) scale(1,1.0)" font-size="60.3" text-anchor="middle" >1514</text>
<line x1="473.4" y1="1065.5" x2="473.4" y2="1163.1" stroke="#000" stroke-width="4.4"/><path d="M473.4,1191.6 Q466.8,1171.8 457.7,1153.6 Q466.3,1156.2 473.4,1161.1 Q480.5,1156.2 489.1,1153.6 Q480.0,1171.8 473.4,1191.6 Z" fill="#000"/>
<line x1="1365.5" y1="1253.4" x2="1365.5" y2="1423.7" stroke="#000" stroke-width="4.6"/><path d="M1365.5,1479.4 Q1358.7,1442.9 1349.4,1409.2 Q1358.3,1413.6 1365.5,1421.7 Q1372.7,1413.6 1381.6,1409.2 Q1372.3,1442.9 1365.5,1479.4 Z" fill="#000"/>
<line x1="1461.5" y1="1357.6" x2="1461.5" y2="1416.2" stroke="#000" stroke-width="4.4"/><path d="M1461.5,1432.6 Q1454.8,1420.4 1445.6,1409.2 Q1454.3,1410.9 1461.5,1414.2 Q1468.7,1410.9 1477.4,1409.2 Q1468.2,1420.4 1461.5,1432.6 Z" fill="#000"/>
<line x1="1405.5" y1="1517.5" x2="1405.5" y2="1576.9" stroke="#000" stroke-width="4.4"/><path d="M1405.5,1591.9 Q1398.9,1580.5 1389.8,1569.9 Q1398.4,1571.7 1405.5,1574.9 Q1412.6,1571.7 1421.2,1569.9 Q1412.1,1580.5 1405.5,1591.9 Z" fill="#000"/>
</svg></body></html>
